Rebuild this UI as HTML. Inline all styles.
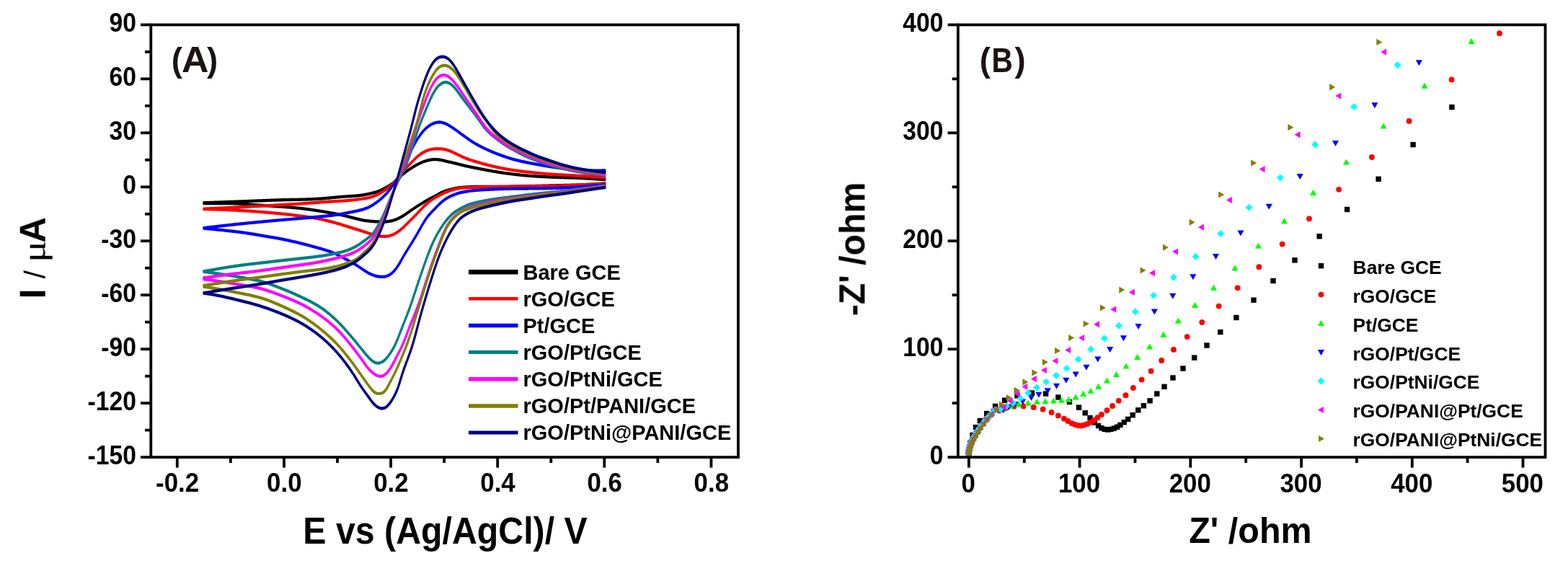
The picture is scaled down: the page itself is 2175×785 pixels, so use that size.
<!DOCTYPE html>
<html lang="en"><head><meta charset="utf-8"><style>html,body{margin:0;padding:0;background:#fff;}svg{display:block;}</style></head>
<body>
<svg width="2175" height="785" viewBox="0 0 2175 785" font-family="'Liberation Sans', sans-serif">
<rect width="2175" height="785" fill="#fff"/>
<defs><filter id="soft" filterUnits="userSpaceOnUse" x="0" y="0" width="2175" height="785" color-interpolation-filters="sRGB"><feGaussianBlur stdDeviation="0.55"/></filter></defs>
<g filter="url(#soft)">
<g id="plotA">
<g transform="scale(1,1.3871)" fill="none" stroke-width="3.1" stroke-linejoin="round" stroke-linecap="butt">
<path d="M840.3,183.44 L839.8,183.47 L838.8,183.49 L837.8,183.53 L836.8,183.56 L835.8,183.61 L834.8,183.65 L833.8,183.69 L832.8,183.74 L831.8,183.79 L830.8,183.83 L829.8,183.88 L828.8,183.93 L827.8,183.97 L826.8,184.02 L825.8,184.06 L824.8,184.11 L823.8,184.15 L822.8,184.20 L821.8,184.24 L820.8,184.28 L819.8,184.33 L818.8,184.37 L817.8,184.41 L816.8,184.45 L815.8,184.49 L814.8,184.53 L813.8,184.56 L812.8,184.60 L811.8,184.64 L810.8,184.67 L809.8,184.70 L808.8,184.74 L807.8,184.77 L806.8,184.80 L805.8,184.82 L804.8,184.85 L803.8,184.87 L802.8,184.90 L801.8,184.92 L800.8,184.94 L799.8,184.96 L798.8,184.98 L797.8,185.00 L796.8,185.02 L795.8,185.03 L794.8,185.05 L793.8,185.07 L792.8,185.09 L791.8,185.10 L790.8,185.12 L789.8,185.14 L788.8,185.16 L787.8,185.17 L786.8,185.19 L785.8,185.21 L784.8,185.23 L783.8,185.25 L782.8,185.26 L781.8,185.28 L780.8,185.30 L779.8,185.32 L778.8,185.34 L777.8,185.36 L776.8,185.37 L775.8,185.39 L774.8,185.41 L773.8,185.43 L772.8,185.45 L771.8,185.47 L770.8,185.49 L769.8,185.50 L768.8,185.52 L767.8,185.54 L766.8,185.56 L765.8,185.58 L764.8,185.60 L763.8,185.62 L762.8,185.64 L761.8,185.65 L760.8,185.67 L759.8,185.69 L758.8,185.71 L757.8,185.73 L756.8,185.75 L755.8,185.77 L754.8,185.78 L753.8,185.80 L752.8,185.82 L751.8,185.84 L750.8,185.86 L749.8,185.88 L748.8,185.89 L747.8,185.91 L746.8,185.93 L745.8,185.95 L744.8,185.97 L743.8,185.98 L742.8,186.00 L741.8,186.02 L740.8,186.04 L739.8,186.05 L738.8,186.07 L737.8,186.09 L736.8,186.10 L735.8,186.12 L734.8,186.14 L733.8,186.15 L732.8,186.17 L731.8,186.19 L730.8,186.20 L729.8,186.22 L728.8,186.23 L727.8,186.25 L726.8,186.27 L725.8,186.28 L724.8,186.30 L723.8,186.31 L722.8,186.32 L721.8,186.34 L720.8,186.35 L719.8,186.37 L718.8,186.38 L717.8,186.39 L716.8,186.41 L715.8,186.42 L714.8,186.43 L713.8,186.45 L712.8,186.46 L711.8,186.47 L710.8,186.49 L709.8,186.50 L708.8,186.51 L707.8,186.53 L706.8,186.54 L705.8,186.55 L704.8,186.57 L703.8,186.58 L702.8,186.59 L701.8,186.60 L700.8,186.61 L699.8,186.63 L698.8,186.64 L697.8,186.64 L696.8,186.65 L695.8,186.66 L694.8,186.66 L693.8,186.67 L692.8,186.67 L691.8,186.67 L690.8,186.67 L689.8,186.67 L688.8,186.67 L687.8,186.66 L686.8,186.66 L685.8,186.66 L684.8,186.65 L683.8,186.65 L682.8,186.64 L681.8,186.64 L680.8,186.63 L679.8,186.63 L678.8,186.62 L677.8,186.62 L676.8,186.62 L675.8,186.61 L674.8,186.61 L673.8,186.61 L672.8,186.61 L671.8,186.61 L670.8,186.61 L669.8,186.61 L668.8,186.61 L667.8,186.61 L666.8,186.62 L665.8,186.62 L664.8,186.63 L663.8,186.64 L662.8,186.65 L661.8,186.66 L660.8,186.68 L659.8,186.70 L658.8,186.71 L657.8,186.73 L656.8,186.76 L655.8,186.78 L654.8,186.80 L653.8,186.83 L652.8,186.86 L651.8,186.89 L650.8,186.92 L649.8,186.95 L648.8,186.99 L647.8,187.02 L646.8,187.06 L645.8,187.10 L644.8,187.14 L643.8,187.19 L642.8,187.23 L641.8,187.29 L640.8,187.34 L639.8,187.40 L638.8,187.47 L637.8,187.55 L636.8,187.64 L635.8,187.75 L634.8,187.86 L633.8,187.99 L632.8,188.13 L631.8,188.28 L630.8,188.44 L629.8,188.60 L628.8,188.77 L627.8,188.94 L626.8,189.11 L625.8,189.29 L624.8,189.47 L623.8,189.65 L622.8,189.84 L621.8,190.04 L620.8,190.25 L619.8,190.46 L618.8,190.69 L617.8,190.92 L616.8,191.17 L615.8,191.44 L614.8,191.73 L613.8,192.03 L612.8,192.36 L611.8,192.71 L610.8,193.09 L609.8,193.48 L608.8,193.88 L607.8,194.29 L606.8,194.70 L605.8,195.11 L604.8,195.51 L603.8,195.91 L602.8,196.29 L601.8,196.67 L600.8,197.03 L599.8,197.40 L598.8,197.76 L597.8,198.13 L596.8,198.50 L595.8,198.87 L594.8,199.26 L593.8,199.65 L592.8,200.06 L591.8,200.47 L590.8,200.89 L589.8,201.32 L588.8,201.75 L587.8,202.19 L586.8,202.63 L585.8,203.07 L584.8,203.51 L583.8,203.95 L582.8,204.40 L581.8,204.84 L580.8,205.29 L579.8,205.75 L578.8,206.21 L577.8,206.68 L576.8,207.16 L575.8,207.64 L574.8,208.12 L573.8,208.61 L572.8,209.10 L571.8,209.59 L570.8,210.08 L569.8,210.57 L568.8,211.07 L567.8,211.57 L566.8,212.07 L565.8,212.58 L564.8,213.08 L563.8,213.59 L562.8,214.09 L561.8,214.58 L560.8,215.06 L559.8,215.52 L558.8,215.97 L557.8,216.40 L556.8,216.82 L555.8,217.22 L554.8,217.61 L553.8,217.98 L552.8,218.34 L551.8,218.68 L550.8,219.00 L549.8,219.30 L548.8,219.58 L547.8,219.84 L546.8,220.07 L545.8,220.28 L544.8,220.48 L543.8,220.66 L542.8,220.83 L541.8,220.99 L540.8,221.13 L539.8,221.26 L538.8,221.38 L537.8,221.48 L536.8,221.56 L535.8,221.62 L534.8,221.67 L533.8,221.70 L532.8,221.72 L531.8,221.73 L530.8,221.73 L529.8,221.73 L528.8,221.72 L527.8,221.71 L526.8,221.70 L525.8,221.68 L524.8,221.66 L523.8,221.64 L522.8,221.61 L521.8,221.58 L520.8,221.55 L519.8,221.50 L518.8,221.45 L517.8,221.40 L516.8,221.34 L515.8,221.28 L514.8,221.21 L513.8,221.14 L512.8,221.07 L511.8,221.00 L510.8,220.92 L509.8,220.84 L508.8,220.76 L507.8,220.67 L506.8,220.58 L505.8,220.47 L504.8,220.36 L503.8,220.24 L502.8,220.10 L501.8,219.96 L500.8,219.80 L499.8,219.64 L498.8,219.46 L497.8,219.29 L496.8,219.10 L495.8,218.92 L494.8,218.73 L493.8,218.54 L492.8,218.35 L491.8,218.16 L490.8,217.97 L489.8,217.77 L488.8,217.58 L487.8,217.39 L486.8,217.20 L485.8,217.02 L484.8,216.83 L483.8,216.65 L482.8,216.47 L481.8,216.29 L480.8,216.12 L479.8,215.95 L478.8,215.79 L477.8,215.62 L476.8,215.46 L475.8,215.30 L474.8,215.15 L473.8,214.99 L472.8,214.84 L471.8,214.68 L470.8,214.53 L469.8,214.38 L468.8,214.24 L467.8,214.09 L466.8,213.95 L465.8,213.81 L464.8,213.67 L463.8,213.53 L462.8,213.39 L461.8,213.26 L460.8,213.12 L459.8,212.99 L458.8,212.86 L457.8,212.72 L456.8,212.59 L455.8,212.47 L454.8,212.34 L453.8,212.21 L452.8,212.09 L451.8,211.96 L450.8,211.84 L449.8,211.72 L448.8,211.60 L447.8,211.48 L446.8,211.36 L445.8,211.24 L444.8,211.13 L443.8,211.01 L442.8,210.90 L441.8,210.79 L440.8,210.68 L439.8,210.57 L438.8,210.46 L437.8,210.35 L436.8,210.24 L435.8,210.14 L434.8,210.03 L433.8,209.93 L432.8,209.82 L431.8,209.72 L430.8,209.61 L429.8,209.51 L428.8,209.41 L427.8,209.31 L426.8,209.21 L425.8,209.11 L424.8,209.01 L423.8,208.92 L422.8,208.82 L421.8,208.73 L420.8,208.64 L419.8,208.55 L418.8,208.46 L417.8,208.37 L416.8,208.29 L415.8,208.21 L414.8,208.13 L413.8,208.05 L412.8,207.97 L411.8,207.90 L410.8,207.83 L409.8,207.76 L408.8,207.69 L407.8,207.62 L406.8,207.56 L405.8,207.50 L404.8,207.44 L403.8,207.38 L402.8,207.32 L401.8,207.26 L400.8,207.20 L399.8,207.15 L398.8,207.09 L397.8,207.04 L396.8,206.98 L395.8,206.93 L394.8,206.88 L393.8,206.83 L392.8,206.78 L391.8,206.72 L390.8,206.67 L389.8,206.62 L388.8,206.57 L387.8,206.52 L386.8,206.47 L385.8,206.42 L384.8,206.37 L383.8,206.32 L382.8,206.27 L381.8,206.22 L380.8,206.17 L379.8,206.12 L378.8,206.07 L377.8,206.02 L376.8,205.97 L375.8,205.93 L374.8,205.88 L373.8,205.83 L372.8,205.78 L371.8,205.74 L370.8,205.69 L369.8,205.65 L368.8,205.60 L367.8,205.55 L366.8,205.51 L365.8,205.46 L364.8,205.42 L363.8,205.37 L362.8,205.32 L361.8,205.28 L360.8,205.23 L359.8,205.18 L358.8,205.14 L357.8,205.09 L356.8,205.04 L355.8,204.99 L354.8,204.94 L353.8,204.89 L352.8,204.84 L351.8,204.78 L350.8,204.73 L349.8,204.67 L348.8,204.61 L347.8,204.55 L346.8,204.50 L345.8,204.43 L344.8,204.37 L343.8,204.31 L342.8,204.25 L341.8,204.19 L340.8,204.13 L339.8,204.07 L338.8,204.02 L337.8,203.96 L336.8,203.91 L335.8,203.85 L334.8,203.81 L333.8,203.76 L332.8,203.71 L331.8,203.67 L330.8,203.64 L329.8,203.60 L328.8,203.57 L327.8,203.55 L326.8,203.52 L325.8,203.50 L324.8,203.48 L323.8,203.47 L322.8,203.45 L321.8,203.44 L320.8,203.42 L319.8,203.41 L318.8,203.40 L317.8,203.39 L316.8,203.38 L315.8,203.37 L314.8,203.36 L313.8,203.35 L312.8,203.34 L311.8,203.34 L310.8,203.33 L309.8,203.32 L308.8,203.32 L307.8,203.32 L306.8,203.31 L305.8,203.31 L304.8,203.31 L303.8,203.31 L302.8,203.31 L301.8,203.31 L300.8,203.31 L299.8,203.31 L298.8,203.31 L297.8,203.31 L296.8,203.32 L295.8,203.32 L294.8,203.33 L293.8,203.33 L292.8,203.34 L291.8,203.35 L290.8,203.36 L289.8,203.37 L288.8,203.38 L287.8,203.39 L286.8,203.40 L285.8,203.41 L284.8,203.42 L283.8,203.42 L282.8,203.43 L282.8,202.77 L283.8,202.75 L284.8,202.73 L285.8,202.71 L286.8,202.69 L287.8,202.67 L288.8,202.64 L289.8,202.61 L290.8,202.59 L291.8,202.56 L292.8,202.54 L293.8,202.51 L294.8,202.48 L295.8,202.46 L296.8,202.43 L297.8,202.40 L298.8,202.38 L299.8,202.35 L300.8,202.33 L301.8,202.30 L302.8,202.27 L303.8,202.25 L304.8,202.22 L305.8,202.19 L306.8,202.17 L307.8,202.14 L308.8,202.11 L309.8,202.09 L310.8,202.06 L311.8,202.03 L312.8,202.01 L313.8,201.98 L314.8,201.95 L315.8,201.93 L316.8,201.90 L317.8,201.87 L318.8,201.85 L319.8,201.82 L320.8,201.79 L321.8,201.77 L322.8,201.74 L323.8,201.71 L324.8,201.69 L325.8,201.66 L326.8,201.63 L327.8,201.61 L328.8,201.58 L329.8,201.55 L330.8,201.52 L331.8,201.50 L332.8,201.47 L333.8,201.44 L334.8,201.41 L335.8,201.39 L336.8,201.36 L337.8,201.33 L338.8,201.30 L339.8,201.27 L340.8,201.25 L341.8,201.22 L342.8,201.19 L343.8,201.16 L344.8,201.13 L345.8,201.11 L346.8,201.08 L347.8,201.05 L348.8,201.02 L349.8,200.99 L350.8,200.96 L351.8,200.94 L352.8,200.91 L353.8,200.88 L354.8,200.85 L355.8,200.82 L356.8,200.79 L357.8,200.76 L358.8,200.73 L359.8,200.71 L360.8,200.68 L361.8,200.65 L362.8,200.62 L363.8,200.59 L364.8,200.56 L365.8,200.53 L366.8,200.51 L367.8,200.48 L368.8,200.45 L369.8,200.42 L370.8,200.39 L371.8,200.36 L372.8,200.33 L373.8,200.30 L374.8,200.28 L375.8,200.25 L376.8,200.22 L377.8,200.19 L378.8,200.16 L379.8,200.14 L380.8,200.11 L381.8,200.08 L382.8,200.06 L383.8,200.03 L384.8,200.01 L385.8,199.99 L386.8,199.96 L387.8,199.94 L388.8,199.92 L389.8,199.90 L390.8,199.88 L391.8,199.87 L392.8,199.85 L393.8,199.83 L394.8,199.82 L395.8,199.80 L396.8,199.79 L397.8,199.77 L398.8,199.76 L399.8,199.74 L400.8,199.73 L401.8,199.72 L402.8,199.70 L403.8,199.69 L404.8,199.68 L405.8,199.66 L406.8,199.65 L407.8,199.64 L408.8,199.62 L409.8,199.61 L410.8,199.60 L411.8,199.58 L412.8,199.57 L413.8,199.56 L414.8,199.54 L415.8,199.53 L416.8,199.51 L417.8,199.49 L418.8,199.48 L419.8,199.46 L420.8,199.44 L421.8,199.42 L422.8,199.40 L423.8,199.38 L424.8,199.36 L425.8,199.34 L426.8,199.31 L427.8,199.29 L428.8,199.26 L429.8,199.24 L430.8,199.21 L431.8,199.18 L432.8,199.15 L433.8,199.12 L434.8,199.08 L435.8,199.05 L436.8,199.01 L437.8,198.97 L438.8,198.93 L439.8,198.89 L440.8,198.85 L441.8,198.80 L442.8,198.76 L443.8,198.71 L444.8,198.65 L445.8,198.60 L446.8,198.55 L447.8,198.49 L448.8,198.43 L449.8,198.37 L450.8,198.31 L451.8,198.24 L452.8,198.18 L453.8,198.11 L454.8,198.05 L455.8,197.98 L456.8,197.91 L457.8,197.84 L458.8,197.77 L459.8,197.70 L460.8,197.63 L461.8,197.56 L462.8,197.49 L463.8,197.42 L464.8,197.35 L465.8,197.28 L466.8,197.22 L467.8,197.15 L468.8,197.08 L469.8,197.02 L470.8,196.96 L471.8,196.90 L472.8,196.84 L473.8,196.78 L474.8,196.73 L475.8,196.67 L476.8,196.62 L477.8,196.57 L478.8,196.52 L479.8,196.47 L480.8,196.42 L481.8,196.38 L482.8,196.33 L483.8,196.28 L484.8,196.23 L485.8,196.19 L486.8,196.14 L487.8,196.09 L488.8,196.04 L489.8,195.99 L490.8,195.93 L491.8,195.88 L492.8,195.82 L493.8,195.76 L494.8,195.70 L495.8,195.64 L496.8,195.57 L497.8,195.50 L498.8,195.43 L499.8,195.35 L500.8,195.26 L501.8,195.16 L502.8,195.06 L503.8,194.95 L504.8,194.83 L505.8,194.70 L506.8,194.56 L507.8,194.42 L508.8,194.27 L509.8,194.12 L510.8,193.97 L511.8,193.81 L512.8,193.65 L513.8,193.48 L514.8,193.31 L515.8,193.14 L516.8,192.96 L517.8,192.78 L518.8,192.59 L519.8,192.40 L520.8,192.19 L521.8,191.98 L522.8,191.75 L523.8,191.51 L524.8,191.25 L525.8,190.97 L526.8,190.68 L527.8,190.37 L528.8,190.04 L529.8,189.70 L530.8,189.34 L531.8,188.98 L532.8,188.60 L533.8,188.21 L534.8,187.82 L535.8,187.41 L536.8,187.00 L537.8,186.57 L538.8,186.13 L539.8,185.67 L540.8,185.20 L541.8,184.72 L542.8,184.22 L543.8,183.70 L544.8,183.17 L545.8,182.61 L546.8,182.04 L547.8,181.44 L548.8,180.83 L549.8,180.20 L550.8,179.55 L551.8,178.90 L552.8,178.23 L553.8,177.56 L554.8,176.89 L555.8,176.23 L556.8,175.58 L557.8,174.93 L558.8,174.30 L559.8,173.69 L560.8,173.09 L561.8,172.51 L562.8,171.94 L563.8,171.39 L564.8,170.86 L565.8,170.35 L566.8,169.84 L567.8,169.35 L568.8,168.87 L569.8,168.40 L570.8,167.94 L571.8,167.48 L572.8,167.03 L573.8,166.59 L574.8,166.16 L575.8,165.74 L576.8,165.33 L577.8,164.93 L578.8,164.54 L579.8,164.17 L580.8,163.81 L581.8,163.46 L582.8,163.12 L583.8,162.79 L584.8,162.48 L585.8,162.17 L586.8,161.88 L587.8,161.61 L588.8,161.35 L589.8,161.11 L590.8,160.89 L591.8,160.69 L592.8,160.50 L593.8,160.32 L594.8,160.15 L595.8,160.00 L596.8,159.86 L597.8,159.73 L598.8,159.62 L599.8,159.53 L600.8,159.46 L601.8,159.41 L602.8,159.38 L603.8,159.38 L604.8,159.40 L605.8,159.44 L606.8,159.50 L607.8,159.58 L608.8,159.67 L609.8,159.78 L610.8,159.90 L611.8,160.03 L612.8,160.17 L613.8,160.33 L614.8,160.49 L615.8,160.66 L616.8,160.84 L617.8,161.01 L618.8,161.19 L619.8,161.36 L620.8,161.53 L621.8,161.70 L622.8,161.86 L623.8,162.03 L624.8,162.19 L625.8,162.35 L626.8,162.52 L627.8,162.68 L628.8,162.85 L629.8,163.02 L630.8,163.20 L631.8,163.37 L632.8,163.55 L633.8,163.73 L634.8,163.91 L635.8,164.10 L636.8,164.28 L637.8,164.47 L638.8,164.65 L639.8,164.84 L640.8,165.02 L641.8,165.20 L642.8,165.38 L643.8,165.55 L644.8,165.72 L645.8,165.88 L646.8,166.04 L647.8,166.20 L648.8,166.35 L649.8,166.51 L650.8,166.66 L651.8,166.81 L652.8,166.95 L653.8,167.10 L654.8,167.25 L655.8,167.39 L656.8,167.54 L657.8,167.68 L658.8,167.83 L659.8,167.97 L660.8,168.12 L661.8,168.26 L662.8,168.40 L663.8,168.54 L664.8,168.68 L665.8,168.82 L666.8,168.96 L667.8,169.10 L668.8,169.24 L669.8,169.38 L670.8,169.52 L671.8,169.65 L672.8,169.79 L673.8,169.92 L674.8,170.06 L675.8,170.19 L676.8,170.33 L677.8,170.46 L678.8,170.59 L679.8,170.72 L680.8,170.85 L681.8,170.98 L682.8,171.11 L683.8,171.24 L684.8,171.36 L685.8,171.49 L686.8,171.61 L687.8,171.73 L688.8,171.85 L689.8,171.97 L690.8,172.09 L691.8,172.20 L692.8,172.31 L693.8,172.43 L694.8,172.54 L695.8,172.64 L696.8,172.75 L697.8,172.86 L698.8,172.96 L699.8,173.06 L700.8,173.16 L701.8,173.26 L702.8,173.36 L703.8,173.46 L704.8,173.55 L705.8,173.64 L706.8,173.73 L707.8,173.82 L708.8,173.91 L709.8,174.00 L710.8,174.08 L711.8,174.17 L712.8,174.25 L713.8,174.33 L714.8,174.41 L715.8,174.49 L716.8,174.57 L717.8,174.65 L718.8,174.73 L719.8,174.81 L720.8,174.88 L721.8,174.96 L722.8,175.03 L723.8,175.11 L724.8,175.18 L725.8,175.25 L726.8,175.32 L727.8,175.39 L728.8,175.46 L729.8,175.52 L730.8,175.59 L731.8,175.65 L732.8,175.71 L733.8,175.77 L734.8,175.83 L735.8,175.89 L736.8,175.95 L737.8,176.00 L738.8,176.05 L739.8,176.11 L740.8,176.16 L741.8,176.21 L742.8,176.25 L743.8,176.30 L744.8,176.34 L745.8,176.39 L746.8,176.43 L747.8,176.47 L748.8,176.52 L749.8,176.56 L750.8,176.60 L751.8,176.64 L752.8,176.67 L753.8,176.71 L754.8,176.75 L755.8,176.79 L756.8,176.82 L757.8,176.86 L758.8,176.89 L759.8,176.93 L760.8,176.96 L761.8,176.99 L762.8,177.02 L763.8,177.05 L764.8,177.08 L765.8,177.11 L766.8,177.14 L767.8,177.17 L768.8,177.20 L769.8,177.22 L770.8,177.25 L771.8,177.28 L772.8,177.30 L773.8,177.33 L774.8,177.35 L775.8,177.37 L776.8,177.40 L777.8,177.42 L778.8,177.44 L779.8,177.46 L780.8,177.49 L781.8,177.51 L782.8,177.53 L783.8,177.55 L784.8,177.57 L785.8,177.59 L786.8,177.61 L787.8,177.63 L788.8,177.66 L789.8,177.68 L790.8,177.70 L791.8,177.72 L792.8,177.74 L793.8,177.77 L794.8,177.79 L795.8,177.82 L796.8,177.84 L797.8,177.87 L798.8,177.90 L799.8,177.93 L800.8,177.96 L801.8,177.99 L802.8,178.02 L803.8,178.06 L804.8,178.09 L805.8,178.12 L806.8,178.16 L807.8,178.19 L808.8,178.23 L809.8,178.26 L810.8,178.30 L811.8,178.34 L812.8,178.37 L813.8,178.41 L814.8,178.45 L815.8,178.49 L816.8,178.53 L817.8,178.57 L818.8,178.62 L819.8,178.66 L820.8,178.70 L821.8,178.74 L822.8,178.79 L823.8,178.83 L824.8,178.87 L825.8,178.92 L826.8,178.96 L827.8,179.00 L828.8,179.05 L829.8,179.09 L830.8,179.13 L831.8,179.18 L832.8,179.22 L833.8,179.26 L834.8,179.30 L835.8,179.34 L836.8,179.38 L837.8,179.41 L838.8,179.44 L839.8,179.46 L840.3,179.48" stroke="#000000"/>
<path d="M840.3,183.66 L839.8,183.68 L838.8,183.71 L837.8,183.74 L836.8,183.77 L835.8,183.81 L834.8,183.84 L833.8,183.88 L832.8,183.92 L831.8,183.96 L830.8,184.00 L829.8,184.04 L828.8,184.08 L827.8,184.12 L826.8,184.15 L825.8,184.19 L824.8,184.23 L823.8,184.27 L822.8,184.30 L821.8,184.34 L820.8,184.38 L819.8,184.41 L818.8,184.45 L817.8,184.48 L816.8,184.52 L815.8,184.56 L814.8,184.59 L813.8,184.63 L812.8,184.66 L811.8,184.69 L810.8,184.73 L809.8,184.76 L808.8,184.80 L807.8,184.83 L806.8,184.86 L805.8,184.89 L804.8,184.93 L803.8,184.96 L802.8,184.99 L801.8,185.02 L800.8,185.05 L799.8,185.08 L798.8,185.12 L797.8,185.15 L796.8,185.18 L795.8,185.21 L794.8,185.24 L793.8,185.27 L792.8,185.30 L791.8,185.33 L790.8,185.36 L789.8,185.39 L788.8,185.42 L787.8,185.44 L786.8,185.47 L785.8,185.50 L784.8,185.53 L783.8,185.56 L782.8,185.59 L781.8,185.62 L780.8,185.65 L779.8,185.67 L778.8,185.70 L777.8,185.73 L776.8,185.76 L775.8,185.78 L774.8,185.81 L773.8,185.84 L772.8,185.86 L771.8,185.88 L770.8,185.91 L769.8,185.93 L768.8,185.96 L767.8,185.98 L766.8,186.00 L765.8,186.02 L764.8,186.04 L763.8,186.06 L762.8,186.08 L761.8,186.10 L760.8,186.12 L759.8,186.14 L758.8,186.15 L757.8,186.17 L756.8,186.18 L755.8,186.20 L754.8,186.21 L753.8,186.23 L752.8,186.24 L751.8,186.25 L750.8,186.26 L749.8,186.28 L748.8,186.29 L747.8,186.30 L746.8,186.31 L745.8,186.32 L744.8,186.33 L743.8,186.34 L742.8,186.35 L741.8,186.36 L740.8,186.36 L739.8,186.37 L738.8,186.38 L737.8,186.39 L736.8,186.40 L735.8,186.40 L734.8,186.41 L733.8,186.42 L732.8,186.43 L731.8,186.43 L730.8,186.44 L729.8,186.45 L728.8,186.45 L727.8,186.46 L726.8,186.47 L725.8,186.47 L724.8,186.48 L723.8,186.49 L722.8,186.49 L721.8,186.50 L720.8,186.51 L719.8,186.51 L718.8,186.52 L717.8,186.53 L716.8,186.53 L715.8,186.54 L714.8,186.55 L713.8,186.56 L712.8,186.57 L711.8,186.57 L710.8,186.58 L709.8,186.59 L708.8,186.60 L707.8,186.61 L706.8,186.62 L705.8,186.63 L704.8,186.63 L703.8,186.64 L702.8,186.65 L701.8,186.66 L700.8,186.67 L699.8,186.67 L698.8,186.68 L697.8,186.69 L696.8,186.70 L695.8,186.71 L694.8,186.72 L693.8,186.73 L692.8,186.73 L691.8,186.74 L690.8,186.75 L689.8,186.76 L688.8,186.77 L687.8,186.78 L686.8,186.79 L685.8,186.80 L684.8,186.81 L683.8,186.82 L682.8,186.84 L681.8,186.85 L680.8,186.86 L679.8,186.87 L678.8,186.88 L677.8,186.90 L676.8,186.91 L675.8,186.92 L674.8,186.94 L673.8,186.95 L672.8,186.97 L671.8,186.98 L670.8,187.00 L669.8,187.02 L668.8,187.04 L667.8,187.05 L666.8,187.07 L665.8,187.09 L664.8,187.11 L663.8,187.13 L662.8,187.15 L661.8,187.17 L660.8,187.20 L659.8,187.22 L658.8,187.24 L657.8,187.27 L656.8,187.30 L655.8,187.32 L654.8,187.35 L653.8,187.38 L652.8,187.41 L651.8,187.44 L650.8,187.47 L649.8,187.51 L648.8,187.54 L647.8,187.58 L646.8,187.62 L645.8,187.66 L644.8,187.70 L643.8,187.75 L642.8,187.80 L641.8,187.85 L640.8,187.91 L639.8,187.98 L638.8,188.06 L637.8,188.16 L636.8,188.26 L635.8,188.39 L634.8,188.54 L633.8,188.70 L632.8,188.87 L631.8,189.06 L630.8,189.26 L629.8,189.47 L628.8,189.68 L627.8,189.90 L626.8,190.12 L625.8,190.34 L624.8,190.58 L623.8,190.81 L622.8,191.06 L621.8,191.31 L620.8,191.57 L619.8,191.84 L618.8,192.12 L617.8,192.41 L616.8,192.71 L615.8,193.02 L614.8,193.35 L613.8,193.68 L612.8,194.04 L611.8,194.40 L610.8,194.78 L609.8,195.17 L608.8,195.57 L607.8,195.97 L606.8,196.38 L605.8,196.79 L604.8,197.20 L603.8,197.61 L602.8,198.02 L601.8,198.45 L600.8,198.89 L599.8,199.35 L598.8,199.83 L597.8,200.33 L596.8,200.86 L595.8,201.41 L594.8,201.98 L593.8,202.58 L592.8,203.20 L591.8,203.84 L590.8,204.51 L589.8,205.19 L588.8,205.89 L587.8,206.61 L586.8,207.34 L585.8,208.09 L584.8,208.83 L583.8,209.58 L582.8,210.33 L581.8,211.08 L580.8,211.83 L579.8,212.57 L578.8,213.31 L577.8,214.05 L576.8,214.78 L575.8,215.51 L574.8,216.23 L573.8,216.94 L572.8,217.66 L571.8,218.37 L570.8,219.08 L569.8,219.79 L568.8,220.51 L567.8,221.24 L566.8,221.97 L565.8,222.71 L564.8,223.46 L563.8,224.20 L562.8,224.94 L561.8,225.66 L560.8,226.37 L559.8,227.05 L558.8,227.71 L557.8,228.35 L556.8,228.97 L555.8,229.57 L554.8,230.16 L553.8,230.72 L552.8,231.27 L551.8,231.80 L550.8,232.30 L549.8,232.78 L548.8,233.22 L547.8,233.63 L546.8,234.00 L545.8,234.34 L544.8,234.65 L543.8,234.93 L542.8,235.19 L541.8,235.43 L540.8,235.64 L539.8,235.84 L538.8,236.01 L537.8,236.15 L536.8,236.26 L535.8,236.35 L534.8,236.40 L533.8,236.43 L532.8,236.44 L531.8,236.43 L530.8,236.40 L529.8,236.35 L528.8,236.28 L527.8,236.20 L526.8,236.11 L525.8,236.00 L524.8,235.87 L523.8,235.74 L522.8,235.59 L521.8,235.43 L520.8,235.26 L519.8,235.08 L518.8,234.89 L517.8,234.69 L516.8,234.48 L515.8,234.26 L514.8,234.04 L513.8,233.81 L512.8,233.58 L511.8,233.34 L510.8,233.10 L509.8,232.86 L508.8,232.62 L507.8,232.38 L506.8,232.13 L505.8,231.89 L504.8,231.65 L503.8,231.41 L502.8,231.17 L501.8,230.93 L500.8,230.69 L499.8,230.46 L498.8,230.23 L497.8,230.01 L496.8,229.79 L495.8,229.57 L494.8,229.35 L493.8,229.14 L492.8,228.93 L491.8,228.71 L490.8,228.49 L489.8,228.28 L488.8,228.06 L487.8,227.83 L486.8,227.61 L485.8,227.38 L484.8,227.16 L483.8,226.93 L482.8,226.70 L481.8,226.47 L480.8,226.24 L479.8,226.01 L478.8,225.78 L477.8,225.55 L476.8,225.33 L475.8,225.10 L474.8,224.87 L473.8,224.65 L472.8,224.43 L471.8,224.21 L470.8,223.99 L469.8,223.78 L468.8,223.57 L467.8,223.36 L466.8,223.16 L465.8,222.95 L464.8,222.75 L463.8,222.55 L462.8,222.35 L461.8,222.15 L460.8,221.95 L459.8,221.76 L458.8,221.56 L457.8,221.37 L456.8,221.18 L455.8,220.99 L454.8,220.80 L453.8,220.62 L452.8,220.44 L451.8,220.26 L450.8,220.09 L449.8,219.92 L448.8,219.75 L447.8,219.59 L446.8,219.43 L445.8,219.27 L444.8,219.12 L443.8,218.98 L442.8,218.83 L441.8,218.69 L440.8,218.56 L439.8,218.43 L438.8,218.30 L437.8,218.18 L436.8,218.05 L435.8,217.94 L434.8,217.82 L433.8,217.71 L432.8,217.59 L431.8,217.48 L430.8,217.38 L429.8,217.27 L428.8,217.16 L427.8,217.06 L426.8,216.95 L425.8,216.85 L424.8,216.75 L423.8,216.65 L422.8,216.55 L421.8,216.45 L420.8,216.34 L419.8,216.25 L418.8,216.15 L417.8,216.05 L416.8,215.95 L415.8,215.85 L414.8,215.76 L413.8,215.66 L412.8,215.57 L411.8,215.48 L410.8,215.39 L409.8,215.30 L408.8,215.21 L407.8,215.12 L406.8,215.03 L405.8,214.95 L404.8,214.86 L403.8,214.78 L402.8,214.69 L401.8,214.61 L400.8,214.53 L399.8,214.45 L398.8,214.37 L397.8,214.29 L396.8,214.21 L395.8,214.13 L394.8,214.05 L393.8,213.98 L392.8,213.90 L391.8,213.83 L390.8,213.76 L389.8,213.68 L388.8,213.61 L387.8,213.54 L386.8,213.47 L385.8,213.40 L384.8,213.33 L383.8,213.26 L382.8,213.20 L381.8,213.13 L380.8,213.06 L379.8,213.00 L378.8,212.93 L377.8,212.87 L376.8,212.80 L375.8,212.74 L374.8,212.67 L373.8,212.61 L372.8,212.55 L371.8,212.49 L370.8,212.42 L369.8,212.36 L368.8,212.30 L367.8,212.24 L366.8,212.18 L365.8,212.12 L364.8,212.07 L363.8,212.01 L362.8,211.95 L361.8,211.89 L360.8,211.83 L359.8,211.78 L358.8,211.72 L357.8,211.67 L356.8,211.61 L355.8,211.56 L354.8,211.50 L353.8,211.45 L352.8,211.39 L351.8,211.34 L350.8,211.29 L349.8,211.24 L348.8,211.18 L347.8,211.13 L346.8,211.08 L345.8,211.03 L344.8,210.98 L343.8,210.93 L342.8,210.88 L341.8,210.83 L340.8,210.78 L339.8,210.73 L338.8,210.69 L337.8,210.64 L336.8,210.59 L335.8,210.55 L334.8,210.50 L333.8,210.46 L332.8,210.42 L331.8,210.38 L330.8,210.33 L329.8,210.29 L328.8,210.25 L327.8,210.21 L326.8,210.18 L325.8,210.14 L324.8,210.10 L323.8,210.07 L322.8,210.03 L321.8,210.00 L320.8,209.96 L319.8,209.93 L318.8,209.90 L317.8,209.86 L316.8,209.83 L315.8,209.80 L314.8,209.77 L313.8,209.74 L312.8,209.71 L311.8,209.69 L310.8,209.66 L309.8,209.63 L308.8,209.61 L307.8,209.58 L306.8,209.55 L305.8,209.53 L304.8,209.51 L303.8,209.48 L302.8,209.46 L301.8,209.44 L300.8,209.41 L299.8,209.39 L298.8,209.37 L297.8,209.35 L296.8,209.33 L295.8,209.31 L294.8,209.29 L293.8,209.27 L292.8,209.25 L291.8,209.23 L290.8,209.21 L289.8,209.20 L288.8,209.18 L287.8,209.16 L286.8,209.14 L285.8,209.13 L284.8,209.11 L283.8,209.10 L282.8,209.09 L282.8,208.81 L283.8,208.79 L284.8,208.77 L285.8,208.74 L286.8,208.71 L287.8,208.68 L288.8,208.65 L289.8,208.61 L290.8,208.58 L291.8,208.54 L292.8,208.51 L293.8,208.47 L294.8,208.44 L295.8,208.40 L296.8,208.37 L297.8,208.33 L298.8,208.30 L299.8,208.26 L300.8,208.23 L301.8,208.19 L302.8,208.16 L303.8,208.12 L304.8,208.09 L305.8,208.05 L306.8,208.02 L307.8,207.98 L308.8,207.94 L309.8,207.91 L310.8,207.87 L311.8,207.84 L312.8,207.80 L313.8,207.77 L314.8,207.73 L315.8,207.69 L316.8,207.66 L317.8,207.62 L318.8,207.58 L319.8,207.55 L320.8,207.51 L321.8,207.48 L322.8,207.44 L323.8,207.40 L324.8,207.37 L325.8,207.33 L326.8,207.29 L327.8,207.26 L328.8,207.22 L329.8,207.18 L330.8,207.15 L331.8,207.11 L332.8,207.07 L333.8,207.04 L334.8,207.00 L335.8,206.96 L336.8,206.92 L337.8,206.89 L338.8,206.85 L339.8,206.81 L340.8,206.78 L341.8,206.74 L342.8,206.70 L343.8,206.67 L344.8,206.63 L345.8,206.59 L346.8,206.55 L347.8,206.52 L348.8,206.48 L349.8,206.44 L350.8,206.40 L351.8,206.37 L352.8,206.33 L353.8,206.29 L354.8,206.25 L355.8,206.22 L356.8,206.18 L357.8,206.14 L358.8,206.10 L359.8,206.06 L360.8,206.02 L361.8,205.99 L362.8,205.95 L363.8,205.91 L364.8,205.87 L365.8,205.83 L366.8,205.79 L367.8,205.75 L368.8,205.71 L369.8,205.67 L370.8,205.63 L371.8,205.59 L372.8,205.55 L373.8,205.51 L374.8,205.47 L375.8,205.43 L376.8,205.39 L377.8,205.35 L378.8,205.31 L379.8,205.27 L380.8,205.23 L381.8,205.18 L382.8,205.14 L383.8,205.10 L384.8,205.06 L385.8,205.02 L386.8,204.97 L387.8,204.93 L388.8,204.89 L389.8,204.85 L390.8,204.81 L391.8,204.76 L392.8,204.72 L393.8,204.68 L394.8,204.64 L395.8,204.59 L396.8,204.55 L397.8,204.51 L398.8,204.46 L399.8,204.42 L400.8,204.38 L401.8,204.33 L402.8,204.29 L403.8,204.25 L404.8,204.20 L405.8,204.16 L406.8,204.11 L407.8,204.07 L408.8,204.02 L409.8,203.98 L410.8,203.93 L411.8,203.88 L412.8,203.84 L413.8,203.79 L414.8,203.75 L415.8,203.70 L416.8,203.65 L417.8,203.60 L418.8,203.56 L419.8,203.51 L420.8,203.46 L421.8,203.41 L422.8,203.36 L423.8,203.31 L424.8,203.26 L425.8,203.21 L426.8,203.16 L427.8,203.11 L428.8,203.06 L429.8,203.00 L430.8,202.95 L431.8,202.90 L432.8,202.85 L433.8,202.79 L434.8,202.74 L435.8,202.68 L436.8,202.63 L437.8,202.57 L438.8,202.51 L439.8,202.46 L440.8,202.40 L441.8,202.34 L442.8,202.29 L443.8,202.23 L444.8,202.18 L445.8,202.12 L446.8,202.07 L447.8,202.02 L448.8,201.97 L449.8,201.92 L450.8,201.87 L451.8,201.82 L452.8,201.77 L453.8,201.73 L454.8,201.68 L455.8,201.64 L456.8,201.59 L457.8,201.55 L458.8,201.51 L459.8,201.47 L460.8,201.43 L461.8,201.39 L462.8,201.35 L463.8,201.31 L464.8,201.27 L465.8,201.23 L466.8,201.20 L467.8,201.16 L468.8,201.13 L469.8,201.09 L470.8,201.05 L471.8,201.02 L472.8,200.98 L473.8,200.94 L474.8,200.90 L475.8,200.85 L476.8,200.81 L477.8,200.76 L478.8,200.71 L479.8,200.65 L480.8,200.59 L481.8,200.53 L482.8,200.47 L483.8,200.40 L484.8,200.32 L485.8,200.24 L486.8,200.16 L487.8,200.08 L488.8,200.00 L489.8,199.91 L490.8,199.82 L491.8,199.73 L492.8,199.64 L493.8,199.55 L494.8,199.45 L495.8,199.36 L496.8,199.27 L497.8,199.18 L498.8,199.09 L499.8,199.00 L500.8,198.91 L501.8,198.82 L502.8,198.72 L503.8,198.63 L504.8,198.53 L505.8,198.43 L506.8,198.32 L507.8,198.21 L508.8,198.08 L509.8,197.95 L510.8,197.80 L511.8,197.64 L512.8,197.46 L513.8,197.26 L514.8,197.04 L515.8,196.81 L516.8,196.55 L517.8,196.28 L518.8,196.00 L519.8,195.70 L520.8,195.40 L521.8,195.08 L522.8,194.75 L523.8,194.41 L524.8,194.06 L525.8,193.70 L526.8,193.32 L527.8,192.93 L528.8,192.52 L529.8,192.10 L530.8,191.66 L531.8,191.21 L532.8,190.74 L533.8,190.26 L534.8,189.76 L535.8,189.25 L536.8,188.71 L537.8,188.16 L538.8,187.59 L539.8,187.00 L540.8,186.38 L541.8,185.75 L542.8,185.09 L543.8,184.41 L544.8,183.70 L545.8,182.96 L546.8,182.20 L547.8,181.40 L548.8,180.58 L549.8,179.73 L550.8,178.85 L551.8,177.96 L552.8,177.05 L553.8,176.13 L554.8,175.22 L555.8,174.30 L556.8,173.40 L557.8,172.51 L558.8,171.64 L559.8,170.80 L560.8,169.97 L561.8,169.16 L562.8,168.37 L563.8,167.61 L564.8,166.85 L565.8,166.11 L566.8,165.37 L567.8,164.63 L568.8,163.89 L569.8,163.15 L570.8,162.41 L571.8,161.65 L572.8,160.90 L573.8,160.16 L574.8,159.42 L575.8,158.70 L576.8,158.01 L577.8,157.33 L578.8,156.69 L579.8,156.08 L580.8,155.50 L581.8,154.94 L582.8,154.41 L583.8,153.90 L584.8,153.42 L585.8,152.96 L586.8,152.53 L587.8,152.12 L588.8,151.74 L589.8,151.39 L590.8,151.07 L591.8,150.77 L592.8,150.50 L593.8,150.24 L594.8,150.01 L595.8,149.79 L596.8,149.59 L597.8,149.40 L598.8,149.24 L599.8,149.11 L600.8,148.99 L601.8,148.91 L602.8,148.84 L603.8,148.80 L604.8,148.77 L605.8,148.75 L606.8,148.75 L607.8,148.75 L608.8,148.76 L609.8,148.79 L610.8,148.82 L611.8,148.88 L612.8,148.95 L613.8,149.04 L614.8,149.14 L615.8,149.27 L616.8,149.41 L617.8,149.57 L618.8,149.74 L619.8,149.93 L620.8,150.14 L621.8,150.36 L622.8,150.61 L623.8,150.88 L624.8,151.17 L625.8,151.47 L626.8,151.79 L627.8,152.12 L628.8,152.45 L629.8,152.79 L630.8,153.13 L631.8,153.47 L632.8,153.82 L633.8,154.16 L634.8,154.51 L635.8,154.86 L636.8,155.21 L637.8,155.57 L638.8,155.92 L639.8,156.26 L640.8,156.60 L641.8,156.94 L642.8,157.27 L643.8,157.58 L644.8,157.89 L645.8,158.18 L646.8,158.47 L647.8,158.74 L648.8,159.01 L649.8,159.26 L650.8,159.51 L651.8,159.76 L652.8,160.00 L653.8,160.24 L654.8,160.48 L655.8,160.71 L656.8,160.94 L657.8,161.16 L658.8,161.39 L659.8,161.61 L660.8,161.83 L661.8,162.04 L662.8,162.25 L663.8,162.46 L664.8,162.67 L665.8,162.88 L666.8,163.08 L667.8,163.28 L668.8,163.48 L669.8,163.68 L670.8,163.88 L671.8,164.07 L672.8,164.26 L673.8,164.45 L674.8,164.64 L675.8,164.83 L676.8,165.01 L677.8,165.19 L678.8,165.38 L679.8,165.56 L680.8,165.74 L681.8,165.91 L682.8,166.09 L683.8,166.26 L684.8,166.43 L685.8,166.60 L686.8,166.77 L687.8,166.93 L688.8,167.09 L689.8,167.25 L690.8,167.41 L691.8,167.56 L692.8,167.71 L693.8,167.86 L694.8,168.01 L695.8,168.15 L696.8,168.29 L697.8,168.43 L698.8,168.57 L699.8,168.71 L700.8,168.84 L701.8,168.97 L702.8,169.10 L703.8,169.22 L704.8,169.35 L705.8,169.47 L706.8,169.58 L707.8,169.70 L708.8,169.82 L709.8,169.93 L710.8,170.04 L711.8,170.14 L712.8,170.25 L713.8,170.35 L714.8,170.46 L715.8,170.56 L716.8,170.66 L717.8,170.75 L718.8,170.85 L719.8,170.94 L720.8,171.04 L721.8,171.13 L722.8,171.22 L723.8,171.31 L724.8,171.39 L725.8,171.48 L726.8,171.57 L727.8,171.65 L728.8,171.73 L729.8,171.81 L730.8,171.89 L731.8,171.97 L732.8,172.05 L733.8,172.13 L734.8,172.21 L735.8,172.28 L736.8,172.36 L737.8,172.43 L738.8,172.50 L739.8,172.58 L740.8,172.65 L741.8,172.72 L742.8,172.79 L743.8,172.86 L744.8,172.93 L745.8,173.00 L746.8,173.07 L747.8,173.14 L748.8,173.21 L749.8,173.27 L750.8,173.34 L751.8,173.41 L752.8,173.47 L753.8,173.54 L754.8,173.60 L755.8,173.67 L756.8,173.73 L757.8,173.79 L758.8,173.85 L759.8,173.92 L760.8,173.97 L761.8,174.03 L762.8,174.09 L763.8,174.15 L764.8,174.20 L765.8,174.26 L766.8,174.31 L767.8,174.36 L768.8,174.41 L769.8,174.46 L770.8,174.51 L771.8,174.55 L772.8,174.60 L773.8,174.64 L774.8,174.68 L775.8,174.72 L776.8,174.76 L777.8,174.80 L778.8,174.84 L779.8,174.88 L780.8,174.91 L781.8,174.95 L782.8,174.99 L783.8,175.02 L784.8,175.06 L785.8,175.09 L786.8,175.13 L787.8,175.16 L788.8,175.20 L789.8,175.23 L790.8,175.26 L791.8,175.30 L792.8,175.33 L793.8,175.37 L794.8,175.41 L795.8,175.45 L796.8,175.49 L797.8,175.53 L798.8,175.57 L799.8,175.62 L800.8,175.66 L801.8,175.71 L802.8,175.75 L803.8,175.80 L804.8,175.85 L805.8,175.89 L806.8,175.94 L807.8,175.99 L808.8,176.04 L809.8,176.10 L810.8,176.15 L811.8,176.20 L812.8,176.26 L813.8,176.31 L814.8,176.37 L815.8,176.42 L816.8,176.48 L817.8,176.53 L818.8,176.59 L819.8,176.65 L820.8,176.71 L821.8,176.77 L822.8,176.82 L823.8,176.88 L824.8,176.94 L825.8,177.00 L826.8,177.06 L827.8,177.12 L828.8,177.17 L829.8,177.23 L830.8,177.29 L831.8,177.34 L832.8,177.40 L833.8,177.45 L834.8,177.51 L835.8,177.56 L836.8,177.60 L837.8,177.65 L838.8,177.68 L839.8,177.71 L840.3,177.74" stroke="#ff0000"/>
<path d="M840.3,184.64 L839.8,184.68 L838.8,184.73 L837.8,184.79 L836.8,184.85 L835.8,184.92 L834.8,185.00 L833.8,185.07 L832.8,185.15 L831.8,185.22 L830.8,185.30 L829.8,185.37 L828.8,185.44 L827.8,185.51 L826.8,185.58 L825.8,185.65 L824.8,185.72 L823.8,185.79 L822.8,185.86 L821.8,185.92 L820.8,185.99 L819.8,186.05 L818.8,186.11 L817.8,186.17 L816.8,186.23 L815.8,186.29 L814.8,186.35 L813.8,186.41 L812.8,186.46 L811.8,186.52 L810.8,186.57 L809.8,186.62 L808.8,186.67 L807.8,186.72 L806.8,186.77 L805.8,186.82 L804.8,186.86 L803.8,186.91 L802.8,186.95 L801.8,187.00 L800.8,187.04 L799.8,187.08 L798.8,187.12 L797.8,187.16 L796.8,187.20 L795.8,187.24 L794.8,187.28 L793.8,187.32 L792.8,187.35 L791.8,187.39 L790.8,187.43 L789.8,187.46 L788.8,187.50 L787.8,187.53 L786.8,187.56 L785.8,187.60 L784.8,187.63 L783.8,187.66 L782.8,187.70 L781.8,187.73 L780.8,187.76 L779.8,187.79 L778.8,187.82 L777.8,187.86 L776.8,187.89 L775.8,187.92 L774.8,187.95 L773.8,187.98 L772.8,188.01 L771.8,188.04 L770.8,188.07 L769.8,188.09 L768.8,188.12 L767.8,188.14 L766.8,188.17 L765.8,188.19 L764.8,188.21 L763.8,188.23 L762.8,188.25 L761.8,188.27 L760.8,188.28 L759.8,188.30 L758.8,188.31 L757.8,188.32 L756.8,188.34 L755.8,188.35 L754.8,188.36 L753.8,188.37 L752.8,188.38 L751.8,188.39 L750.8,188.39 L749.8,188.40 L748.8,188.41 L747.8,188.42 L746.8,188.42 L745.8,188.43 L744.8,188.44 L743.8,188.44 L742.8,188.45 L741.8,188.46 L740.8,188.46 L739.8,188.47 L738.8,188.47 L737.8,188.48 L736.8,188.48 L735.8,188.49 L734.8,188.49 L733.8,188.50 L732.8,188.50 L731.8,188.51 L730.8,188.51 L729.8,188.52 L728.8,188.52 L727.8,188.53 L726.8,188.53 L725.8,188.54 L724.8,188.54 L723.8,188.55 L722.8,188.56 L721.8,188.56 L720.8,188.57 L719.8,188.58 L718.8,188.58 L717.8,188.59 L716.8,188.60 L715.8,188.61 L714.8,188.62 L713.8,188.63 L712.8,188.64 L711.8,188.65 L710.8,188.66 L709.8,188.67 L708.8,188.68 L707.8,188.69 L706.8,188.71 L705.8,188.72 L704.8,188.74 L703.8,188.76 L702.8,188.77 L701.8,188.79 L700.8,188.81 L699.8,188.83 L698.8,188.85 L697.8,188.88 L696.8,188.90 L695.8,188.92 L694.8,188.95 L693.8,188.97 L692.8,189.00 L691.8,189.02 L690.8,189.05 L689.8,189.08 L688.8,189.11 L687.8,189.14 L686.8,189.17 L685.8,189.20 L684.8,189.23 L683.8,189.26 L682.8,189.29 L681.8,189.32 L680.8,189.35 L679.8,189.39 L678.8,189.42 L677.8,189.46 L676.8,189.49 L675.8,189.53 L674.8,189.57 L673.8,189.60 L672.8,189.64 L671.8,189.68 L670.8,189.72 L669.8,189.77 L668.8,189.81 L667.8,189.86 L666.8,189.91 L665.8,189.96 L664.8,190.01 L663.8,190.06 L662.8,190.12 L661.8,190.18 L660.8,190.24 L659.8,190.30 L658.8,190.37 L657.8,190.44 L656.8,190.51 L655.8,190.59 L654.8,190.67 L653.8,190.75 L652.8,190.84 L651.8,190.93 L650.8,191.02 L649.8,191.13 L648.8,191.23 L647.8,191.34 L646.8,191.46 L645.8,191.58 L644.8,191.71 L643.8,191.84 L642.8,191.99 L641.8,192.13 L640.8,192.29 L639.8,192.46 L638.8,192.63 L637.8,192.82 L636.8,193.01 L635.8,193.22 L634.8,193.44 L633.8,193.68 L632.8,193.92 L631.8,194.17 L630.8,194.44 L629.8,194.71 L628.8,194.99 L627.8,195.28 L626.8,195.58 L625.8,195.89 L624.8,196.23 L623.8,196.58 L622.8,196.95 L621.8,197.35 L620.8,197.76 L619.8,198.20 L618.8,198.66 L617.8,199.14 L616.8,199.64 L615.8,200.17 L614.8,200.72 L613.8,201.29 L612.8,201.89 L611.8,202.52 L610.8,203.18 L609.8,203.87 L608.8,204.58 L607.8,205.30 L606.8,206.04 L605.8,206.79 L604.8,207.54 L603.8,208.29 L602.8,209.03 L601.8,209.77 L600.8,210.52 L599.8,211.26 L598.8,212.01 L597.8,212.77 L596.8,213.56 L595.8,214.36 L594.8,215.20 L593.8,216.07 L592.8,216.98 L591.8,217.95 L590.8,218.96 L589.8,220.03 L588.8,221.15 L587.8,222.32 L586.8,223.52 L585.8,224.77 L584.8,226.03 L583.8,227.32 L582.8,228.61 L581.8,229.90 L580.8,231.18 L579.8,232.45 L578.8,233.71 L577.8,234.95 L576.8,236.18 L575.8,237.40 L574.8,238.60 L573.8,239.78 L572.8,240.96 L571.8,242.13 L570.8,243.28 L569.8,244.44 L568.8,245.59 L567.8,246.74 L566.8,247.89 L565.8,249.04 L564.8,250.19 L563.8,251.34 L562.8,252.51 L561.8,253.69 L560.8,254.89 L559.8,256.12 L558.8,257.37 L557.8,258.64 L556.8,259.93 L555.8,261.22 L554.8,262.49 L553.8,263.73 L552.8,264.92 L551.8,266.06 L550.8,267.14 L549.8,268.15 L548.8,269.09 L547.8,269.98 L546.8,270.81 L545.8,271.59 L544.8,272.30 L543.8,272.96 L542.8,273.55 L541.8,274.09 L540.8,274.56 L539.8,274.97 L538.8,275.34 L537.8,275.65 L536.8,275.93 L535.8,276.17 L534.8,276.37 L533.8,276.53 L532.8,276.66 L531.8,276.75 L530.8,276.80 L529.8,276.81 L528.8,276.79 L527.8,276.74 L526.8,276.66 L525.8,276.57 L524.8,276.45 L523.8,276.32 L522.8,276.17 L521.8,276.00 L520.8,275.82 L519.8,275.62 L518.8,275.39 L517.8,275.15 L516.8,274.88 L515.8,274.59 L514.8,274.27 L513.8,273.94 L512.8,273.59 L511.8,273.22 L510.8,272.83 L509.8,272.42 L508.8,272.00 L507.8,271.56 L506.8,271.11 L505.8,270.65 L504.8,270.17 L503.8,269.69 L502.8,269.19 L501.8,268.69 L500.8,268.19 L499.8,267.69 L498.8,267.19 L497.8,266.71 L496.8,266.23 L495.8,265.77 L494.8,265.32 L493.8,264.88 L492.8,264.44 L491.8,264.02 L490.8,263.60 L489.8,263.18 L488.8,262.77 L487.8,262.36 L486.8,261.95 L485.8,261.55 L484.8,261.15 L483.8,260.75 L482.8,260.35 L481.8,259.95 L480.8,259.56 L479.8,259.16 L478.8,258.77 L477.8,258.38 L476.8,257.99 L475.8,257.60 L474.8,257.22 L473.8,256.83 L472.8,256.45 L471.8,256.07 L470.8,255.70 L469.8,255.33 L468.8,254.97 L467.8,254.61 L466.8,254.26 L465.8,253.92 L464.8,253.58 L463.8,253.26 L462.8,252.95 L461.8,252.64 L460.8,252.35 L459.8,252.07 L458.8,251.79 L457.8,251.53 L456.8,251.28 L455.8,251.03 L454.8,250.79 L453.8,250.56 L452.8,250.33 L451.8,250.11 L450.8,249.89 L449.8,249.67 L448.8,249.46 L447.8,249.25 L446.8,249.05 L445.8,248.84 L444.8,248.64 L443.8,248.43 L442.8,248.23 L441.8,248.03 L440.8,247.83 L439.8,247.62 L438.8,247.42 L437.8,247.22 L436.8,247.02 L435.8,246.81 L434.8,246.61 L433.8,246.41 L432.8,246.22 L431.8,246.02 L430.8,245.82 L429.8,245.63 L428.8,245.44 L427.8,245.25 L426.8,245.06 L425.8,244.87 L424.8,244.68 L423.8,244.49 L422.8,244.31 L421.8,244.13 L420.8,243.94 L419.8,243.76 L418.8,243.58 L417.8,243.41 L416.8,243.23 L415.8,243.05 L414.8,242.88 L413.8,242.70 L412.8,242.53 L411.8,242.36 L410.8,242.19 L409.8,242.02 L408.8,241.85 L407.8,241.68 L406.8,241.52 L405.8,241.35 L404.8,241.18 L403.8,241.02 L402.8,240.85 L401.8,240.69 L400.8,240.52 L399.8,240.36 L398.8,240.20 L397.8,240.04 L396.8,239.89 L395.8,239.73 L394.8,239.58 L393.8,239.43 L392.8,239.28 L391.8,239.14 L390.8,239.00 L389.8,238.86 L388.8,238.72 L387.8,238.59 L386.8,238.45 L385.8,238.32 L384.8,238.19 L383.8,238.07 L382.8,237.94 L381.8,237.82 L380.8,237.70 L379.8,237.57 L378.8,237.45 L377.8,237.33 L376.8,237.21 L375.8,237.09 L374.8,236.97 L373.8,236.85 L372.8,236.73 L371.8,236.60 L370.8,236.48 L369.8,236.36 L368.8,236.24 L367.8,236.11 L366.8,235.99 L365.8,235.86 L364.8,235.74 L363.8,235.61 L362.8,235.48 L361.8,235.36 L360.8,235.23 L359.8,235.10 L358.8,234.97 L357.8,234.85 L356.8,234.72 L355.8,234.60 L354.8,234.48 L353.8,234.36 L352.8,234.24 L351.8,234.12 L350.8,234.00 L349.8,233.89 L348.8,233.78 L347.8,233.66 L346.8,233.55 L345.8,233.44 L344.8,233.33 L343.8,233.22 L342.8,233.12 L341.8,233.01 L340.8,232.91 L339.8,232.80 L338.8,232.70 L337.8,232.60 L336.8,232.50 L335.8,232.40 L334.8,232.31 L333.8,232.21 L332.8,232.12 L331.8,232.02 L330.8,231.93 L329.8,231.84 L328.8,231.76 L327.8,231.67 L326.8,231.58 L325.8,231.50 L324.8,231.42 L323.8,231.33 L322.8,231.25 L321.8,231.17 L320.8,231.09 L319.8,231.01 L318.8,230.93 L317.8,230.85 L316.8,230.77 L315.8,230.69 L314.8,230.61 L313.8,230.53 L312.8,230.45 L311.8,230.37 L310.8,230.29 L309.8,230.21 L308.8,230.14 L307.8,230.06 L306.8,229.98 L305.8,229.91 L304.8,229.83 L303.8,229.76 L302.8,229.68 L301.8,229.61 L300.8,229.53 L299.8,229.46 L298.8,229.39 L297.8,229.32 L296.8,229.24 L295.8,229.17 L294.8,229.10 L293.8,229.03 L292.8,228.97 L291.8,228.90 L290.8,228.83 L289.8,228.76 L288.8,228.70 L287.8,228.64 L286.8,228.58 L285.8,228.52 L284.8,228.47 L283.8,228.43 L282.8,228.39 L282.8,227.85 L283.8,227.80 L284.8,227.74 L285.8,227.67 L286.8,227.60 L287.8,227.52 L288.8,227.43 L289.8,227.35 L290.8,227.26 L291.8,227.17 L292.8,227.09 L293.8,227.00 L294.8,226.92 L295.8,226.83 L296.8,226.75 L297.8,226.66 L298.8,226.58 L299.8,226.49 L300.8,226.41 L301.8,226.33 L302.8,226.24 L303.8,226.16 L304.8,226.08 L305.8,225.99 L306.8,225.91 L307.8,225.83 L308.8,225.75 L309.8,225.67 L310.8,225.59 L311.8,225.50 L312.8,225.42 L313.8,225.34 L314.8,225.26 L315.8,225.18 L316.8,225.10 L317.8,225.03 L318.8,224.95 L319.8,224.87 L320.8,224.79 L321.8,224.71 L322.8,224.64 L323.8,224.56 L324.8,224.48 L325.8,224.40 L326.8,224.33 L327.8,224.25 L328.8,224.18 L329.8,224.10 L330.8,224.03 L331.8,223.95 L332.8,223.88 L333.8,223.80 L334.8,223.73 L335.8,223.66 L336.8,223.58 L337.8,223.51 L338.8,223.44 L339.8,223.36 L340.8,223.29 L341.8,223.22 L342.8,223.15 L343.8,223.07 L344.8,223.00 L345.8,222.93 L346.8,222.86 L347.8,222.79 L348.8,222.72 L349.8,222.65 L350.8,222.58 L351.8,222.51 L352.8,222.44 L353.8,222.37 L354.8,222.30 L355.8,222.23 L356.8,222.16 L357.8,222.09 L358.8,222.02 L359.8,221.95 L360.8,221.88 L361.8,221.82 L362.8,221.75 L363.8,221.68 L364.8,221.61 L365.8,221.54 L366.8,221.48 L367.8,221.41 L368.8,221.34 L369.8,221.27 L370.8,221.21 L371.8,221.14 L372.8,221.07 L373.8,221.01 L374.8,220.94 L375.8,220.87 L376.8,220.81 L377.8,220.74 L378.8,220.67 L379.8,220.61 L380.8,220.54 L381.8,220.48 L382.8,220.41 L383.8,220.35 L384.8,220.28 L385.8,220.22 L386.8,220.16 L387.8,220.09 L388.8,220.03 L389.8,219.97 L390.8,219.90 L391.8,219.84 L392.8,219.78 L393.8,219.72 L394.8,219.66 L395.8,219.60 L396.8,219.54 L397.8,219.48 L398.8,219.42 L399.8,219.36 L400.8,219.30 L401.8,219.24 L402.8,219.18 L403.8,219.12 L404.8,219.06 L405.8,219.00 L406.8,218.94 L407.8,218.88 L408.8,218.82 L409.8,218.77 L410.8,218.71 L411.8,218.65 L412.8,218.59 L413.8,218.53 L414.8,218.47 L415.8,218.41 L416.8,218.35 L417.8,218.29 L418.8,218.23 L419.8,218.17 L420.8,218.10 L421.8,218.04 L422.8,217.98 L423.8,217.92 L424.8,217.86 L425.8,217.79 L426.8,217.73 L427.8,217.67 L428.8,217.60 L429.8,217.54 L430.8,217.47 L431.8,217.41 L432.8,217.34 L433.8,217.27 L434.8,217.21 L435.8,217.14 L436.8,217.07 L437.8,217.00 L438.8,216.93 L439.8,216.87 L440.8,216.80 L441.8,216.73 L442.8,216.66 L443.8,216.59 L444.8,216.52 L445.8,216.45 L446.8,216.38 L447.8,216.31 L448.8,216.24 L449.8,216.17 L450.8,216.09 L451.8,216.02 L452.8,215.94 L453.8,215.87 L454.8,215.79 L455.8,215.71 L456.8,215.63 L457.8,215.55 L458.8,215.46 L459.8,215.38 L460.8,215.29 L461.8,215.20 L462.8,215.11 L463.8,215.01 L464.8,214.91 L465.8,214.81 L466.8,214.71 L467.8,214.61 L468.8,214.50 L469.8,214.38 L470.8,214.27 L471.8,214.15 L472.8,214.03 L473.8,213.90 L474.8,213.77 L475.8,213.64 L476.8,213.51 L477.8,213.37 L478.8,213.23 L479.8,213.09 L480.8,212.95 L481.8,212.81 L482.8,212.67 L483.8,212.53 L484.8,212.39 L485.8,212.25 L486.8,212.10 L487.8,211.96 L488.8,211.82 L489.8,211.68 L490.8,211.54 L491.8,211.39 L492.8,211.25 L493.8,211.10 L494.8,210.95 L495.8,210.80 L496.8,210.63 L497.8,210.47 L498.8,210.29 L499.8,210.11 L500.8,209.92 L501.8,209.72 L502.8,209.51 L503.8,209.29 L504.8,209.06 L505.8,208.82 L506.8,208.57 L507.8,208.30 L508.8,208.02 L509.8,207.72 L510.8,207.41 L511.8,207.07 L512.8,206.71 L513.8,206.32 L514.8,205.92 L515.8,205.49 L516.8,205.04 L517.8,204.58 L518.8,204.10 L519.8,203.61 L520.8,203.10 L521.8,202.59 L522.8,202.06 L523.8,201.53 L524.8,200.98 L525.8,200.42 L526.8,199.84 L527.8,199.25 L528.8,198.63 L529.8,198.00 L530.8,197.35 L531.8,196.68 L532.8,195.98 L533.8,195.26 L534.8,194.52 L535.8,193.75 L536.8,192.95 L537.8,192.12 L538.8,191.27 L539.8,190.39 L540.8,189.48 L541.8,188.54 L542.8,187.58 L543.8,186.58 L544.8,185.56 L545.8,184.52 L546.8,183.44 L547.8,182.34 L548.8,181.20 L549.8,180.03 L550.8,178.84 L551.8,177.61 L552.8,176.34 L553.8,175.05 L554.8,173.73 L555.8,172.37 L556.8,170.98 L557.8,169.56 L558.8,168.10 L559.8,166.62 L560.8,165.11 L561.8,163.58 L562.8,162.03 L563.8,160.48 L564.8,158.94 L565.8,157.40 L566.8,155.88 L567.8,154.37 L568.8,152.88 L569.8,151.41 L570.8,149.95 L571.8,148.52 L572.8,147.10 L573.8,145.71 L574.8,144.35 L575.8,143.02 L576.8,141.74 L577.8,140.50 L578.8,139.31 L579.8,138.17 L580.8,137.08 L581.8,136.03 L582.8,135.02 L583.8,134.05 L584.8,133.12 L585.8,132.22 L586.8,131.37 L587.8,130.55 L588.8,129.78 L589.8,129.05 L590.8,128.36 L591.8,127.71 L592.8,127.11 L593.8,126.54 L594.8,126.01 L595.8,125.51 L596.8,125.05 L597.8,124.62 L598.8,124.23 L599.8,123.87 L600.8,123.54 L601.8,123.24 L602.8,122.98 L603.8,122.75 L604.8,122.55 L605.8,122.40 L606.8,122.29 L607.8,122.22 L608.8,122.19 L609.8,122.21 L610.8,122.27 L611.8,122.36 L612.8,122.48 L613.8,122.63 L614.8,122.81 L615.8,123.03 L616.8,123.28 L617.8,123.57 L618.8,123.89 L619.8,124.24 L620.8,124.62 L621.8,125.03 L622.8,125.46 L623.8,125.89 L624.8,126.34 L625.8,126.80 L626.8,127.27 L627.8,127.75 L628.8,128.23 L629.8,128.73 L630.8,129.23 L631.8,129.75 L632.8,130.27 L633.8,130.80 L634.8,131.33 L635.8,131.86 L636.8,132.39 L637.8,132.92 L638.8,133.45 L639.8,133.97 L640.8,134.49 L641.8,135.01 L642.8,135.53 L643.8,136.04 L644.8,136.56 L645.8,137.08 L646.8,137.59 L647.8,138.10 L648.8,138.61 L649.8,139.12 L650.8,139.62 L651.8,140.12 L652.8,140.61 L653.8,141.09 L654.8,141.56 L655.8,142.02 L656.8,142.48 L657.8,142.92 L658.8,143.35 L659.8,143.77 L660.8,144.19 L661.8,144.59 L662.8,144.99 L663.8,145.38 L664.8,145.76 L665.8,146.14 L666.8,146.52 L667.8,146.89 L668.8,147.25 L669.8,147.61 L670.8,147.97 L671.8,148.32 L672.8,148.67 L673.8,149.01 L674.8,149.35 L675.8,149.68 L676.8,150.01 L677.8,150.33 L678.8,150.65 L679.8,150.97 L680.8,151.28 L681.8,151.59 L682.8,151.89 L683.8,152.19 L684.8,152.48 L685.8,152.77 L686.8,153.06 L687.8,153.34 L688.8,153.62 L689.8,153.90 L690.8,154.17 L691.8,154.45 L692.8,154.72 L693.8,154.98 L694.8,155.24 L695.8,155.50 L696.8,155.76 L697.8,156.02 L698.8,156.27 L699.8,156.52 L700.8,156.76 L701.8,157.00 L702.8,157.24 L703.8,157.48 L704.8,157.71 L705.8,157.93 L706.8,158.16 L707.8,158.38 L708.8,158.59 L709.8,158.81 L710.8,159.01 L711.8,159.22 L712.8,159.42 L713.8,159.61 L714.8,159.80 L715.8,159.99 L716.8,160.18 L717.8,160.35 L718.8,160.53 L719.8,160.70 L720.8,160.87 L721.8,161.04 L722.8,161.20 L723.8,161.36 L724.8,161.52 L725.8,161.68 L726.8,161.83 L727.8,161.98 L728.8,162.13 L729.8,162.28 L730.8,162.42 L731.8,162.57 L732.8,162.71 L733.8,162.85 L734.8,162.99 L735.8,163.13 L736.8,163.26 L737.8,163.40 L738.8,163.53 L739.8,163.67 L740.8,163.80 L741.8,163.94 L742.8,164.07 L743.8,164.20 L744.8,164.33 L745.8,164.46 L746.8,164.59 L747.8,164.72 L748.8,164.85 L749.8,164.98 L750.8,165.11 L751.8,165.23 L752.8,165.36 L753.8,165.48 L754.8,165.61 L755.8,165.73 L756.8,165.85 L757.8,165.97 L758.8,166.09 L759.8,166.21 L760.8,166.33 L761.8,166.44 L762.8,166.56 L763.8,166.67 L764.8,166.78 L765.8,166.89 L766.8,167.00 L767.8,167.11 L768.8,167.21 L769.8,167.32 L770.8,167.42 L771.8,167.52 L772.8,167.62 L773.8,167.72 L774.8,167.82 L775.8,167.92 L776.8,168.02 L777.8,168.12 L778.8,168.22 L779.8,168.32 L780.8,168.42 L781.8,168.52 L782.8,168.61 L783.8,168.71 L784.8,168.80 L785.8,168.89 L786.8,168.98 L787.8,169.07 L788.8,169.16 L789.8,169.24 L790.8,169.32 L791.8,169.40 L792.8,169.47 L793.8,169.54 L794.8,169.61 L795.8,169.68 L796.8,169.74 L797.8,169.80 L798.8,169.85 L799.8,169.90 L800.8,169.95 L801.8,170.00 L802.8,170.05 L803.8,170.10 L804.8,170.14 L805.8,170.18 L806.8,170.23 L807.8,170.27 L808.8,170.31 L809.8,170.34 L810.8,170.38 L811.8,170.41 L812.8,170.44 L813.8,170.47 L814.8,170.49 L815.8,170.51 L816.8,170.53 L817.8,170.54 L818.8,170.55 L819.8,170.56 L820.8,170.56 L821.8,170.57 L822.8,170.57 L823.8,170.57 L824.8,170.57 L825.8,170.57 L826.8,170.56 L827.8,170.56 L828.8,170.56 L829.8,170.55 L830.8,170.55 L831.8,170.54 L832.8,170.53 L833.8,170.52 L834.8,170.51 L835.8,170.50 L836.8,170.49 L837.8,170.48 L838.8,170.46 L839.8,170.45 L840.3,170.45" stroke="#0000ff"/>
<path d="M840.3,185.66 L839.8,185.71 L838.8,185.77 L837.8,185.84 L836.8,185.92 L835.8,186.00 L834.8,186.09 L833.8,186.18 L832.8,186.28 L831.8,186.37 L830.8,186.46 L829.8,186.56 L828.8,186.65 L827.8,186.74 L826.8,186.83 L825.8,186.93 L824.8,187.02 L823.8,187.11 L822.8,187.20 L821.8,187.29 L820.8,187.38 L819.8,187.47 L818.8,187.56 L817.8,187.65 L816.8,187.75 L815.8,187.84 L814.8,187.93 L813.8,188.02 L812.8,188.11 L811.8,188.20 L810.8,188.29 L809.8,188.39 L808.8,188.48 L807.8,188.57 L806.8,188.67 L805.8,188.76 L804.8,188.85 L803.8,188.95 L802.8,189.05 L801.8,189.14 L800.8,189.24 L799.8,189.34 L798.8,189.43 L797.8,189.53 L796.8,189.63 L795.8,189.72 L794.8,189.82 L793.8,189.91 L792.8,190.01 L791.8,190.10 L790.8,190.20 L789.8,190.29 L788.8,190.38 L787.8,190.47 L786.8,190.56 L785.8,190.65 L784.8,190.73 L783.8,190.82 L782.8,190.90 L781.8,190.98 L780.8,191.06 L779.8,191.14 L778.8,191.22 L777.8,191.30 L776.8,191.38 L775.8,191.45 L774.8,191.53 L773.8,191.60 L772.8,191.67 L771.8,191.75 L770.8,191.82 L769.8,191.89 L768.8,191.97 L767.8,192.04 L766.8,192.11 L765.8,192.19 L764.8,192.26 L763.8,192.33 L762.8,192.41 L761.8,192.48 L760.8,192.56 L759.8,192.63 L758.8,192.71 L757.8,192.78 L756.8,192.86 L755.8,192.93 L754.8,193.01 L753.8,193.08 L752.8,193.16 L751.8,193.23 L750.8,193.31 L749.8,193.39 L748.8,193.46 L747.8,193.54 L746.8,193.61 L745.8,193.69 L744.8,193.77 L743.8,193.85 L742.8,193.92 L741.8,194.00 L740.8,194.08 L739.8,194.16 L738.8,194.24 L737.8,194.33 L736.8,194.41 L735.8,194.49 L734.8,194.58 L733.8,194.66 L732.8,194.75 L731.8,194.84 L730.8,194.92 L729.8,195.01 L728.8,195.10 L727.8,195.20 L726.8,195.29 L725.8,195.38 L724.8,195.47 L723.8,195.57 L722.8,195.66 L721.8,195.75 L720.8,195.85 L719.8,195.94 L718.8,196.04 L717.8,196.13 L716.8,196.23 L715.8,196.32 L714.8,196.41 L713.8,196.51 L712.8,196.60 L711.8,196.70 L710.8,196.79 L709.8,196.88 L708.8,196.97 L707.8,197.06 L706.8,197.15 L705.8,197.24 L704.8,197.33 L703.8,197.42 L702.8,197.51 L701.8,197.60 L700.8,197.69 L699.8,197.78 L698.8,197.87 L697.8,197.96 L696.8,198.05 L695.8,198.15 L694.8,198.24 L693.8,198.33 L692.8,198.43 L691.8,198.53 L690.8,198.62 L689.8,198.73 L688.8,198.83 L687.8,198.93 L686.8,199.04 L685.8,199.14 L684.8,199.25 L683.8,199.36 L682.8,199.47 L681.8,199.59 L680.8,199.70 L679.8,199.82 L678.8,199.93 L677.8,200.05 L676.8,200.18 L675.8,200.30 L674.8,200.42 L673.8,200.55 L672.8,200.68 L671.8,200.81 L670.8,200.95 L669.8,201.08 L668.8,201.22 L667.8,201.36 L666.8,201.51 L665.8,201.65 L664.8,201.80 L663.8,201.96 L662.8,202.11 L661.8,202.27 L660.8,202.44 L659.8,202.61 L658.8,202.78 L657.8,202.96 L656.8,203.14 L655.8,203.34 L654.8,203.54 L653.8,203.75 L652.8,203.97 L651.8,204.20 L650.8,204.45 L649.8,204.72 L648.8,205.00 L647.8,205.30 L646.8,205.62 L645.8,205.95 L644.8,206.30 L643.8,206.67 L642.8,207.05 L641.8,207.43 L640.8,207.82 L639.8,208.22 L638.8,208.61 L637.8,209.01 L636.8,209.42 L635.8,209.83 L634.8,210.25 L633.8,210.69 L632.8,211.14 L631.8,211.62 L630.8,212.12 L629.8,212.65 L628.8,213.22 L627.8,213.82 L626.8,214.45 L625.8,215.12 L624.8,215.82 L623.8,216.56 L622.8,217.33 L621.8,218.13 L620.8,218.97 L619.8,219.83 L618.8,220.72 L617.8,221.64 L616.8,222.60 L615.8,223.58 L614.8,224.58 L613.8,225.62 L612.8,226.69 L611.8,227.78 L610.8,228.91 L609.8,230.07 L608.8,231.26 L607.8,232.48 L606.8,233.74 L605.8,235.02 L604.8,236.35 L603.8,237.71 L602.8,239.12 L601.8,240.58 L600.8,242.09 L599.8,243.68 L598.8,245.32 L597.8,247.04 L596.8,248.80 L595.8,250.62 L594.8,252.49 L593.8,254.39 L592.8,256.32 L591.8,258.28 L590.8,260.26 L589.8,262.27 L588.8,264.29 L587.8,266.33 L586.8,268.39 L585.8,270.46 L584.8,272.54 L583.8,274.63 L582.8,276.74 L581.8,278.86 L580.8,281.00 L579.8,283.15 L578.8,285.32 L577.8,287.50 L576.8,289.70 L575.8,291.90 L574.8,294.09 L573.8,296.28 L572.8,298.44 L571.8,300.59 L570.8,302.70 L569.8,304.78 L568.8,306.82 L567.8,308.82 L566.8,310.78 L565.8,312.70 L564.8,314.59 L563.8,316.45 L562.8,318.29 L561.8,320.11 L560.8,321.92 L559.8,323.74 L558.8,325.56 L557.8,327.39 L556.8,329.24 L555.8,331.10 L554.8,332.97 L553.8,334.84 L552.8,336.69 L551.8,338.51 L550.8,340.27 L549.8,341.97 L548.8,343.59 L547.8,345.12 L546.8,346.56 L545.8,347.91 L544.8,349.19 L543.8,350.40 L542.8,351.56 L541.8,352.67 L540.8,353.74 L539.8,354.76 L538.8,355.74 L537.8,356.68 L536.8,357.56 L535.8,358.38 L534.8,359.14 L533.8,359.84 L532.8,360.47 L531.8,361.03 L530.8,361.52 L529.8,361.95 L528.8,362.30 L527.8,362.59 L526.8,362.80 L525.8,362.95 L524.8,363.03 L523.8,363.04 L522.8,362.98 L521.8,362.84 L520.8,362.62 L519.8,362.33 L518.8,361.98 L517.8,361.55 L516.8,361.05 L515.8,360.49 L514.8,359.87 L513.8,359.21 L512.8,358.51 L511.8,357.77 L510.8,357.01 L509.8,356.22 L508.8,355.40 L507.8,354.56 L506.8,353.71 L505.8,352.84 L504.8,351.95 L503.8,351.06 L502.8,350.17 L501.8,349.28 L500.8,348.38 L499.8,347.49 L498.8,346.60 L497.8,345.71 L496.8,344.82 L495.8,343.93 L494.8,343.04 L493.8,342.16 L492.8,341.28 L491.8,340.41 L490.8,339.54 L489.8,338.68 L488.8,337.83 L487.8,336.98 L486.8,336.13 L485.8,335.29 L484.8,334.45 L483.8,333.61 L482.8,332.78 L481.8,331.95 L480.8,331.12 L479.8,330.30 L478.8,329.48 L477.8,328.67 L476.8,327.87 L475.8,327.07 L474.8,326.29 L473.8,325.51 L472.8,324.74 L471.8,323.99 L470.8,323.25 L469.8,322.52 L468.8,321.80 L467.8,321.09 L466.8,320.40 L465.8,319.72 L464.8,319.05 L463.8,318.39 L462.8,317.73 L461.8,317.09 L460.8,316.45 L459.8,315.82 L458.8,315.20 L457.8,314.59 L456.8,313.98 L455.8,313.38 L454.8,312.79 L453.8,312.21 L452.8,311.64 L451.8,311.08 L450.8,310.53 L449.8,309.99 L448.8,309.46 L447.8,308.93 L446.8,308.43 L445.8,307.93 L444.8,307.44 L443.8,306.96 L442.8,306.50 L441.8,306.04 L440.8,305.60 L439.8,305.16 L438.8,304.73 L437.8,304.32 L436.8,303.91 L435.8,303.50 L434.8,303.11 L433.8,302.72 L432.8,302.34 L431.8,301.96 L430.8,301.59 L429.8,301.22 L428.8,300.86 L427.8,300.50 L426.8,300.14 L425.8,299.78 L424.8,299.43 L423.8,299.08 L422.8,298.73 L421.8,298.38 L420.8,298.03 L419.8,297.68 L418.8,297.33 L417.8,296.99 L416.8,296.64 L415.8,296.30 L414.8,295.96 L413.8,295.62 L412.8,295.29 L411.8,294.96 L410.8,294.63 L409.8,294.30 L408.8,293.98 L407.8,293.66 L406.8,293.34 L405.8,293.02 L404.8,292.71 L403.8,292.41 L402.8,292.10 L401.8,291.80 L400.8,291.50 L399.8,291.20 L398.8,290.91 L397.8,290.62 L396.8,290.32 L395.8,290.03 L394.8,289.74 L393.8,289.45 L392.8,289.16 L391.8,288.87 L390.8,288.58 L389.8,288.29 L388.8,288.00 L387.8,287.72 L386.8,287.43 L385.8,287.15 L384.8,286.87 L383.8,286.59 L382.8,286.31 L381.8,286.04 L380.8,285.77 L379.8,285.50 L378.8,285.23 L377.8,284.97 L376.8,284.71 L375.8,284.45 L374.8,284.20 L373.8,283.95 L372.8,283.70 L371.8,283.46 L370.8,283.22 L369.8,282.99 L368.8,282.76 L367.8,282.54 L366.8,282.32 L365.8,282.10 L364.8,281.90 L363.8,281.69 L362.8,281.50 L361.8,281.30 L360.8,281.12 L359.8,280.93 L358.8,280.76 L357.8,280.58 L356.8,280.41 L355.8,280.25 L354.8,280.09 L353.8,279.93 L352.8,279.78 L351.8,279.62 L350.8,279.48 L349.8,279.33 L348.8,279.19 L347.8,279.05 L346.8,278.91 L345.8,278.77 L344.8,278.64 L343.8,278.50 L342.8,278.37 L341.8,278.24 L340.8,278.11 L339.8,277.99 L338.8,277.86 L337.8,277.73 L336.8,277.61 L335.8,277.48 L334.8,277.36 L333.8,277.24 L332.8,277.11 L331.8,276.99 L330.8,276.87 L329.8,276.74 L328.8,276.62 L327.8,276.50 L326.8,276.38 L325.8,276.25 L324.8,276.13 L323.8,276.02 L322.8,275.90 L321.8,275.78 L320.8,275.66 L319.8,275.55 L318.8,275.43 L317.8,275.32 L316.8,275.21 L315.8,275.09 L314.8,274.98 L313.8,274.87 L312.8,274.76 L311.8,274.65 L310.8,274.54 L309.8,274.43 L308.8,274.32 L307.8,274.21 L306.8,274.10 L305.8,274.00 L304.8,273.89 L303.8,273.78 L302.8,273.68 L301.8,273.57 L300.8,273.46 L299.8,273.36 L298.8,273.25 L297.8,273.15 L296.8,273.04 L295.8,272.94 L294.8,272.84 L293.8,272.74 L292.8,272.63 L291.8,272.53 L290.8,272.43 L289.8,272.33 L288.8,272.24 L287.8,272.14 L286.8,272.05 L285.8,271.96 L284.8,271.88 L283.8,271.82 L282.8,271.76 L282.8,271.20 L283.8,271.13 L284.8,271.04 L285.8,270.93 L286.8,270.82 L287.8,270.69 L288.8,270.57 L289.8,270.44 L290.8,270.31 L291.8,270.19 L292.8,270.06 L293.8,269.93 L294.8,269.80 L295.8,269.67 L296.8,269.54 L297.8,269.42 L298.8,269.29 L299.8,269.16 L300.8,269.03 L301.8,268.90 L302.8,268.78 L303.8,268.65 L304.8,268.52 L305.8,268.40 L306.8,268.27 L307.8,268.15 L308.8,268.03 L309.8,267.91 L310.8,267.79 L311.8,267.66 L312.8,267.55 L313.8,267.43 L314.8,267.31 L315.8,267.19 L316.8,267.08 L317.8,266.96 L318.8,266.85 L319.8,266.74 L320.8,266.63 L321.8,266.52 L322.8,266.41 L323.8,266.30 L324.8,266.20 L325.8,266.09 L326.8,265.99 L327.8,265.88 L328.8,265.78 L329.8,265.68 L330.8,265.58 L331.8,265.48 L332.8,265.38 L333.8,265.29 L334.8,265.19 L335.8,265.10 L336.8,265.00 L337.8,264.91 L338.8,264.82 L339.8,264.73 L340.8,264.64 L341.8,264.55 L342.8,264.46 L343.8,264.37 L344.8,264.28 L345.8,264.19 L346.8,264.11 L347.8,264.02 L348.8,263.94 L349.8,263.85 L350.8,263.77 L351.8,263.69 L352.8,263.60 L353.8,263.52 L354.8,263.44 L355.8,263.35 L356.8,263.27 L357.8,263.19 L358.8,263.11 L359.8,263.03 L360.8,262.95 L361.8,262.87 L362.8,262.79 L363.8,262.71 L364.8,262.63 L365.8,262.55 L366.8,262.47 L367.8,262.38 L368.8,262.30 L369.8,262.22 L370.8,262.14 L371.8,262.06 L372.8,261.98 L373.8,261.89 L374.8,261.81 L375.8,261.73 L376.8,261.65 L377.8,261.56 L378.8,261.48 L379.8,261.39 L380.8,261.31 L381.8,261.22 L382.8,261.14 L383.8,261.06 L384.8,260.97 L385.8,260.89 L386.8,260.80 L387.8,260.72 L388.8,260.64 L389.8,260.56 L390.8,260.48 L391.8,260.40 L392.8,260.32 L393.8,260.24 L394.8,260.16 L395.8,260.08 L396.8,260.01 L397.8,259.93 L398.8,259.85 L399.8,259.77 L400.8,259.70 L401.8,259.62 L402.8,259.54 L403.8,259.46 L404.8,259.39 L405.8,259.31 L406.8,259.23 L407.8,259.15 L408.8,259.08 L409.8,259.00 L410.8,258.92 L411.8,258.84 L412.8,258.76 L413.8,258.68 L414.8,258.60 L415.8,258.52 L416.8,258.44 L417.8,258.36 L418.8,258.28 L419.8,258.20 L420.8,258.11 L421.8,258.03 L422.8,257.95 L423.8,257.87 L424.8,257.79 L425.8,257.70 L426.8,257.62 L427.8,257.54 L428.8,257.45 L429.8,257.37 L430.8,257.29 L431.8,257.20 L432.8,257.12 L433.8,257.03 L434.8,256.94 L435.8,256.85 L436.8,256.77 L437.8,256.67 L438.8,256.58 L439.8,256.49 L440.8,256.39 L441.8,256.30 L442.8,256.20 L443.8,256.10 L444.8,255.99 L445.8,255.89 L446.8,255.78 L447.8,255.67 L448.8,255.56 L449.8,255.45 L450.8,255.33 L451.8,255.22 L452.8,255.09 L453.8,254.97 L454.8,254.85 L455.8,254.72 L456.8,254.59 L457.8,254.46 L458.8,254.32 L459.8,254.18 L460.8,254.04 L461.8,253.90 L462.8,253.75 L463.8,253.60 L464.8,253.45 L465.8,253.30 L466.8,253.14 L467.8,252.98 L468.8,252.82 L469.8,252.66 L470.8,252.49 L471.8,252.32 L472.8,252.15 L473.8,251.97 L474.8,251.79 L475.8,251.60 L476.8,251.41 L477.8,251.21 L478.8,251.00 L479.8,250.78 L480.8,250.55 L481.8,250.30 L482.8,250.04 L483.8,249.76 L484.8,249.47 L485.8,249.16 L486.8,248.84 L487.8,248.51 L488.8,248.17 L489.8,247.82 L490.8,247.46 L491.8,247.09 L492.8,246.70 L493.8,246.31 L494.8,245.89 L495.8,245.46 L496.8,245.02 L497.8,244.55 L498.8,244.07 L499.8,243.58 L500.8,243.07 L501.8,242.56 L502.8,242.04 L503.8,241.52 L504.8,241.00 L505.8,240.48 L506.8,239.95 L507.8,239.42 L508.8,238.88 L509.8,238.34 L510.8,237.79 L511.8,237.23 L512.8,236.65 L513.8,236.04 L514.8,235.38 L515.8,234.67 L516.8,233.87 L517.8,233.00 L518.8,232.03 L519.8,230.98 L520.8,229.86 L521.8,228.68 L522.8,227.46 L523.8,226.20 L524.8,224.92 L525.8,223.61 L526.8,222.27 L527.8,220.90 L528.8,219.49 L529.8,218.03 L530.8,216.52 L531.8,214.95 L532.8,213.33 L533.8,211.67 L534.8,209.98 L535.8,208.26 L536.8,206.51 L537.8,204.76 L538.8,203.00 L539.8,201.25 L540.8,199.51 L541.8,197.79 L542.8,196.11 L543.8,194.46 L544.8,192.84 L545.8,191.25 L546.8,189.69 L547.8,188.15 L548.8,186.63 L549.8,185.12 L550.8,183.62 L551.8,182.13 L552.8,180.65 L553.8,179.18 L554.8,177.72 L555.8,176.26 L556.8,174.81 L557.8,173.37 L558.8,171.92 L559.8,170.45 L560.8,168.96 L561.8,167.41 L562.8,165.80 L563.8,164.11 L564.8,162.33 L565.8,160.46 L566.8,158.49 L567.8,156.43 L568.8,154.31 L569.8,152.12 L570.8,149.90 L571.8,147.65 L572.8,145.39 L573.8,143.12 L574.8,140.85 L575.8,138.59 L576.8,136.35 L577.8,134.15 L578.8,131.99 L579.8,129.88 L580.8,127.82 L581.8,125.82 L582.8,123.87 L583.8,121.97 L584.8,120.11 L585.8,118.28 L586.8,116.49 L587.8,114.71 L588.8,112.97 L589.8,111.24 L590.8,109.53 L591.8,107.83 L592.8,106.14 L593.8,104.46 L594.8,102.80 L595.8,101.15 L596.8,99.54 L597.8,97.97 L598.8,96.45 L599.8,95.00 L600.8,93.62 L601.8,92.32 L602.8,91.09 L603.8,89.95 L604.8,88.89 L605.8,87.91 L606.8,87.02 L607.8,86.22 L608.8,85.51 L609.8,84.87 L610.8,84.30 L611.8,83.80 L612.8,83.36 L613.8,82.99 L614.8,82.69 L615.8,82.46 L616.8,82.31 L617.8,82.25 L618.8,82.27 L619.8,82.37 L620.8,82.54 L621.8,82.79 L622.8,83.10 L623.8,83.47 L624.8,83.91 L625.8,84.41 L626.8,84.98 L627.8,85.61 L628.8,86.30 L629.8,87.06 L630.8,87.87 L631.8,88.73 L632.8,89.63 L633.8,90.57 L634.8,91.53 L635.8,92.52 L636.8,93.52 L637.8,94.53 L638.8,95.53 L639.8,96.52 L640.8,97.51 L641.8,98.49 L642.8,99.45 L643.8,100.41 L644.8,101.36 L645.8,102.31 L646.8,103.25 L647.8,104.18 L648.8,105.12 L649.8,106.05 L650.8,106.98 L651.8,107.91 L652.8,108.84 L653.8,109.77 L654.8,110.71 L655.8,111.64 L656.8,112.59 L657.8,113.54 L658.8,114.49 L659.8,115.45 L660.8,116.42 L661.8,117.41 L662.8,118.40 L663.8,119.40 L664.8,120.41 L665.8,121.43 L666.8,122.45 L667.8,123.47 L668.8,124.47 L669.8,125.45 L670.8,126.41 L671.8,127.34 L672.8,128.24 L673.8,129.10 L674.8,129.92 L675.8,130.70 L676.8,131.45 L677.8,132.16 L678.8,132.85 L679.8,133.52 L680.8,134.16 L681.8,134.79 L682.8,135.40 L683.8,135.99 L684.8,136.58 L685.8,137.16 L686.8,137.73 L687.8,138.29 L688.8,138.85 L689.8,139.40 L690.8,139.95 L691.8,140.49 L692.8,141.03 L693.8,141.56 L694.8,142.08 L695.8,142.60 L696.8,143.11 L697.8,143.61 L698.8,144.10 L699.8,144.58 L700.8,145.05 L701.8,145.51 L702.8,145.97 L703.8,146.41 L704.8,146.84 L705.8,147.26 L706.8,147.68 L707.8,148.09 L708.8,148.49 L709.8,148.88 L710.8,149.28 L711.8,149.67 L712.8,150.06 L713.8,150.44 L714.8,150.83 L715.8,151.21 L716.8,151.59 L717.8,151.98 L718.8,152.36 L719.8,152.74 L720.8,153.12 L721.8,153.50 L722.8,153.88 L723.8,154.25 L724.8,154.61 L725.8,154.97 L726.8,155.33 L727.8,155.68 L728.8,156.02 L729.8,156.35 L730.8,156.67 L731.8,156.99 L732.8,157.31 L733.8,157.61 L734.8,157.91 L735.8,158.21 L736.8,158.50 L737.8,158.79 L738.8,159.07 L739.8,159.35 L740.8,159.62 L741.8,159.90 L742.8,160.17 L743.8,160.43 L744.8,160.70 L745.8,160.96 L746.8,161.22 L747.8,161.48 L748.8,161.74 L749.8,161.99 L750.8,162.24 L751.8,162.48 L752.8,162.73 L753.8,162.97 L754.8,163.21 L755.8,163.44 L756.8,163.68 L757.8,163.91 L758.8,164.14 L759.8,164.36 L760.8,164.58 L761.8,164.81 L762.8,165.02 L763.8,165.24 L764.8,165.45 L765.8,165.66 L766.8,165.87 L767.8,166.08 L768.8,166.28 L769.8,166.48 L770.8,166.68 L771.8,166.88 L772.8,167.07 L773.8,167.26 L774.8,167.45 L775.8,167.64 L776.8,167.82 L777.8,168.01 L778.8,168.19 L779.8,168.37 L780.8,168.54 L781.8,168.72 L782.8,168.89 L783.8,169.06 L784.8,169.22 L785.8,169.39 L786.8,169.55 L787.8,169.71 L788.8,169.87 L789.8,170.03 L790.8,170.18 L791.8,170.34 L792.8,170.49 L793.8,170.64 L794.8,170.78 L795.8,170.92 L796.8,171.07 L797.8,171.20 L798.8,171.34 L799.8,171.47 L800.8,171.60 L801.8,171.73 L802.8,171.85 L803.8,171.97 L804.8,172.09 L805.8,172.21 L806.8,172.32 L807.8,172.44 L808.8,172.55 L809.8,172.66 L810.8,172.77 L811.8,172.88 L812.8,172.99 L813.8,173.09 L814.8,173.20 L815.8,173.30 L816.8,173.41 L817.8,173.51 L818.8,173.61 L819.8,173.72 L820.8,173.82 L821.8,173.92 L822.8,174.02 L823.8,174.12 L824.8,174.22 L825.8,174.32 L826.8,174.41 L827.8,174.51 L828.8,174.61 L829.8,174.71 L830.8,174.81 L831.8,174.91 L832.8,175.01 L833.8,175.11 L834.8,175.20 L835.8,175.30 L836.8,175.39 L837.8,175.47 L838.8,175.55 L839.8,175.61 L840.3,175.66" stroke="#008080"/>
<path d="M840.3,186.17 L839.8,186.22 L838.8,186.29 L837.8,186.37 L836.8,186.45 L835.8,186.55 L834.8,186.65 L833.8,186.75 L832.8,186.85 L831.8,186.95 L830.8,187.05 L829.8,187.15 L828.8,187.25 L827.8,187.35 L826.8,187.45 L825.8,187.55 L824.8,187.65 L823.8,187.75 L822.8,187.84 L821.8,187.94 L820.8,188.04 L819.8,188.14 L818.8,188.23 L817.8,188.33 L816.8,188.43 L815.8,188.52 L814.8,188.62 L813.8,188.71 L812.8,188.81 L811.8,188.91 L810.8,189.00 L809.8,189.10 L808.8,189.19 L807.8,189.29 L806.8,189.39 L805.8,189.48 L804.8,189.58 L803.8,189.67 L802.8,189.77 L801.8,189.87 L800.8,189.96 L799.8,190.06 L798.8,190.15 L797.8,190.25 L796.8,190.34 L795.8,190.44 L794.8,190.53 L793.8,190.63 L792.8,190.72 L791.8,190.82 L790.8,190.91 L789.8,191.00 L788.8,191.09 L787.8,191.19 L786.8,191.28 L785.8,191.37 L784.8,191.46 L783.8,191.55 L782.8,191.64 L781.8,191.73 L780.8,191.82 L779.8,191.90 L778.8,191.99 L777.8,192.08 L776.8,192.16 L775.8,192.25 L774.8,192.33 L773.8,192.41 L772.8,192.50 L771.8,192.58 L770.8,192.67 L769.8,192.75 L768.8,192.83 L767.8,192.92 L766.8,193.00 L765.8,193.09 L764.8,193.17 L763.8,193.26 L762.8,193.34 L761.8,193.43 L760.8,193.52 L759.8,193.60 L758.8,193.69 L757.8,193.78 L756.8,193.87 L755.8,193.95 L754.8,194.04 L753.8,194.13 L752.8,194.22 L751.8,194.31 L750.8,194.40 L749.8,194.49 L748.8,194.58 L747.8,194.67 L746.8,194.76 L745.8,194.85 L744.8,194.94 L743.8,195.03 L742.8,195.12 L741.8,195.21 L740.8,195.31 L739.8,195.40 L738.8,195.49 L737.8,195.58 L736.8,195.68 L735.8,195.77 L734.8,195.86 L733.8,195.96 L732.8,196.05 L731.8,196.14 L730.8,196.24 L729.8,196.33 L728.8,196.42 L727.8,196.52 L726.8,196.61 L725.8,196.71 L724.8,196.80 L723.8,196.90 L722.8,196.99 L721.8,197.09 L720.8,197.19 L719.8,197.29 L718.8,197.38 L717.8,197.48 L716.8,197.58 L715.8,197.68 L714.8,197.79 L713.8,197.89 L712.8,197.99 L711.8,198.10 L710.8,198.20 L709.8,198.31 L708.8,198.41 L707.8,198.52 L706.8,198.63 L705.8,198.74 L704.8,198.85 L703.8,198.96 L702.8,199.07 L701.8,199.18 L700.8,199.29 L699.8,199.41 L698.8,199.52 L697.8,199.64 L696.8,199.76 L695.8,199.88 L694.8,200.00 L693.8,200.12 L692.8,200.24 L691.8,200.37 L690.8,200.49 L689.8,200.62 L688.8,200.75 L687.8,200.88 L686.8,201.01 L685.8,201.15 L684.8,201.28 L683.8,201.42 L682.8,201.55 L681.8,201.69 L680.8,201.83 L679.8,201.97 L678.8,202.11 L677.8,202.26 L676.8,202.41 L675.8,202.55 L674.8,202.71 L673.8,202.86 L672.8,203.02 L671.8,203.18 L670.8,203.34 L669.8,203.51 L668.8,203.68 L667.8,203.86 L666.8,204.04 L665.8,204.22 L664.8,204.41 L663.8,204.60 L662.8,204.80 L661.8,205.00 L660.8,205.21 L659.8,205.43 L658.8,205.65 L657.8,205.88 L656.8,206.11 L655.8,206.35 L654.8,206.60 L653.8,206.86 L652.8,207.12 L651.8,207.40 L650.8,207.68 L649.8,207.96 L648.8,208.26 L647.8,208.56 L646.8,208.88 L645.8,209.20 L644.8,209.53 L643.8,209.88 L642.8,210.25 L641.8,210.63 L640.8,211.03 L639.8,211.45 L638.8,211.90 L637.8,212.37 L636.8,212.86 L635.8,213.37 L634.8,213.91 L633.8,214.47 L632.8,215.06 L631.8,215.67 L630.8,216.32 L629.8,217.00 L628.8,217.71 L627.8,218.47 L626.8,219.26 L625.8,220.11 L624.8,220.99 L623.8,221.93 L622.8,222.93 L621.8,223.98 L620.8,225.10 L619.8,226.30 L618.8,227.59 L617.8,228.96 L616.8,230.43 L615.8,231.99 L614.8,233.63 L613.8,235.34 L612.8,237.11 L611.8,238.93 L610.8,240.77 L609.8,242.64 L608.8,244.52 L607.8,246.42 L606.8,248.34 L605.8,250.27 L604.8,252.22 L603.8,254.20 L602.8,256.19 L601.8,258.21 L600.8,260.24 L599.8,262.30 L598.8,264.37 L597.8,266.46 L596.8,268.57 L595.8,270.70 L594.8,272.86 L593.8,275.04 L592.8,277.24 L591.8,279.47 L590.8,281.72 L589.8,283.99 L588.8,286.26 L587.8,288.54 L586.8,290.80 L585.8,293.04 L584.8,295.25 L583.8,297.42 L582.8,299.55 L581.8,301.62 L580.8,303.65 L579.8,305.63 L578.8,307.56 L577.8,309.44 L576.8,311.29 L575.8,313.11 L574.8,314.90 L573.8,316.68 L572.8,318.45 L571.8,320.22 L570.8,322.00 L569.8,323.79 L568.8,325.60 L567.8,327.44 L566.8,329.30 L565.8,331.19 L564.8,333.09 L563.8,335.01 L562.8,336.91 L561.8,338.80 L560.8,340.64 L559.8,342.42 L558.8,344.13 L557.8,345.76 L556.8,347.33 L555.8,348.82 L554.8,350.27 L553.8,351.67 L552.8,353.06 L551.8,354.45 L550.8,355.84 L549.8,357.24 L548.8,358.65 L547.8,360.05 L546.8,361.44 L545.8,362.82 L544.8,364.15 L543.8,365.45 L542.8,366.70 L541.8,367.89 L540.8,369.02 L539.8,370.08 L538.8,371.06 L537.8,371.96 L536.8,372.77 L535.8,373.50 L534.8,374.15 L533.8,374.70 L532.8,375.17 L531.8,375.55 L530.8,375.85 L529.8,376.05 L528.8,376.17 L527.8,376.21 L526.8,376.18 L525.8,376.06 L524.8,375.89 L523.8,375.65 L522.8,375.35 L521.8,375.01 L520.8,374.61 L519.8,374.16 L518.8,373.68 L517.8,373.15 L516.8,372.59 L515.8,371.98 L514.8,371.34 L513.8,370.66 L512.8,369.94 L511.8,369.17 L510.8,368.35 L509.8,367.48 L508.8,366.57 L507.8,365.61 L506.8,364.62 L505.8,363.61 L504.8,362.58 L503.8,361.54 L502.8,360.50 L501.8,359.47 L500.8,358.45 L499.8,357.44 L498.8,356.45 L497.8,355.46 L496.8,354.48 L495.8,353.52 L494.8,352.56 L493.8,351.61 L492.8,350.66 L491.8,349.73 L490.8,348.80 L489.8,347.89 L488.8,346.98 L487.8,346.07 L486.8,345.18 L485.8,344.28 L484.8,343.39 L483.8,342.51 L482.8,341.62 L481.8,340.75 L480.8,339.87 L479.8,339.01 L478.8,338.15 L477.8,337.30 L476.8,336.45 L475.8,335.62 L474.8,334.80 L473.8,333.99 L472.8,333.19 L471.8,332.41 L470.8,331.64 L469.8,330.89 L468.8,330.15 L467.8,329.42 L466.8,328.72 L465.8,328.02 L464.8,327.34 L463.8,326.68 L462.8,326.02 L461.8,325.38 L460.8,324.74 L459.8,324.12 L458.8,323.51 L457.8,322.90 L456.8,322.30 L455.8,321.72 L454.8,321.14 L453.8,320.57 L452.8,320.00 L451.8,319.45 L450.8,318.90 L449.8,318.36 L448.8,317.83 L447.8,317.30 L446.8,316.78 L445.8,316.26 L444.8,315.76 L443.8,315.25 L442.8,314.76 L441.8,314.27 L440.8,313.78 L439.8,313.30 L438.8,312.83 L437.8,312.36 L436.8,311.89 L435.8,311.44 L434.8,310.98 L433.8,310.54 L432.8,310.09 L431.8,309.66 L430.8,309.23 L429.8,308.80 L428.8,308.38 L427.8,307.96 L426.8,307.55 L425.8,307.15 L424.8,306.75 L423.8,306.36 L422.8,305.97 L421.8,305.58 L420.8,305.20 L419.8,304.83 L418.8,304.46 L417.8,304.10 L416.8,303.74 L415.8,303.38 L414.8,303.03 L413.8,302.69 L412.8,302.34 L411.8,302.01 L410.8,301.67 L409.8,301.35 L408.8,301.02 L407.8,300.70 L406.8,300.38 L405.8,300.07 L404.8,299.76 L403.8,299.46 L402.8,299.16 L401.8,298.86 L400.8,298.56 L399.8,298.27 L398.8,297.98 L397.8,297.69 L396.8,297.40 L395.8,297.11 L394.8,296.83 L393.8,296.54 L392.8,296.26 L391.8,295.97 L390.8,295.69 L389.8,295.41 L388.8,295.13 L387.8,294.85 L386.8,294.57 L385.8,294.30 L384.8,294.02 L383.8,293.75 L382.8,293.48 L381.8,293.22 L380.8,292.95 L379.8,292.69 L378.8,292.43 L377.8,292.18 L376.8,291.93 L375.8,291.68 L374.8,291.44 L373.8,291.20 L372.8,290.96 L371.8,290.72 L370.8,290.50 L369.8,290.27 L368.8,290.05 L367.8,289.84 L366.8,289.62 L365.8,289.42 L364.8,289.22 L363.8,289.02 L362.8,288.83 L361.8,288.64 L360.8,288.46 L359.8,288.29 L358.8,288.12 L357.8,287.95 L356.8,287.79 L355.8,287.63 L354.8,287.47 L353.8,287.32 L352.8,287.17 L351.8,287.03 L350.8,286.88 L349.8,286.74 L348.8,286.61 L347.8,286.47 L346.8,286.34 L345.8,286.21 L344.8,286.08 L343.8,285.95 L342.8,285.82 L341.8,285.70 L340.8,285.57 L339.8,285.45 L338.8,285.33 L337.8,285.21 L336.8,285.09 L335.8,284.96 L334.8,284.84 L333.8,284.72 L332.8,284.60 L331.8,284.48 L330.8,284.36 L329.8,284.24 L328.8,284.12 L327.8,284.00 L326.8,283.88 L325.8,283.76 L324.8,283.64 L323.8,283.52 L322.8,283.40 L321.8,283.29 L320.8,283.17 L319.8,283.05 L318.8,282.94 L317.8,282.82 L316.8,282.71 L315.8,282.60 L314.8,282.49 L313.8,282.37 L312.8,282.26 L311.8,282.15 L310.8,282.04 L309.8,281.93 L308.8,281.82 L307.8,281.71 L306.8,281.60 L305.8,281.50 L304.8,281.39 L303.8,281.28 L302.8,281.17 L301.8,281.07 L300.8,280.96 L299.8,280.86 L298.8,280.75 L297.8,280.65 L296.8,280.54 L295.8,280.44 L294.8,280.34 L293.8,280.23 L292.8,280.13 L291.8,280.03 L290.8,279.93 L289.8,279.83 L288.8,279.73 L287.8,279.64 L286.8,279.55 L285.8,279.46 L284.8,279.38 L283.8,279.31 L282.8,279.26 L282.8,277.72 L283.8,277.67 L284.8,277.60 L285.8,277.52 L286.8,277.43 L287.8,277.34 L288.8,277.24 L289.8,277.14 L290.8,277.04 L291.8,276.94 L292.8,276.85 L293.8,276.75 L294.8,276.65 L295.8,276.54 L296.8,276.44 L297.8,276.34 L298.8,276.24 L299.8,276.14 L300.8,276.03 L301.8,275.93 L302.8,275.83 L303.8,275.73 L304.8,275.63 L305.8,275.53 L306.8,275.43 L307.8,275.33 L308.8,275.23 L309.8,275.14 L310.8,275.04 L311.8,274.94 L312.8,274.85 L313.8,274.76 L314.8,274.66 L315.8,274.57 L316.8,274.48 L317.8,274.39 L318.8,274.30 L319.8,274.21 L320.8,274.12 L321.8,274.03 L322.8,273.94 L323.8,273.85 L324.8,273.77 L325.8,273.68 L326.8,273.60 L327.8,273.51 L328.8,273.43 L329.8,273.34 L330.8,273.26 L331.8,273.18 L332.8,273.09 L333.8,273.01 L334.8,272.93 L335.8,272.84 L336.8,272.76 L337.8,272.68 L338.8,272.60 L339.8,272.51 L340.8,272.43 L341.8,272.35 L342.8,272.27 L343.8,272.18 L344.8,272.10 L345.8,272.01 L346.8,271.93 L347.8,271.84 L348.8,271.76 L349.8,271.67 L350.8,271.58 L351.8,271.50 L352.8,271.41 L353.8,271.32 L354.8,271.23 L355.8,271.14 L356.8,271.05 L357.8,270.95 L358.8,270.86 L359.8,270.76 L360.8,270.67 L361.8,270.57 L362.8,270.47 L363.8,270.38 L364.8,270.28 L365.8,270.18 L366.8,270.08 L367.8,269.98 L368.8,269.88 L369.8,269.78 L370.8,269.67 L371.8,269.57 L372.8,269.47 L373.8,269.37 L374.8,269.26 L375.8,269.16 L376.8,269.05 L377.8,268.94 L378.8,268.84 L379.8,268.73 L380.8,268.62 L381.8,268.52 L382.8,268.41 L383.8,268.30 L384.8,268.19 L385.8,268.09 L386.8,267.98 L387.8,267.87 L388.8,267.77 L389.8,267.66 L390.8,267.56 L391.8,267.45 L392.8,267.35 L393.8,267.25 L394.8,267.15 L395.8,267.04 L396.8,266.94 L397.8,266.84 L398.8,266.74 L399.8,266.64 L400.8,266.54 L401.8,266.44 L402.8,266.33 L403.8,266.23 L404.8,266.13 L405.8,266.03 L406.8,265.93 L407.8,265.83 L408.8,265.73 L409.8,265.63 L410.8,265.53 L411.8,265.43 L412.8,265.33 L413.8,265.23 L414.8,265.13 L415.8,265.03 L416.8,264.93 L417.8,264.83 L418.8,264.73 L419.8,264.63 L420.8,264.52 L421.8,264.42 L422.8,264.32 L423.8,264.21 L424.8,264.11 L425.8,264.00 L426.8,263.89 L427.8,263.78 L428.8,263.67 L429.8,263.56 L430.8,263.44 L431.8,263.33 L432.8,263.21 L433.8,263.10 L434.8,262.98 L435.8,262.86 L436.8,262.73 L437.8,262.61 L438.8,262.48 L439.8,262.35 L440.8,262.22 L441.8,262.09 L442.8,261.96 L443.8,261.82 L444.8,261.69 L445.8,261.55 L446.8,261.40 L447.8,261.26 L448.8,261.11 L449.8,260.97 L450.8,260.82 L451.8,260.66 L452.8,260.51 L453.8,260.35 L454.8,260.19 L455.8,260.03 L456.8,259.87 L457.8,259.70 L458.8,259.53 L459.8,259.36 L460.8,259.18 L461.8,259.01 L462.8,258.83 L463.8,258.65 L464.8,258.47 L465.8,258.28 L466.8,258.09 L467.8,257.90 L468.8,257.71 L469.8,257.51 L470.8,257.32 L471.8,257.12 L472.8,256.91 L473.8,256.71 L474.8,256.50 L475.8,256.29 L476.8,256.07 L477.8,255.85 L478.8,255.63 L479.8,255.40 L480.8,255.16 L481.8,254.92 L482.8,254.68 L483.8,254.43 L484.8,254.17 L485.8,253.91 L486.8,253.64 L487.8,253.37 L488.8,253.08 L489.8,252.79 L490.8,252.48 L491.8,252.16 L492.8,251.82 L493.8,251.45 L494.8,251.06 L495.8,250.65 L496.8,250.20 L497.8,249.74 L498.8,249.25 L499.8,248.74 L500.8,248.22 L501.8,247.68 L502.8,247.15 L503.8,246.61 L504.8,246.06 L505.8,245.52 L506.8,244.97 L507.8,244.41 L508.8,243.84 L509.8,243.26 L510.8,242.64 L511.8,242.00 L512.8,241.32 L513.8,240.59 L514.8,239.80 L515.8,238.95 L516.8,238.04 L517.8,237.06 L518.8,236.02 L519.8,234.92 L520.8,233.76 L521.8,232.55 L522.8,231.30 L523.8,230.00 L524.8,228.66 L525.8,227.27 L526.8,225.84 L527.8,224.36 L528.8,222.83 L529.8,221.24 L530.8,219.60 L531.8,217.91 L532.8,216.16 L533.8,214.36 L534.8,212.51 L535.8,210.63 L536.8,208.71 L537.8,206.77 L538.8,204.81 L539.8,202.85 L540.8,200.89 L541.8,198.95 L542.8,197.02 L543.8,195.13 L544.8,193.27 L545.8,191.43 L546.8,189.60 L547.8,187.79 L548.8,185.99 L549.8,184.18 L550.8,182.37 L551.8,180.57 L552.8,178.75 L553.8,176.94 L554.8,175.13 L555.8,173.32 L556.8,171.51 L557.8,169.70 L558.8,167.89 L559.8,166.07 L560.8,164.22 L561.8,162.33 L562.8,160.40 L563.8,158.41 L564.8,156.36 L565.8,154.24 L566.8,152.05 L567.8,149.81 L568.8,147.51 L569.8,145.17 L570.8,142.79 L571.8,140.39 L572.8,137.97 L573.8,135.54 L574.8,133.11 L575.8,130.69 L576.8,128.30 L577.8,125.95 L578.8,123.66 L579.8,121.44 L580.8,119.30 L581.8,117.21 L582.8,115.18 L583.8,113.18 L584.8,111.19 L585.8,109.20 L586.8,107.21 L587.8,105.21 L588.8,103.21 L589.8,101.23 L590.8,99.29 L591.8,97.39 L592.8,95.55 L593.8,93.79 L594.8,92.10 L595.8,90.48 L596.8,88.94 L597.8,87.49 L598.8,86.11 L599.8,84.80 L600.8,83.58 L601.8,82.43 L602.8,81.35 L603.8,80.35 L604.8,79.44 L605.8,78.61 L606.8,77.88 L607.8,77.24 L608.8,76.69 L609.8,76.23 L610.8,75.86 L611.8,75.55 L612.8,75.33 L613.8,75.17 L614.8,75.09 L615.8,75.09 L616.8,75.16 L617.8,75.32 L618.8,75.54 L619.8,75.83 L620.8,76.19 L621.8,76.60 L622.8,77.06 L623.8,77.59 L624.8,78.16 L625.8,78.80 L626.8,79.50 L627.8,80.25 L628.8,81.05 L629.8,81.89 L630.8,82.77 L631.8,83.68 L632.8,84.62 L633.8,85.59 L634.8,86.58 L635.8,87.58 L636.8,88.61 L637.8,89.64 L638.8,90.69 L639.8,91.74 L640.8,92.80 L641.8,93.87 L642.8,94.93 L643.8,95.99 L644.8,97.06 L645.8,98.12 L646.8,99.17 L647.8,100.22 L648.8,101.26 L649.8,102.30 L650.8,103.34 L651.8,104.37 L652.8,105.40 L653.8,106.44 L654.8,107.47 L655.8,108.51 L656.8,109.55 L657.8,110.60 L658.8,111.65 L659.8,112.70 L660.8,113.77 L661.8,114.84 L662.8,115.92 L663.8,117.01 L664.8,118.11 L665.8,119.21 L666.8,120.31 L667.8,121.41 L668.8,122.48 L669.8,123.54 L670.8,124.57 L671.8,125.56 L672.8,126.52 L673.8,127.43 L674.8,128.31 L675.8,129.15 L676.8,129.95 L677.8,130.73 L678.8,131.48 L679.8,132.20 L680.8,132.90 L681.8,133.58 L682.8,134.24 L683.8,134.88 L684.8,135.51 L685.8,136.13 L686.8,136.73 L687.8,137.32 L688.8,137.90 L689.8,138.46 L690.8,139.02 L691.8,139.57 L692.8,140.10 L693.8,140.63 L694.8,141.15 L695.8,141.66 L696.8,142.15 L697.8,142.64 L698.8,143.13 L699.8,143.60 L700.8,144.06 L701.8,144.51 L702.8,144.96 L703.8,145.39 L704.8,145.82 L705.8,146.24 L706.8,146.65 L707.8,147.05 L708.8,147.45 L709.8,147.84 L710.8,148.23 L711.8,148.61 L712.8,148.99 L713.8,149.37 L714.8,149.75 L715.8,150.13 L716.8,150.50 L717.8,150.88 L718.8,151.25 L719.8,151.62 L720.8,151.99 L721.8,152.36 L722.8,152.72 L723.8,153.08 L724.8,153.44 L725.8,153.79 L726.8,154.13 L727.8,154.47 L728.8,154.80 L729.8,155.13 L730.8,155.45 L731.8,155.77 L732.8,156.08 L733.8,156.38 L734.8,156.68 L735.8,156.97 L736.8,157.26 L737.8,157.55 L738.8,157.83 L739.8,158.11 L740.8,158.39 L741.8,158.67 L742.8,158.94 L743.8,159.21 L744.8,159.48 L745.8,159.74 L746.8,160.01 L747.8,160.27 L748.8,160.53 L749.8,160.79 L750.8,161.04 L751.8,161.29 L752.8,161.54 L753.8,161.79 L754.8,162.04 L755.8,162.28 L756.8,162.52 L757.8,162.75 L758.8,162.99 L759.8,163.22 L760.8,163.45 L761.8,163.67 L762.8,163.90 L763.8,164.12 L764.8,164.34 L765.8,164.55 L766.8,164.77 L767.8,164.98 L768.8,165.19 L769.8,165.39 L770.8,165.59 L771.8,165.79 L772.8,165.99 L773.8,166.18 L774.8,166.37 L775.8,166.56 L776.8,166.74 L777.8,166.93 L778.8,167.11 L779.8,167.28 L780.8,167.46 L781.8,167.63 L782.8,167.80 L783.8,167.97 L784.8,168.14 L785.8,168.31 L786.8,168.48 L787.8,168.64 L788.8,168.80 L789.8,168.97 L790.8,169.13 L791.8,169.29 L792.8,169.44 L793.8,169.60 L794.8,169.75 L795.8,169.89 L796.8,170.04 L797.8,170.18 L798.8,170.32 L799.8,170.46 L800.8,170.59 L801.8,170.71 L802.8,170.84 L803.8,170.96 L804.8,171.08 L805.8,171.20 L806.8,171.31 L807.8,171.42 L808.8,171.53 L809.8,171.65 L810.8,171.76 L811.8,171.87 L812.8,171.98 L813.8,172.09 L814.8,172.20 L815.8,172.31 L816.8,172.42 L817.8,172.53 L818.8,172.64 L819.8,172.75 L820.8,172.87 L821.8,172.98 L822.8,173.09 L823.8,173.20 L824.8,173.31 L825.8,173.42 L826.8,173.53 L827.8,173.64 L828.8,173.75 L829.8,173.86 L830.8,173.97 L831.8,174.08 L832.8,174.19 L833.8,174.30 L834.8,174.41 L835.8,174.52 L836.8,174.62 L837.8,174.71 L838.8,174.80 L839.8,174.87 L840.3,174.93" stroke="#ff00ff"/>
<path d="M840.3,186.67 L839.8,186.71 L838.8,186.77 L837.8,186.84 L836.8,186.92 L835.8,187.01 L834.8,187.10 L833.8,187.19 L832.8,187.29 L831.8,187.39 L830.8,187.49 L829.8,187.59 L828.8,187.69 L827.8,187.79 L826.8,187.89 L825.8,188.00 L824.8,188.10 L823.8,188.20 L822.8,188.31 L821.8,188.41 L820.8,188.52 L819.8,188.62 L818.8,188.73 L817.8,188.83 L816.8,188.94 L815.8,189.04 L814.8,189.15 L813.8,189.25 L812.8,189.35 L811.8,189.46 L810.8,189.56 L809.8,189.66 L808.8,189.76 L807.8,189.87 L806.8,189.97 L805.8,190.07 L804.8,190.17 L803.8,190.27 L802.8,190.37 L801.8,190.47 L800.8,190.57 L799.8,190.67 L798.8,190.77 L797.8,190.87 L796.8,190.97 L795.8,191.06 L794.8,191.16 L793.8,191.26 L792.8,191.36 L791.8,191.45 L790.8,191.55 L789.8,191.64 L788.8,191.74 L787.8,191.83 L786.8,191.93 L785.8,192.02 L784.8,192.11 L783.8,192.20 L782.8,192.28 L781.8,192.37 L780.8,192.46 L779.8,192.54 L778.8,192.63 L777.8,192.71 L776.8,192.79 L775.8,192.87 L774.8,192.95 L773.8,193.03 L772.8,193.11 L771.8,193.19 L770.8,193.27 L769.8,193.35 L768.8,193.43 L767.8,193.51 L766.8,193.59 L765.8,193.67 L764.8,193.75 L763.8,193.84 L762.8,193.92 L761.8,194.01 L760.8,194.10 L759.8,194.18 L758.8,194.27 L757.8,194.37 L756.8,194.46 L755.8,194.55 L754.8,194.65 L753.8,194.74 L752.8,194.84 L751.8,194.94 L750.8,195.04 L749.8,195.14 L748.8,195.24 L747.8,195.34 L746.8,195.44 L745.8,195.54 L744.8,195.65 L743.8,195.75 L742.8,195.85 L741.8,195.95 L740.8,196.05 L739.8,196.15 L738.8,196.26 L737.8,196.36 L736.8,196.46 L735.8,196.55 L734.8,196.65 L733.8,196.75 L732.8,196.85 L731.8,196.94 L730.8,197.04 L729.8,197.13 L728.8,197.23 L727.8,197.32 L726.8,197.41 L725.8,197.51 L724.8,197.60 L723.8,197.70 L722.8,197.79 L721.8,197.89 L720.8,197.98 L719.8,198.08 L718.8,198.17 L717.8,198.27 L716.8,198.37 L715.8,198.47 L714.8,198.58 L713.8,198.68 L712.8,198.78 L711.8,198.89 L710.8,199.00 L709.8,199.11 L708.8,199.22 L707.8,199.33 L706.8,199.45 L705.8,199.56 L704.8,199.68 L703.8,199.80 L702.8,199.92 L701.8,200.04 L700.8,200.16 L699.8,200.29 L698.8,200.41 L697.8,200.54 L696.8,200.67 L695.8,200.80 L694.8,200.93 L693.8,201.06 L692.8,201.19 L691.8,201.33 L690.8,201.46 L689.8,201.60 L688.8,201.73 L687.8,201.87 L686.8,202.01 L685.8,202.15 L684.8,202.29 L683.8,202.43 L682.8,202.57 L681.8,202.72 L680.8,202.86 L679.8,203.01 L678.8,203.15 L677.8,203.30 L676.8,203.45 L675.8,203.60 L674.8,203.76 L673.8,203.91 L672.8,204.07 L671.8,204.23 L670.8,204.40 L669.8,204.57 L668.8,204.74 L667.8,204.91 L666.8,205.09 L665.8,205.27 L664.8,205.46 L663.8,205.64 L662.8,205.84 L661.8,206.04 L660.8,206.24 L659.8,206.44 L658.8,206.66 L657.8,206.87 L656.8,207.09 L655.8,207.32 L654.8,207.56 L653.8,207.80 L652.8,208.04 L651.8,208.29 L650.8,208.54 L649.8,208.79 L648.8,209.04 L647.8,209.29 L646.8,209.55 L645.8,209.81 L644.8,210.08 L643.8,210.37 L642.8,210.68 L641.8,211.03 L640.8,211.40 L639.8,211.82 L638.8,212.27 L637.8,212.76 L636.8,213.28 L635.8,213.82 L634.8,214.40 L633.8,215.00 L632.8,215.63 L631.8,216.28 L630.8,216.96 L629.8,217.68 L628.8,218.42 L627.8,219.20 L626.8,220.02 L625.8,220.89 L624.8,221.80 L623.8,222.77 L622.8,223.80 L621.8,224.90 L620.8,226.08 L619.8,227.35 L618.8,228.73 L617.8,230.20 L616.8,231.77 L615.8,233.42 L614.8,235.15 L613.8,236.94 L612.8,238.78 L611.8,240.64 L610.8,242.53 L609.8,244.43 L608.8,246.34 L607.8,248.26 L606.8,250.20 L605.8,252.16 L604.8,254.13 L603.8,256.13 L602.8,258.14 L601.8,260.18 L600.8,262.24 L599.8,264.32 L598.8,266.42 L597.8,268.54 L596.8,270.68 L595.8,272.85 L594.8,275.04 L593.8,277.25 L592.8,279.49 L591.8,281.76 L590.8,284.04 L589.8,286.34 L588.8,288.66 L587.8,290.99 L586.8,293.33 L585.8,295.68 L584.8,298.02 L583.8,300.37 L582.8,302.72 L581.8,305.07 L580.8,307.42 L579.8,309.77 L578.8,312.13 L577.8,314.48 L576.8,316.83 L575.8,319.17 L574.8,321.50 L573.8,323.83 L572.8,326.14 L571.8,328.44 L570.8,330.73 L569.8,332.99 L568.8,335.23 L567.8,337.42 L566.8,339.57 L565.8,341.66 L564.8,343.68 L563.8,345.63 L562.8,347.51 L561.8,349.33 L560.8,351.10 L559.8,352.84 L558.8,354.56 L557.8,356.28 L556.8,358.00 L555.8,359.72 L554.8,361.45 L553.8,363.16 L552.8,364.85 L551.8,366.52 L550.8,368.15 L549.8,369.74 L548.8,371.28 L547.8,372.79 L546.8,374.26 L545.8,375.70 L544.8,377.12 L543.8,378.51 L542.8,379.90 L541.8,381.29 L540.8,382.67 L539.8,384.05 L538.8,385.42 L537.8,386.75 L536.8,388.00 L535.8,389.15 L534.8,390.16 L533.8,391.01 L532.8,391.71 L531.8,392.26 L530.8,392.69 L529.8,393.01 L528.8,393.25 L527.8,393.42 L526.8,393.53 L525.8,393.58 L524.8,393.57 L523.8,393.50 L522.8,393.35 L521.8,393.11 L520.8,392.78 L519.8,392.35 L518.8,391.81 L517.8,391.17 L516.8,390.44 L515.8,389.64 L514.8,388.77 L513.8,387.86 L512.8,386.92 L511.8,385.95 L510.8,384.97 L509.8,383.98 L508.8,382.99 L507.8,381.98 L506.8,380.98 L505.8,379.97 L504.8,378.95 L503.8,377.94 L502.8,376.92 L501.8,375.90 L500.8,374.87 L499.8,373.85 L498.8,372.82 L497.8,371.79 L496.8,370.76 L495.8,369.72 L494.8,368.69 L493.8,367.67 L492.8,366.66 L491.8,365.65 L490.8,364.66 L489.8,363.68 L488.8,362.71 L487.8,361.75 L486.8,360.80 L485.8,359.86 L484.8,358.93 L483.8,358.01 L482.8,357.09 L481.8,356.18 L480.8,355.27 L479.8,354.38 L478.8,353.49 L477.8,352.61 L476.8,351.73 L475.8,350.87 L474.8,350.02 L473.8,349.17 L472.8,348.34 L471.8,347.52 L470.8,346.71 L469.8,345.92 L468.8,345.13 L467.8,344.36 L466.8,343.60 L465.8,342.85 L464.8,342.11 L463.8,341.39 L462.8,340.67 L461.8,339.96 L460.8,339.26 L459.8,338.57 L458.8,337.89 L457.8,337.22 L456.8,336.56 L455.8,335.90 L454.8,335.25 L453.8,334.61 L452.8,333.98 L451.8,333.35 L450.8,332.73 L449.8,332.12 L448.8,331.51 L447.8,330.91 L446.8,330.32 L445.8,329.73 L444.8,329.15 L443.8,328.57 L442.8,328.00 L441.8,327.44 L440.8,326.88 L439.8,326.33 L438.8,325.78 L437.8,325.23 L436.8,324.69 L435.8,324.16 L434.8,323.63 L433.8,323.11 L432.8,322.59 L431.8,322.08 L430.8,321.57 L429.8,321.07 L428.8,320.57 L427.8,320.09 L426.8,319.61 L425.8,319.13 L424.8,318.67 L423.8,318.20 L422.8,317.75 L421.8,317.31 L420.8,316.87 L419.8,316.43 L418.8,316.01 L417.8,315.59 L416.8,315.18 L415.8,314.77 L414.8,314.37 L413.8,313.97 L412.8,313.58 L411.8,313.20 L410.8,312.82 L409.8,312.44 L408.8,312.07 L407.8,311.71 L406.8,311.35 L405.8,310.99 L404.8,310.64 L403.8,310.29 L402.8,309.95 L401.8,309.61 L400.8,309.27 L399.8,308.93 L398.8,308.60 L397.8,308.27 L396.8,307.94 L395.8,307.61 L394.8,307.28 L393.8,306.95 L392.8,306.62 L391.8,306.30 L390.8,305.97 L389.8,305.65 L388.8,305.33 L387.8,305.01 L386.8,304.69 L385.8,304.37 L384.8,304.06 L383.8,303.75 L382.8,303.44 L381.8,303.14 L380.8,302.83 L379.8,302.53 L378.8,302.24 L377.8,301.94 L376.8,301.65 L375.8,301.37 L374.8,301.09 L373.8,300.81 L372.8,300.54 L371.8,300.27 L370.8,300.00 L369.8,299.74 L368.8,299.49 L367.8,299.24 L366.8,299.00 L365.8,298.76 L364.8,298.52 L363.8,298.29 L362.8,298.07 L361.8,297.86 L360.8,297.65 L359.8,297.44 L358.8,297.24 L357.8,297.04 L356.8,296.85 L355.8,296.67 L354.8,296.49 L353.8,296.31 L352.8,296.13 L351.8,295.96 L350.8,295.80 L349.8,295.63 L348.8,295.47 L347.8,295.31 L346.8,295.16 L345.8,295.00 L344.8,294.85 L343.8,294.70 L342.8,294.55 L341.8,294.40 L340.8,294.26 L339.8,294.11 L338.8,293.97 L337.8,293.82 L336.8,293.68 L335.8,293.53 L334.8,293.39 L333.8,293.25 L332.8,293.10 L331.8,292.96 L330.8,292.81 L329.8,292.67 L328.8,292.52 L327.8,292.38 L326.8,292.23 L325.8,292.09 L324.8,291.94 L323.8,291.80 L322.8,291.65 L321.8,291.51 L320.8,291.37 L319.8,291.23 L318.8,291.09 L317.8,290.95 L316.8,290.81 L315.8,290.67 L314.8,290.53 L313.8,290.39 L312.8,290.25 L311.8,290.12 L310.8,289.98 L309.8,289.85 L308.8,289.72 L307.8,289.59 L306.8,289.46 L305.8,289.33 L304.8,289.20 L303.8,289.07 L302.8,288.94 L301.8,288.82 L300.8,288.69 L299.8,288.57 L298.8,288.45 L297.8,288.33 L296.8,288.21 L295.8,288.09 L294.8,287.97 L293.8,287.85 L292.8,287.74 L291.8,287.63 L290.8,287.51 L289.8,287.40 L288.8,287.29 L287.8,287.19 L286.8,287.08 L285.8,286.99 L284.8,286.90 L283.8,286.83 L282.8,286.77 L282.8,285.48 L283.8,285.41 L284.8,285.33 L285.8,285.23 L286.8,285.12 L287.8,285.00 L288.8,284.88 L289.8,284.76 L290.8,284.64 L291.8,284.52 L292.8,284.40 L293.8,284.28 L294.8,284.16 L295.8,284.03 L296.8,283.91 L297.8,283.79 L298.8,283.67 L299.8,283.55 L300.8,283.44 L301.8,283.32 L302.8,283.20 L303.8,283.08 L304.8,282.96 L305.8,282.85 L306.8,282.73 L307.8,282.61 L308.8,282.50 L309.8,282.38 L310.8,282.27 L311.8,282.15 L312.8,282.04 L313.8,281.93 L314.8,281.81 L315.8,281.70 L316.8,281.59 L317.8,281.48 L318.8,281.37 L319.8,281.26 L320.8,281.15 L321.8,281.04 L322.8,280.94 L323.8,280.83 L324.8,280.72 L325.8,280.61 L326.8,280.51 L327.8,280.40 L328.8,280.30 L329.8,280.20 L330.8,280.09 L331.8,279.99 L332.8,279.89 L333.8,279.79 L334.8,279.68 L335.8,279.58 L336.8,279.48 L337.8,279.38 L338.8,279.28 L339.8,279.19 L340.8,279.09 L341.8,278.99 L342.8,278.89 L343.8,278.79 L344.8,278.70 L345.8,278.60 L346.8,278.50 L347.8,278.41 L348.8,278.31 L349.8,278.21 L350.8,278.12 L351.8,278.02 L352.8,277.93 L353.8,277.83 L354.8,277.73 L355.8,277.64 L356.8,277.54 L357.8,277.45 L358.8,277.35 L359.8,277.25 L360.8,277.16 L361.8,277.06 L362.8,276.96 L363.8,276.87 L364.8,276.77 L365.8,276.67 L366.8,276.57 L367.8,276.47 L368.8,276.37 L369.8,276.27 L370.8,276.17 L371.8,276.07 L372.8,275.97 L373.8,275.87 L374.8,275.77 L375.8,275.67 L376.8,275.57 L377.8,275.46 L378.8,275.36 L379.8,275.26 L380.8,275.15 L381.8,275.05 L382.8,274.95 L383.8,274.84 L384.8,274.74 L385.8,274.64 L386.8,274.54 L387.8,274.44 L388.8,274.34 L389.8,274.24 L390.8,274.14 L391.8,274.04 L392.8,273.94 L393.8,273.84 L394.8,273.75 L395.8,273.65 L396.8,273.55 L397.8,273.46 L398.8,273.36 L399.8,273.27 L400.8,273.17 L401.8,273.08 L402.8,272.99 L403.8,272.89 L404.8,272.80 L405.8,272.71 L406.8,272.61 L407.8,272.52 L408.8,272.43 L409.8,272.33 L410.8,272.24 L411.8,272.15 L412.8,272.06 L413.8,271.96 L414.8,271.87 L415.8,271.78 L416.8,271.68 L417.8,271.59 L418.8,271.50 L419.8,271.41 L420.8,271.32 L421.8,271.23 L422.8,271.14 L423.8,271.06 L424.8,270.98 L425.8,270.89 L426.8,270.81 L427.8,270.74 L428.8,270.66 L429.8,270.58 L430.8,270.50 L431.8,270.43 L432.8,270.35 L433.8,270.28 L434.8,270.20 L435.8,270.12 L436.8,270.04 L437.8,269.96 L438.8,269.88 L439.8,269.79 L440.8,269.71 L441.8,269.62 L442.8,269.53 L443.8,269.43 L444.8,269.33 L445.8,269.23 L446.8,269.13 L447.8,269.02 L448.8,268.91 L449.8,268.79 L450.8,268.67 L451.8,268.55 L452.8,268.43 L453.8,268.30 L454.8,268.17 L455.8,268.04 L456.8,267.91 L457.8,267.77 L458.8,267.64 L459.8,267.50 L460.8,267.35 L461.8,267.20 L462.8,267.05 L463.8,266.90 L464.8,266.74 L465.8,266.57 L466.8,266.41 L467.8,266.23 L468.8,266.05 L469.8,265.87 L470.8,265.68 L471.8,265.49 L472.8,265.29 L473.8,265.08 L474.8,264.87 L475.8,264.65 L476.8,264.42 L477.8,264.18 L478.8,263.94 L479.8,263.69 L480.8,263.44 L481.8,263.17 L482.8,262.90 L483.8,262.62 L484.8,262.34 L485.8,262.05 L486.8,261.76 L487.8,261.45 L488.8,261.14 L489.8,260.81 L490.8,260.48 L491.8,260.12 L492.8,259.73 L493.8,259.32 L494.8,258.88 L495.8,258.39 L496.8,257.87 L497.8,257.32 L498.8,256.74 L499.8,256.13 L500.8,255.50 L501.8,254.86 L502.8,254.20 L503.8,253.55 L504.8,252.89 L505.8,252.23 L506.8,251.56 L507.8,250.89 L508.8,250.20 L509.8,249.49 L510.8,248.76 L511.8,247.98 L512.8,247.17 L513.8,246.30 L514.8,245.37 L515.8,244.39 L516.8,243.34 L517.8,242.23 L518.8,241.06 L519.8,239.81 L520.8,238.51 L521.8,237.13 L522.8,235.70 L523.8,234.20 L524.8,232.66 L525.8,231.06 L526.8,229.42 L527.8,227.75 L528.8,226.05 L529.8,224.32 L530.8,222.55 L531.8,220.75 L532.8,218.92 L533.8,217.04 L534.8,215.12 L535.8,213.14 L536.8,211.11 L537.8,209.03 L538.8,206.90 L539.8,204.73 L540.8,202.54 L541.8,200.33 L542.8,198.14 L543.8,195.96 L544.8,193.79 L545.8,191.65 L546.8,189.50 L547.8,187.36 L548.8,185.20 L549.8,183.04 L550.8,180.86 L551.8,178.66 L552.8,176.46 L553.8,174.26 L554.8,172.08 L555.8,169.92 L556.8,167.80 L557.8,165.72 L558.8,163.69 L559.8,161.68 L560.8,159.70 L561.8,157.73 L562.8,155.75 L563.8,153.75 L564.8,151.72 L565.8,149.67 L566.8,147.59 L567.8,145.48 L568.8,143.35 L569.8,141.21 L570.8,139.06 L571.8,136.90 L572.8,134.75 L573.8,132.60 L574.8,130.44 L575.8,128.27 L576.8,126.05 L577.8,123.76 L578.8,121.37 L579.8,118.85 L580.8,116.18 L581.8,113.38 L582.8,110.49 L583.8,107.55 L584.8,104.64 L585.8,101.83 L586.8,99.17 L587.8,96.68 L588.8,94.37 L589.8,92.22 L590.8,90.22 L591.8,88.33 L592.8,86.54 L593.8,84.83 L594.8,83.19 L595.8,81.61 L596.8,80.11 L597.8,78.66 L598.8,77.28 L599.8,75.97 L600.8,74.71 L601.8,73.52 L602.8,72.40 L603.8,71.35 L604.8,70.38 L605.8,69.49 L606.8,68.71 L607.8,68.03 L608.8,67.44 L609.8,66.95 L610.8,66.54 L611.8,66.20 L612.8,65.93 L613.8,65.71 L614.8,65.56 L615.8,65.47 L616.8,65.44 L617.8,65.49 L618.8,65.60 L619.8,65.78 L620.8,66.03 L621.8,66.34 L622.8,66.72 L623.8,67.15 L624.8,67.64 L625.8,68.20 L626.8,68.82 L627.8,69.50 L628.8,70.23 L629.8,71.03 L630.8,71.87 L631.8,72.77 L632.8,73.71 L633.8,74.71 L634.8,75.74 L635.8,76.82 L636.8,77.92 L637.8,79.06 L638.8,80.21 L639.8,81.39 L640.8,82.57 L641.8,83.77 L642.8,84.98 L643.8,86.20 L644.8,87.42 L645.8,88.64 L646.8,89.87 L647.8,91.10 L648.8,92.34 L649.8,93.57 L650.8,94.81 L651.8,96.05 L652.8,97.30 L653.8,98.54 L654.8,99.77 L655.8,101.00 L656.8,102.22 L657.8,103.42 L658.8,104.61 L659.8,105.78 L660.8,106.92 L661.8,108.04 L662.8,109.14 L663.8,110.21 L664.8,111.26 L665.8,112.29 L666.8,113.30 L667.8,114.30 L668.8,115.28 L669.8,116.26 L670.8,117.22 L671.8,118.18 L672.8,119.15 L673.8,120.11 L674.8,121.08 L675.8,122.06 L676.8,123.05 L677.8,124.05 L678.8,125.06 L679.8,126.07 L680.8,127.09 L681.8,128.11 L682.8,129.11 L683.8,130.09 L684.8,131.03 L685.8,131.94 L686.8,132.80 L687.8,133.61 L688.8,134.38 L689.8,135.10 L690.8,135.78 L691.8,136.43 L692.8,137.05 L693.8,137.65 L694.8,138.22 L695.8,138.78 L696.8,139.32 L697.8,139.84 L698.8,140.36 L699.8,140.86 L700.8,141.36 L701.8,141.84 L702.8,142.32 L703.8,142.79 L704.8,143.26 L705.8,143.71 L706.8,144.16 L707.8,144.60 L708.8,145.03 L709.8,145.45 L710.8,145.87 L711.8,146.28 L712.8,146.68 L713.8,147.08 L714.8,147.48 L715.8,147.87 L716.8,148.26 L717.8,148.64 L718.8,149.02 L719.8,149.39 L720.8,149.76 L721.8,150.13 L722.8,150.49 L723.8,150.85 L724.8,151.20 L725.8,151.55 L726.8,151.89 L727.8,152.23 L728.8,152.57 L729.8,152.91 L730.8,153.24 L731.8,153.57 L732.8,153.90 L733.8,154.22 L734.8,154.54 L735.8,154.86 L736.8,155.17 L737.8,155.48 L738.8,155.78 L739.8,156.09 L740.8,156.38 L741.8,156.67 L742.8,156.96 L743.8,157.24 L744.8,157.52 L745.8,157.79 L746.8,158.06 L747.8,158.32 L748.8,158.58 L749.8,158.84 L750.8,159.09 L751.8,159.34 L752.8,159.59 L753.8,159.84 L754.8,160.08 L755.8,160.33 L756.8,160.57 L757.8,160.82 L758.8,161.06 L759.8,161.30 L760.8,161.55 L761.8,161.79 L762.8,162.03 L763.8,162.27 L764.8,162.51 L765.8,162.75 L766.8,162.99 L767.8,163.22 L768.8,163.45 L769.8,163.68 L770.8,163.90 L771.8,164.12 L772.8,164.34 L773.8,164.56 L774.8,164.77 L775.8,164.98 L776.8,165.19 L777.8,165.39 L778.8,165.59 L779.8,165.79 L780.8,165.99 L781.8,166.18 L782.8,166.37 L783.8,166.56 L784.8,166.75 L785.8,166.93 L786.8,167.12 L787.8,167.30 L788.8,167.48 L789.8,167.65 L790.8,167.83 L791.8,168.00 L792.8,168.17 L793.8,168.34 L794.8,168.50 L795.8,168.66 L796.8,168.81 L797.8,168.97 L798.8,169.11 L799.8,169.26 L800.8,169.40 L801.8,169.53 L802.8,169.67 L803.8,169.79 L804.8,169.92 L805.8,170.04 L806.8,170.16 L807.8,170.28 L808.8,170.39 L809.8,170.50 L810.8,170.62 L811.8,170.73 L812.8,170.84 L813.8,170.94 L814.8,171.05 L815.8,171.16 L816.8,171.26 L817.8,171.37 L818.8,171.47 L819.8,171.57 L820.8,171.67 L821.8,171.77 L822.8,171.87 L823.8,171.97 L824.8,172.07 L825.8,172.17 L826.8,172.26 L827.8,172.36 L828.8,172.46 L829.8,172.56 L830.8,172.66 L831.8,172.76 L832.8,172.85 L833.8,172.95 L834.8,173.05 L835.8,173.14 L836.8,173.23 L837.8,173.31 L838.8,173.39 L839.8,173.45 L840.3,173.50" stroke="#808000"/>
<path d="M840.3,187.46 L839.8,187.51 L838.8,187.57 L837.8,187.64 L836.8,187.72 L835.8,187.81 L834.8,187.90 L833.8,187.99 L832.8,188.09 L831.8,188.19 L830.8,188.29 L829.8,188.39 L828.8,188.49 L827.8,188.59 L826.8,188.70 L825.8,188.80 L824.8,188.90 L823.8,189.01 L822.8,189.11 L821.8,189.22 L820.8,189.33 L819.8,189.43 L818.8,189.54 L817.8,189.64 L816.8,189.75 L815.8,189.86 L814.8,189.97 L813.8,190.07 L812.8,190.18 L811.8,190.29 L810.8,190.40 L809.8,190.51 L808.8,190.62 L807.8,190.73 L806.8,190.84 L805.8,190.95 L804.8,191.06 L803.8,191.17 L802.8,191.29 L801.8,191.40 L800.8,191.51 L799.8,191.63 L798.8,191.74 L797.8,191.86 L796.8,191.97 L795.8,192.09 L794.8,192.20 L793.8,192.31 L792.8,192.43 L791.8,192.54 L790.8,192.65 L789.8,192.77 L788.8,192.88 L787.8,192.99 L786.8,193.09 L785.8,193.20 L784.8,193.31 L783.8,193.41 L782.8,193.51 L781.8,193.61 L780.8,193.71 L779.8,193.81 L778.8,193.91 L777.8,194.01 L776.8,194.10 L775.8,194.20 L774.8,194.29 L773.8,194.39 L772.8,194.48 L771.8,194.57 L770.8,194.67 L769.8,194.76 L768.8,194.85 L767.8,194.95 L766.8,195.04 L765.8,195.14 L764.8,195.23 L763.8,195.33 L762.8,195.43 L761.8,195.53 L760.8,195.63 L759.8,195.73 L758.8,195.83 L757.8,195.93 L756.8,196.04 L755.8,196.14 L754.8,196.25 L753.8,196.36 L752.8,196.47 L751.8,196.58 L750.8,196.69 L749.8,196.80 L748.8,196.91 L747.8,197.02 L746.8,197.13 L745.8,197.25 L744.8,197.36 L743.8,197.47 L742.8,197.58 L741.8,197.70 L740.8,197.81 L739.8,197.92 L738.8,198.03 L737.8,198.14 L736.8,198.25 L735.8,198.36 L734.8,198.47 L733.8,198.58 L732.8,198.69 L731.8,198.80 L730.8,198.90 L729.8,199.01 L728.8,199.12 L727.8,199.22 L726.8,199.33 L725.8,199.43 L724.8,199.54 L723.8,199.64 L722.8,199.75 L721.8,199.86 L720.8,199.96 L719.8,200.07 L718.8,200.18 L717.8,200.30 L716.8,200.41 L715.8,200.53 L714.8,200.64 L713.8,200.76 L712.8,200.88 L711.8,201.01 L710.8,201.14 L709.8,201.26 L708.8,201.40 L707.8,201.53 L706.8,201.67 L705.8,201.80 L704.8,201.94 L703.8,202.09 L702.8,202.23 L701.8,202.38 L700.8,202.53 L699.8,202.68 L698.8,202.83 L697.8,202.98 L696.8,203.14 L695.8,203.29 L694.8,203.45 L693.8,203.61 L692.8,203.77 L691.8,203.93 L690.8,204.10 L689.8,204.26 L688.8,204.42 L687.8,204.59 L686.8,204.75 L685.8,204.92 L684.8,205.08 L683.8,205.25 L682.8,205.41 L681.8,205.58 L680.8,205.75 L679.8,205.91 L678.8,206.08 L677.8,206.25 L676.8,206.42 L675.8,206.59 L674.8,206.77 L673.8,206.95 L672.8,207.13 L671.8,207.31 L670.8,207.50 L669.8,207.69 L668.8,207.89 L667.8,208.09 L666.8,208.30 L665.8,208.51 L664.8,208.72 L663.8,208.95 L662.8,209.18 L661.8,209.41 L660.8,209.66 L659.8,209.91 L658.8,210.18 L657.8,210.45 L656.8,210.74 L655.8,211.03 L654.8,211.34 L653.8,211.66 L652.8,211.99 L651.8,212.33 L650.8,212.69 L649.8,213.06 L648.8,213.44 L647.8,213.83 L646.8,214.24 L645.8,214.66 L644.8,215.10 L643.8,215.56 L642.8,216.05 L641.8,216.56 L640.8,217.11 L639.8,217.70 L638.8,218.33 L637.8,219.01 L636.8,219.74 L635.8,220.52 L634.8,221.36 L633.8,222.25 L632.8,223.19 L631.8,224.18 L630.8,225.20 L629.8,226.26 L628.8,227.35 L627.8,228.48 L626.8,229.63 L625.8,230.81 L624.8,232.03 L623.8,233.29 L622.8,234.59 L621.8,235.92 L620.8,237.30 L619.8,238.70 L618.8,240.15 L617.8,241.62 L616.8,243.13 L615.8,244.67 L614.8,246.24 L613.8,247.85 L612.8,249.51 L611.8,251.21 L610.8,252.97 L609.8,254.79 L608.8,256.66 L607.8,258.59 L606.8,260.58 L605.8,262.63 L604.8,264.72 L603.8,266.86 L602.8,269.03 L601.8,271.24 L600.8,273.47 L599.8,275.73 L598.8,278.01 L597.8,280.30 L596.8,282.61 L595.8,284.92 L594.8,287.26 L593.8,289.61 L592.8,291.97 L591.8,294.36 L590.8,296.76 L589.8,299.19 L588.8,301.64 L587.8,304.11 L586.8,306.60 L585.8,309.12 L584.8,311.66 L583.8,314.24 L582.8,316.85 L581.8,319.50 L580.8,322.20 L579.8,324.93 L578.8,327.68 L577.8,330.44 L576.8,333.18 L575.8,335.89 L574.8,338.53 L573.8,341.09 L572.8,343.55 L571.8,345.91 L570.8,348.16 L569.8,350.31 L568.8,352.39 L567.8,354.40 L566.8,356.36 L565.8,358.30 L564.8,360.21 L563.8,362.13 L562.8,364.06 L561.8,366.01 L560.8,368.01 L559.8,370.08 L558.8,372.23 L557.8,374.47 L556.8,376.78 L555.8,379.13 L554.8,381.47 L553.8,383.76 L552.8,385.95 L551.8,387.99 L550.8,389.88 L549.8,391.61 L548.8,393.21 L547.8,394.69 L546.8,396.08 L545.8,397.40 L544.8,398.65 L543.8,399.84 L542.8,400.98 L541.8,402.05 L540.8,403.06 L539.8,403.99 L538.8,404.85 L537.8,405.62 L536.8,406.30 L535.8,406.89 L534.8,407.38 L533.8,407.76 L532.8,408.05 L531.8,408.25 L530.8,408.37 L529.8,408.40 L528.8,408.35 L527.8,408.22 L526.8,408.02 L525.8,407.75 L524.8,407.40 L523.8,406.98 L522.8,406.50 L521.8,405.95 L520.8,405.34 L519.8,404.67 L518.8,403.95 L517.8,403.16 L516.8,402.33 L515.8,401.44 L514.8,400.52 L513.8,399.55 L512.8,398.57 L511.8,397.56 L510.8,396.56 L509.8,395.55 L508.8,394.55 L507.8,393.55 L506.8,392.55 L505.8,391.56 L504.8,390.55 L503.8,389.54 L502.8,388.51 L501.8,387.46 L500.8,386.39 L499.8,385.29 L498.8,384.17 L497.8,383.03 L496.8,381.86 L495.8,380.69 L494.8,379.50 L493.8,378.32 L492.8,377.14 L491.8,375.98 L490.8,374.84 L489.8,373.72 L488.8,372.62 L487.8,371.54 L486.8,370.49 L485.8,369.44 L484.8,368.42 L483.8,367.40 L482.8,366.40 L481.8,365.41 L480.8,364.43 L479.8,363.46 L478.8,362.50 L477.8,361.55 L476.8,360.62 L475.8,359.69 L474.8,358.78 L473.8,357.88 L472.8,356.99 L471.8,356.11 L470.8,355.25 L469.8,354.40 L468.8,353.56 L467.8,352.74 L466.8,351.93 L465.8,351.13 L464.8,350.34 L463.8,349.57 L462.8,348.80 L461.8,348.04 L460.8,347.30 L459.8,346.56 L458.8,345.83 L457.8,345.11 L456.8,344.41 L455.8,343.71 L454.8,343.01 L453.8,342.33 L452.8,341.66 L451.8,341.00 L450.8,340.34 L449.8,339.70 L448.8,339.06 L447.8,338.44 L446.8,337.82 L445.8,337.21 L444.8,336.61 L443.8,336.02 L442.8,335.44 L441.8,334.87 L440.8,334.30 L439.8,333.74 L438.8,333.19 L437.8,332.65 L436.8,332.11 L435.8,331.58 L434.8,331.06 L433.8,330.54 L432.8,330.03 L431.8,329.52 L430.8,329.03 L429.8,328.54 L428.8,328.05 L427.8,327.58 L426.8,327.11 L425.8,326.64 L424.8,326.19 L423.8,325.74 L422.8,325.29 L421.8,324.86 L420.8,324.43 L419.8,324.00 L418.8,323.58 L417.8,323.17 L416.8,322.76 L415.8,322.36 L414.8,321.97 L413.8,321.58 L412.8,321.20 L411.8,320.82 L410.8,320.44 L409.8,320.07 L408.8,319.71 L407.8,319.35 L406.8,319.00 L405.8,318.65 L404.8,318.31 L403.8,317.97 L402.8,317.63 L401.8,317.30 L400.8,316.98 L399.8,316.65 L398.8,316.33 L397.8,316.02 L396.8,315.70 L395.8,315.39 L394.8,315.08 L393.8,314.77 L392.8,314.47 L391.8,314.16 L390.8,313.86 L389.8,313.56 L388.8,313.27 L387.8,312.97 L386.8,312.68 L385.8,312.39 L384.8,312.10 L383.8,311.82 L382.8,311.53 L381.8,311.25 L380.8,310.97 L379.8,310.70 L378.8,310.42 L377.8,310.15 L376.8,309.88 L375.8,309.62 L374.8,309.35 L373.8,309.09 L372.8,308.83 L371.8,308.58 L370.8,308.32 L369.8,308.07 L368.8,307.82 L367.8,307.58 L366.8,307.34 L365.8,307.10 L364.8,306.86 L363.8,306.62 L362.8,306.39 L361.8,306.16 L360.8,305.94 L359.8,305.72 L358.8,305.50 L357.8,305.28 L356.8,305.06 L355.8,304.85 L354.8,304.65 L353.8,304.44 L352.8,304.24 L351.8,304.04 L350.8,303.84 L349.8,303.64 L348.8,303.45 L347.8,303.26 L346.8,303.07 L345.8,302.88 L344.8,302.69 L343.8,302.51 L342.8,302.33 L341.8,302.14 L340.8,301.96 L339.8,301.78 L338.8,301.60 L337.8,301.43 L336.8,301.25 L335.8,301.07 L334.8,300.89 L333.8,300.72 L332.8,300.54 L331.8,300.37 L330.8,300.19 L329.8,300.02 L328.8,299.84 L327.8,299.66 L326.8,299.49 L325.8,299.31 L324.8,299.14 L323.8,298.96 L322.8,298.79 L321.8,298.61 L320.8,298.44 L319.8,298.27 L318.8,298.10 L317.8,297.93 L316.8,297.76 L315.8,297.59 L314.8,297.42 L313.8,297.25 L312.8,297.09 L311.8,296.93 L310.8,296.76 L309.8,296.60 L308.8,296.45 L307.8,296.29 L306.8,296.14 L305.8,295.99 L304.8,295.84 L303.8,295.69 L302.8,295.55 L301.8,295.41 L300.8,295.27 L299.8,295.13 L298.8,295.00 L297.8,294.87 L296.8,294.74 L295.8,294.61 L294.8,294.49 L293.8,294.36 L292.8,294.24 L291.8,294.12 L290.8,294.01 L289.8,293.89 L288.8,293.78 L287.8,293.67 L286.8,293.57 L285.8,293.47 L284.8,293.39 L283.8,293.31 L282.8,293.25 L282.8,292.84 L283.8,292.77 L284.8,292.68 L285.8,292.58 L286.8,292.47 L287.8,292.36 L288.8,292.24 L289.8,292.12 L290.8,291.99 L291.8,291.87 L292.8,291.75 L293.8,291.63 L294.8,291.50 L295.8,291.38 L296.8,291.26 L297.8,291.14 L298.8,291.02 L299.8,290.89 L300.8,290.77 L301.8,290.65 L302.8,290.53 L303.8,290.41 L304.8,290.29 L305.8,290.18 L306.8,290.06 L307.8,289.94 L308.8,289.82 L309.8,289.71 L310.8,289.59 L311.8,289.48 L312.8,289.36 L313.8,289.25 L314.8,289.14 L315.8,289.02 L316.8,288.91 L317.8,288.80 L318.8,288.69 L319.8,288.58 L320.8,288.46 L321.8,288.35 L322.8,288.24 L323.8,288.13 L324.8,288.02 L325.8,287.91 L326.8,287.80 L327.8,287.69 L328.8,287.58 L329.8,287.47 L330.8,287.36 L331.8,287.26 L332.8,287.15 L333.8,287.04 L334.8,286.93 L335.8,286.82 L336.8,286.71 L337.8,286.60 L338.8,286.49 L339.8,286.38 L340.8,286.27 L341.8,286.16 L342.8,286.05 L343.8,285.94 L344.8,285.82 L345.8,285.71 L346.8,285.60 L347.8,285.49 L348.8,285.37 L349.8,285.26 L350.8,285.14 L351.8,285.03 L352.8,284.91 L353.8,284.79 L354.8,284.67 L355.8,284.55 L356.8,284.43 L357.8,284.31 L358.8,284.19 L359.8,284.07 L360.8,283.95 L361.8,283.82 L362.8,283.70 L363.8,283.58 L364.8,283.45 L365.8,283.33 L366.8,283.20 L367.8,283.08 L368.8,282.96 L369.8,282.83 L370.8,282.71 L371.8,282.58 L372.8,282.46 L373.8,282.33 L374.8,282.21 L375.8,282.08 L376.8,281.96 L377.8,281.83 L378.8,281.71 L379.8,281.58 L380.8,281.46 L381.8,281.33 L382.8,281.21 L383.8,281.08 L384.8,280.96 L385.8,280.84 L386.8,280.71 L387.8,280.59 L388.8,280.47 L389.8,280.35 L390.8,280.23 L391.8,280.11 L392.8,279.99 L393.8,279.87 L394.8,279.75 L395.8,279.63 L396.8,279.51 L397.8,279.39 L398.8,279.28 L399.8,279.16 L400.8,279.04 L401.8,278.92 L402.8,278.80 L403.8,278.69 L404.8,278.57 L405.8,278.45 L406.8,278.33 L407.8,278.21 L408.8,278.09 L409.8,277.97 L410.8,277.85 L411.8,277.73 L412.8,277.61 L413.8,277.49 L414.8,277.37 L415.8,277.24 L416.8,277.12 L417.8,277.00 L418.8,276.87 L419.8,276.75 L420.8,276.62 L421.8,276.49 L422.8,276.37 L423.8,276.24 L424.8,276.12 L425.8,275.99 L426.8,275.87 L427.8,275.74 L428.8,275.61 L429.8,275.48 L430.8,275.36 L431.8,275.23 L432.8,275.10 L433.8,274.97 L434.8,274.84 L435.8,274.70 L436.8,274.57 L437.8,274.44 L438.8,274.30 L439.8,274.16 L440.8,274.02 L441.8,273.88 L442.8,273.74 L443.8,273.60 L444.8,273.45 L445.8,273.31 L446.8,273.16 L447.8,273.01 L448.8,272.85 L449.8,272.70 L450.8,272.54 L451.8,272.38 L452.8,272.22 L453.8,272.06 L454.8,271.89 L455.8,271.73 L456.8,271.56 L457.8,271.39 L458.8,271.21 L459.8,271.04 L460.8,270.86 L461.8,270.67 L462.8,270.49 L463.8,270.30 L464.8,270.10 L465.8,269.90 L466.8,269.70 L467.8,269.49 L468.8,269.28 L469.8,269.06 L470.8,268.84 L471.8,268.61 L472.8,268.38 L473.8,268.14 L474.8,267.90 L475.8,267.65 L476.8,267.39 L477.8,267.12 L478.8,266.84 L479.8,266.56 L480.8,266.26 L481.8,265.96 L482.8,265.64 L483.8,265.31 L484.8,264.97 L485.8,264.62 L486.8,264.26 L487.8,263.88 L488.8,263.50 L489.8,263.10 L490.8,262.69 L491.8,262.27 L492.8,261.82 L493.8,261.36 L494.8,260.88 L495.8,260.37 L496.8,259.84 L497.8,259.29 L498.8,258.73 L499.8,258.14 L500.8,257.55 L501.8,256.94 L502.8,256.33 L503.8,255.72 L504.8,255.11 L505.8,254.49 L506.8,253.86 L507.8,253.23 L508.8,252.58 L509.8,251.91 L510.8,251.22 L511.8,250.50 L512.8,249.74 L513.8,248.93 L514.8,248.07 L515.8,247.15 L516.8,246.16 L517.8,245.11 L518.8,243.99 L519.8,242.81 L520.8,241.56 L521.8,240.24 L522.8,238.85 L523.8,237.39 L524.8,235.86 L525.8,234.27 L526.8,232.62 L527.8,230.91 L528.8,229.15 L529.8,227.35 L530.8,225.50 L531.8,223.60 L532.8,221.64 L533.8,219.63 L534.8,217.56 L535.8,215.43 L536.8,213.23 L537.8,210.97 L538.8,208.65 L539.8,206.29 L540.8,203.90 L541.8,201.49 L542.8,199.08 L543.8,196.67 L544.8,194.26 L545.8,191.85 L546.8,189.43 L547.8,187.00 L548.8,184.53 L549.8,182.04 L550.8,179.51 L551.8,176.96 L552.8,174.37 L553.8,171.75 L554.8,169.12 L555.8,166.46 L556.8,163.80 L557.8,161.13 L558.8,158.46 L559.8,155.79 L560.8,153.13 L561.8,150.48 L562.8,147.84 L563.8,145.22 L564.8,142.61 L565.8,140.01 L566.8,137.39 L567.8,134.75 L568.8,132.07 L569.8,129.34 L570.8,126.54 L571.8,123.69 L572.8,120.79 L573.8,117.88 L574.8,114.97 L575.8,112.10 L576.8,109.28 L577.8,106.55 L578.8,103.90 L579.8,101.34 L580.8,98.86 L581.8,96.46 L582.8,94.12 L583.8,91.84 L584.8,89.60 L585.8,87.41 L586.8,85.25 L587.8,83.14 L588.8,81.07 L589.8,79.07 L590.8,77.13 L591.8,75.28 L592.8,73.51 L593.8,71.84 L594.8,70.26 L595.8,68.77 L596.8,67.37 L597.8,66.06 L598.8,64.84 L599.8,63.70 L600.8,62.65 L601.8,61.68 L602.8,60.80 L603.8,60.02 L604.8,59.32 L605.8,58.72 L606.8,58.21 L607.8,57.79 L608.8,57.45 L609.8,57.19 L610.8,56.99 L611.8,56.85 L612.8,56.77 L613.8,56.75 L614.8,56.79 L615.8,56.89 L616.8,57.06 L617.8,57.29 L618.8,57.58 L619.8,57.95 L620.8,58.38 L621.8,58.90 L622.8,59.49 L623.8,60.16 L624.8,60.91 L625.8,61.74 L626.8,62.64 L627.8,63.59 L628.8,64.61 L629.8,65.68 L630.8,66.79 L631.8,67.95 L632.8,69.15 L633.8,70.38 L634.8,71.63 L635.8,72.90 L636.8,74.17 L637.8,75.45 L638.8,76.73 L639.8,78.02 L640.8,79.31 L641.8,80.60 L642.8,81.89 L643.8,83.18 L644.8,84.47 L645.8,85.75 L646.8,87.03 L647.8,88.30 L648.8,89.57 L649.8,90.84 L650.8,92.11 L651.8,93.38 L652.8,94.64 L653.8,95.91 L654.8,97.17 L655.8,98.43 L656.8,99.68 L657.8,100.92 L658.8,102.16 L659.8,103.39 L660.8,104.61 L661.8,105.82 L662.8,107.02 L663.8,108.22 L664.8,109.41 L665.8,110.58 L666.8,111.75 L667.8,112.90 L668.8,114.03 L669.8,115.15 L670.8,116.24 L671.8,117.31 L672.8,118.36 L673.8,119.39 L674.8,120.38 L675.8,121.36 L676.8,122.32 L677.8,123.25 L678.8,124.16 L679.8,125.06 L680.8,125.93 L681.8,126.79 L682.8,127.62 L683.8,128.43 L684.8,129.22 L685.8,129.99 L686.8,130.74 L687.8,131.47 L688.8,132.18 L689.8,132.87 L690.8,133.55 L691.8,134.21 L692.8,134.85 L693.8,135.48 L694.8,136.09 L695.8,136.69 L696.8,137.28 L697.8,137.85 L698.8,138.41 L699.8,138.96 L700.8,139.49 L701.8,140.01 L702.8,140.52 L703.8,141.01 L704.8,141.49 L705.8,141.96 L706.8,142.42 L707.8,142.87 L708.8,143.32 L709.8,143.75 L710.8,144.17 L711.8,144.59 L712.8,145.01 L713.8,145.41 L714.8,145.81 L715.8,146.21 L716.8,146.60 L717.8,146.98 L718.8,147.36 L719.8,147.73 L720.8,148.10 L721.8,148.47 L722.8,148.82 L723.8,149.18 L724.8,149.53 L725.8,149.88 L726.8,150.23 L727.8,150.57 L728.8,150.92 L729.8,151.26 L730.8,151.60 L731.8,151.94 L732.8,152.28 L733.8,152.62 L734.8,152.95 L735.8,153.29 L736.8,153.62 L737.8,153.94 L738.8,154.26 L739.8,154.58 L740.8,154.89 L741.8,155.20 L742.8,155.50 L743.8,155.79 L744.8,156.07 L745.8,156.35 L746.8,156.62 L747.8,156.88 L748.8,157.14 L749.8,157.40 L750.8,157.65 L751.8,157.90 L752.8,158.14 L753.8,158.39 L754.8,158.64 L755.8,158.88 L756.8,159.13 L757.8,159.38 L758.8,159.63 L759.8,159.88 L760.8,160.14 L761.8,160.39 L762.8,160.65 L763.8,160.91 L764.8,161.16 L765.8,161.42 L766.8,161.67 L767.8,161.92 L768.8,162.17 L769.8,162.41 L770.8,162.65 L771.8,162.89 L772.8,163.13 L773.8,163.36 L774.8,163.59 L775.8,163.82 L776.8,164.04 L777.8,164.26 L778.8,164.48 L779.8,164.70 L780.8,164.91 L781.8,165.12 L782.8,165.32 L783.8,165.52 L784.8,165.72 L785.8,165.92 L786.8,166.11 L787.8,166.29 L788.8,166.48 L789.8,166.66 L790.8,166.84 L791.8,167.01 L792.8,167.18 L793.8,167.35 L794.8,167.51 L795.8,167.67 L796.8,167.83 L797.8,167.98 L798.8,168.13 L799.8,168.27 L800.8,168.42 L801.8,168.55 L802.8,168.69 L803.8,168.82 L804.8,168.95 L805.8,169.07 L806.8,169.20 L807.8,169.32 L808.8,169.43 L809.8,169.55 L810.8,169.66 L811.8,169.77 L812.8,169.88 L813.8,169.99 L814.8,170.09 L815.8,170.19 L816.8,170.29 L817.8,170.39 L818.8,170.48 L819.8,170.58 L820.8,170.67 L821.8,170.76 L822.8,170.85 L823.8,170.94 L824.8,171.04 L825.8,171.13 L826.8,171.23 L827.8,171.32 L828.8,171.42 L829.8,171.52 L830.8,171.62 L831.8,171.73 L832.8,171.83 L833.8,171.94 L834.8,172.04 L835.8,172.14 L836.8,172.24 L837.8,172.34 L838.8,172.42 L839.8,172.49 L840.3,172.55" stroke="#000080"/>
</g>
<rect x="209.3" y="34.4" width="814.7" height="599.7" fill="none" stroke="#000" stroke-width="3.8"/>
<line x1="195.0" y1="634.1" x2="209.3" y2="634.1" stroke="#000" stroke-width="3.8"/>
<text transform="translate(188.9,643.8) scale(0.922,1)" font-size="36.5" font-weight="bold" text-anchor="end" fill="#000" >-150</text>
<line x1="195.0" y1="559.1" x2="209.3" y2="559.1" stroke="#000" stroke-width="3.8"/>
<text transform="translate(188.9,568.8) scale(0.922,1)" font-size="36.5" font-weight="bold" text-anchor="end" fill="#000" >-120</text>
<line x1="195.0" y1="484.2" x2="209.3" y2="484.2" stroke="#000" stroke-width="3.8"/>
<text transform="translate(188.9,493.9) scale(0.922,1)" font-size="36.5" font-weight="bold" text-anchor="end" fill="#000" >-90</text>
<line x1="195.0" y1="409.2" x2="209.3" y2="409.2" stroke="#000" stroke-width="3.8"/>
<text transform="translate(188.9,418.9) scale(0.922,1)" font-size="36.5" font-weight="bold" text-anchor="end" fill="#000" >-60</text>
<line x1="195.0" y1="334.2" x2="209.3" y2="334.2" stroke="#000" stroke-width="3.8"/>
<text transform="translate(188.9,343.9) scale(0.922,1)" font-size="36.5" font-weight="bold" text-anchor="end" fill="#000" >-30</text>
<line x1="195.0" y1="259.3" x2="209.3" y2="259.3" stroke="#000" stroke-width="3.8"/>
<text transform="translate(188.9,269.0) scale(0.922,1)" font-size="36.5" font-weight="bold" text-anchor="end" fill="#000" >0</text>
<line x1="195.0" y1="184.3" x2="209.3" y2="184.3" stroke="#000" stroke-width="3.8"/>
<text transform="translate(188.9,194.0) scale(0.922,1)" font-size="36.5" font-weight="bold" text-anchor="end" fill="#000" >30</text>
<line x1="195.0" y1="109.4" x2="209.3" y2="109.4" stroke="#000" stroke-width="3.8"/>
<text transform="translate(188.9,119.1) scale(0.922,1)" font-size="36.5" font-weight="bold" text-anchor="end" fill="#000" >60</text>
<line x1="195.0" y1="34.4" x2="209.3" y2="34.4" stroke="#000" stroke-width="3.8"/>
<text transform="translate(188.9,44.1) scale(0.922,1)" font-size="36.5" font-weight="bold" text-anchor="end" fill="#000" >90</text>
<line x1="201.1" y1="596.6" x2="209.3" y2="596.6" stroke="#000" stroke-width="3.8"/>
<line x1="201.1" y1="521.7" x2="209.3" y2="521.7" stroke="#000" stroke-width="3.8"/>
<line x1="201.1" y1="446.7" x2="209.3" y2="446.7" stroke="#000" stroke-width="3.8"/>
<line x1="201.1" y1="371.7" x2="209.3" y2="371.7" stroke="#000" stroke-width="3.8"/>
<line x1="201.1" y1="296.8" x2="209.3" y2="296.8" stroke="#000" stroke-width="3.8"/>
<line x1="201.1" y1="221.8" x2="209.3" y2="221.8" stroke="#000" stroke-width="3.8"/>
<line x1="201.1" y1="146.8" x2="209.3" y2="146.8" stroke="#000" stroke-width="3.8"/>
<line x1="201.1" y1="71.9" x2="209.3" y2="71.9" stroke="#000" stroke-width="3.8"/>
<line x1="245.8" y1="634.1" x2="245.8" y2="648.6" stroke="#000" stroke-width="3.8"/>
<text transform="translate(246.1,681.8) scale(0.955,1)" font-size="36.5" font-weight="bold" text-anchor="middle" fill="#000" >-0.2</text>
<line x1="394.0" y1="634.1" x2="394.0" y2="648.6" stroke="#000" stroke-width="3.8"/>
<text transform="translate(394.3,681.8) scale(0.955,1)" font-size="36.5" font-weight="bold" text-anchor="middle" fill="#000" >0.0</text>
<line x1="542.1" y1="634.1" x2="542.1" y2="648.6" stroke="#000" stroke-width="3.8"/>
<text transform="translate(542.4,681.8) scale(0.955,1)" font-size="36.5" font-weight="bold" text-anchor="middle" fill="#000" >0.2</text>
<line x1="690.2" y1="634.1" x2="690.2" y2="648.6" stroke="#000" stroke-width="3.8"/>
<text transform="translate(690.5,681.8) scale(0.955,1)" font-size="36.5" font-weight="bold" text-anchor="middle" fill="#000" >0.4</text>
<line x1="838.3" y1="634.1" x2="838.3" y2="648.6" stroke="#000" stroke-width="3.8"/>
<text transform="translate(838.6,681.8) scale(0.955,1)" font-size="36.5" font-weight="bold" text-anchor="middle" fill="#000" >0.6</text>
<line x1="986.5" y1="634.1" x2="986.5" y2="648.6" stroke="#000" stroke-width="3.8"/>
<text transform="translate(986.8,681.8) scale(0.955,1)" font-size="36.5" font-weight="bold" text-anchor="middle" fill="#000" >0.8</text>
<line x1="319.9" y1="634.1" x2="319.9" y2="642.1" stroke="#000" stroke-width="3.8"/>
<line x1="468.0" y1="634.1" x2="468.0" y2="642.1" stroke="#000" stroke-width="3.8"/>
<line x1="616.2" y1="634.1" x2="616.2" y2="642.1" stroke="#000" stroke-width="3.8"/>
<line x1="764.3" y1="634.1" x2="764.3" y2="642.1" stroke="#000" stroke-width="3.8"/>
<line x1="912.4" y1="634.1" x2="912.4" y2="642.1" stroke="#000" stroke-width="3.8"/>
<line x1="650" y1="377.2" x2="718.5" y2="377.2" stroke="#000000" stroke-width="6.4"/>
<text x="725.5" y="387.5" font-size="29" font-weight="bold" text-anchor="start" fill="#000" >Bare GCE</text>
<line x1="650" y1="414.3" x2="718.5" y2="414.3" stroke="#ff0000" stroke-width="4.6"/>
<text x="725.5" y="424.6" font-size="29" font-weight="bold" text-anchor="start" fill="#000" >rGO/GCE</text>
<line x1="650" y1="451.5" x2="718.5" y2="451.5" stroke="#0000ff" stroke-width="5.6"/>
<text x="725.5" y="461.8" font-size="29" font-weight="bold" text-anchor="start" fill="#000" >Pt/GCE</text>
<line x1="650" y1="488.6" x2="718.5" y2="488.6" stroke="#008080" stroke-width="5.0"/>
<text x="725.5" y="498.9" font-size="29" font-weight="bold" text-anchor="start" fill="#000" >rGO/Pt/GCE</text>
<line x1="650" y1="525.8" x2="718.5" y2="525.8" stroke="#ff00ff" stroke-width="5.6"/>
<text x="725.5" y="536.1" font-size="29" font-weight="bold" text-anchor="start" fill="#000" >rGO/PtNi/GCE</text>
<line x1="650" y1="563.0" x2="718.5" y2="563.0" stroke="#808000" stroke-width="5.4"/>
<text x="725.5" y="573.2" font-size="29" font-weight="bold" text-anchor="start" fill="#000" >rGO/Pt/PANI/GCE</text>
<line x1="650" y1="600.1" x2="718.5" y2="600.1" stroke="#000080" stroke-width="5.0"/>
<text x="725.5" y="610.4" font-size="29" font-weight="bold" text-anchor="start" fill="#000" >rGO/PtNi@PANI/GCE</text>
<text y="99.3" font-size="45.6" font-weight="bold" fill="#1c1410"><tspan x="237.8">(</tspan><tspan x="252" y="100.1" font-size="49.4" textLength="37.5" lengthAdjust="spacingAndGlyphs">A</tspan><tspan x="286.9" y="99.3">)</tspan></text>
<text transform="translate(617.5,753.6) scale(0.947,1)" font-size="51" font-weight="bold" text-anchor="middle" fill="#000" >E vs (Ag/AgCl)/ V</text>
<text transform="translate(62.7,410.9) rotate(-90)" font-size="50" font-weight="bold" fill="#000"><tspan x="-3.6">I</tspan><tspan x="13" font-weight="normal" font-size="41"> / </tspan><tspan x="47" font-weight="normal" font-family="'Liberation Serif', 'DejaVu Serif', serif" font-size="47" textLength="30" lengthAdjust="spacingAndGlyphs">μ</tspan><tspan x="74.3" textLength="35.5" lengthAdjust="spacingAndGlyphs">A</tspan></text>
</g>
<g id="plotB">
<g id="s_black">
<rect x="2010.2" y="144.9" width="7.4" height="7.4" fill="#000000"/>
<rect x="1956.4" y="196.9" width="7.4" height="7.4" fill="#000000"/>
<rect x="1908.4" y="244.6" width="7.4" height="7.4" fill="#000000"/>
<rect x="1864.9" y="286.8" width="7.4" height="7.4" fill="#000000"/>
<rect x="1826.5" y="324.1" width="7.4" height="7.4" fill="#000000"/>
<rect x="1792.3" y="357.2" width="7.4" height="7.4" fill="#000000"/>
<rect x="1762.3" y="385.8" width="7.4" height="7.4" fill="#000000"/>
<rect x="1735.3" y="412.5" width="7.4" height="7.4" fill="#000000"/>
<rect x="1711.2" y="436.8" width="7.4" height="7.4" fill="#000000"/>
<rect x="1689.1" y="456.9" width="7.4" height="7.4" fill="#000000"/>
<rect x="1670.3" y="475.3" width="7.4" height="7.4" fill="#000000"/>
<rect x="1653.0" y="492.4" width="7.4" height="7.4" fill="#000000"/>
<rect x="1637.3" y="507.3" width="7.4" height="7.4" fill="#000000"/>
<rect x="1623.3" y="520.3" width="7.4" height="7.4" fill="#000000"/>
<rect x="1611.3" y="532.6" width="7.4" height="7.4" fill="#000000"/>
<rect x="1601.1" y="542.4" width="7.4" height="7.4" fill="#000000"/>
<rect x="1591.4" y="552.1" width="7.4" height="7.4" fill="#000000"/>
<rect x="1582.7" y="559.0" width="7.4" height="7.4" fill="#000000"/>
<rect x="1575.1" y="565.1" width="7.4" height="7.4" fill="#000000"/>
<rect x="1567.5" y="572.0" width="7.4" height="7.4" fill="#000000"/>
<rect x="1561.0" y="577.7" width="7.4" height="7.4" fill="#000000"/>
<rect x="1555.6" y="582.0" width="7.4" height="7.4" fill="#000000"/>
<rect x="1550.2" y="585.7" width="7.4" height="7.4" fill="#000000"/>
<rect x="1545.9" y="588.5" width="7.4" height="7.4" fill="#000000"/>
<rect x="1541.6" y="590.4" width="7.4" height="7.4" fill="#000000"/>
<rect x="1537.2" y="591.7" width="7.4" height="7.4" fill="#000000"/>
<rect x="1532.9" y="592.2" width="7.4" height="7.4" fill="#000000"/>
<rect x="1528.6" y="591.7" width="7.4" height="7.4" fill="#000000"/>
<rect x="1524.2" y="590.0" width="7.4" height="7.4" fill="#000000"/>
<rect x="1519.9" y="586.8" width="7.4" height="7.4" fill="#000000"/>
<rect x="1514.5" y="582.4" width="7.4" height="7.4" fill="#000000"/>
<rect x="1508.4" y="575.9" width="7.4" height="7.4" fill="#000000"/>
<rect x="1501.5" y="569.0" width="7.4" height="7.4" fill="#000000"/>
<rect x="1492.8" y="561.4" width="7.4" height="7.4" fill="#000000"/>
<rect x="1479.8" y="553.8" width="7.4" height="7.4" fill="#000000"/>
<rect x="1464.2" y="547.3" width="7.4" height="7.4" fill="#000000"/>
<rect x="1446.9" y="542.4" width="7.4" height="7.4" fill="#000000"/>
<rect x="1427.8" y="541.3" width="7.4" height="7.4" fill="#000000"/>
<rect x="1407.3" y="545.2" width="7.4" height="7.4" fill="#000000"/>
<rect x="1389.9" y="551.5" width="7.4" height="7.4" fill="#000000"/>
<rect x="1376.9" y="559.7" width="7.4" height="7.4" fill="#000000"/>
<rect x="1365.0" y="569.9" width="7.4" height="7.4" fill="#000000"/>
<rect x="1355.7" y="579.8" width="7.4" height="7.4" fill="#000000"/>
<rect x="1349.9" y="588.9" width="7.4" height="7.4" fill="#000000"/>
<rect x="1345.5" y="599.8" width="7.4" height="7.4" fill="#000000"/>
<rect x="1342.3" y="610.6" width="7.4" height="7.4" fill="#000000"/>
<rect x="1341.1" y="617.3" width="7.4" height="7.4" fill="#000000"/>
<rect x="1340.5" y="622.3" width="7.4" height="7.4" fill="#000000"/>
<rect x="1340.3" y="625.3" width="7.4" height="7.4" fill="#000000"/>
</g>
<g id="s_red">
<circle cx="2080.0" cy="46.2" r="3.9" fill="#ff0000"/>
<circle cx="2013.6" cy="110.4" r="3.9" fill="#ff0000"/>
<circle cx="1954.6" cy="167.9" r="3.9" fill="#ff0000"/>
<circle cx="1902.9" cy="218.0" r="3.9" fill="#ff0000"/>
<circle cx="1857.1" cy="262.8" r="3.9" fill="#ff0000"/>
<circle cx="1816.0" cy="303.3" r="3.9" fill="#ff0000"/>
<circle cx="1778.7" cy="338.6" r="3.9" fill="#ff0000"/>
<circle cx="1746.4" cy="370.2" r="3.9" fill="#ff0000"/>
<circle cx="1716.7" cy="399.3" r="3.9" fill="#ff0000"/>
<circle cx="1690.7" cy="424.6" r="3.9" fill="#ff0000"/>
<circle cx="1667.3" cy="447.0" r="3.9" fill="#ff0000"/>
<circle cx="1646.7" cy="467.1" r="3.9" fill="#ff0000"/>
<circle cx="1627.9" cy="484.9" r="3.9" fill="#ff0000"/>
<circle cx="1611.2" cy="500.0" r="3.9" fill="#ff0000"/>
<circle cx="1596.6" cy="514.7" r="3.9" fill="#ff0000"/>
<circle cx="1583.6" cy="526.6" r="3.9" fill="#ff0000"/>
<circle cx="1571.9" cy="538.0" r="3.9" fill="#ff0000"/>
<circle cx="1561.5" cy="548.2" r="3.9" fill="#ff0000"/>
<circle cx="1551.8" cy="555.8" r="3.9" fill="#ff0000"/>
<circle cx="1543.1" cy="563.0" r="3.9" fill="#ff0000"/>
<circle cx="1535.5" cy="569.2" r="3.9" fill="#ff0000"/>
<circle cx="1527.9" cy="574.9" r="3.9" fill="#ff0000"/>
<circle cx="1522.5" cy="579.2" r="3.9" fill="#ff0000"/>
<circle cx="1517.1" cy="582.9" r="3.9" fill="#ff0000"/>
<circle cx="1512.8" cy="585.7" r="3.9" fill="#ff0000"/>
<circle cx="1508.4" cy="587.9" r="3.9" fill="#ff0000"/>
<circle cx="1504.1" cy="589.4" r="3.9" fill="#ff0000"/>
<circle cx="1499.8" cy="590.5" r="3.9" fill="#ff0000"/>
<circle cx="1495.4" cy="590.0" r="3.9" fill="#ff0000"/>
<circle cx="1491.1" cy="589.0" r="3.9" fill="#ff0000"/>
<circle cx="1486.8" cy="587.2" r="3.9" fill="#ff0000"/>
<circle cx="1481.4" cy="584.0" r="3.9" fill="#ff0000"/>
<circle cx="1476.0" cy="580.7" r="3.9" fill="#ff0000"/>
<circle cx="1467.9" cy="576.4" r="3.9" fill="#ff0000"/>
<circle cx="1458.6" cy="572.0" r="3.9" fill="#ff0000"/>
<circle cx="1446.7" cy="567.7" r="3.9" fill="#ff0000"/>
<circle cx="1433.7" cy="564.9" r="3.9" fill="#ff0000"/>
<circle cx="1419.6" cy="563.4" r="3.9" fill="#ff0000"/>
<circle cx="1406.6" cy="563.7" r="3.9" fill="#ff0000"/>
<circle cx="1395.3" cy="565.9" r="3.9" fill="#ff0000"/>
<circle cx="1386.1" cy="569.6" r="3.9" fill="#ff0000"/>
<circle cx="1378.5" cy="569.3" r="3.9" fill="#ff0000"/>
<circle cx="1373.0" cy="575.3" r="3.9" fill="#ff0000"/>
<circle cx="1368.0" cy="580.6" r="3.9" fill="#ff0000"/>
<circle cx="1364.0" cy="585.7" r="3.9" fill="#ff0000"/>
<circle cx="1360.6" cy="590.3" r="3.9" fill="#ff0000"/>
<circle cx="1357.6" cy="594.4" r="3.9" fill="#ff0000"/>
<circle cx="1355.2" cy="598.3" r="3.9" fill="#ff0000"/>
<circle cx="1353.0" cy="601.7" r="3.9" fill="#ff0000"/>
<circle cx="1351.1" cy="604.8" r="3.9" fill="#ff0000"/>
<circle cx="1349.5" cy="607.6" r="3.9" fill="#ff0000"/>
<circle cx="1348.1" cy="610.1" r="3.9" fill="#ff0000"/>
<circle cx="1347.1" cy="612.5" r="3.9" fill="#ff0000"/>
<circle cx="1346.1" cy="614.9" r="3.9" fill="#ff0000"/>
<circle cx="1345.3" cy="617.3" r="3.9" fill="#ff0000"/>
<circle cx="1344.4" cy="619.8" r="3.9" fill="#ff0000"/>
<circle cx="1343.8" cy="622.3" r="3.9" fill="#ff0000"/>
<circle cx="1343.1" cy="624.8" r="3.9" fill="#ff0000"/>
<circle cx="1342.6" cy="627.3" r="3.9" fill="#ff0000"/>
</g>
<g id="s_green">
<polygon points="2041.1,52.9 2036.5,60.9 2045.7,60.9" fill="#00ff00"/>
<polygon points="1976.0,114.7 1971.4,122.7 1980.6,122.7" fill="#00ff00"/>
<polygon points="1919.1,170.6 1914.5,178.6 1923.7,178.6" fill="#00ff00"/>
<polygon points="1867.5,220.4 1862.9,228.4 1872.1,228.4" fill="#00ff00"/>
<polygon points="1821.6,262.9 1817.0,270.9 1826.2,270.9" fill="#00ff00"/>
<polygon points="1781.5,302.2 1776.9,310.2 1786.1,310.2" fill="#00ff00"/>
<polygon points="1745.5,336.7 1740.9,344.7 1750.1,344.7" fill="#00ff00"/>
<polygon points="1713.0,367.6 1708.4,375.6 1717.6,375.6" fill="#00ff00"/>
<polygon points="1683.5,394.7 1678.9,402.7 1688.1,402.7" fill="#00ff00"/>
<polygon points="1657.5,419.0 1652.9,427.0 1662.1,427.0" fill="#00ff00"/>
<polygon points="1634.4,440.6 1629.8,448.6 1639.0,448.6" fill="#00ff00"/>
<polygon points="1613.8,459.7 1609.2,467.7 1618.4,467.7" fill="#00ff00"/>
<polygon points="1594.7,476.4 1590.1,484.4 1599.3,484.4" fill="#00ff00"/>
<polygon points="1577.6,490.9 1573.0,498.9 1582.2,498.9" fill="#00ff00"/>
<polygon points="1562.1,503.6 1557.5,511.6 1566.7,511.6" fill="#00ff00"/>
<polygon points="1548.5,515.0 1543.9,523.0 1553.1,523.0" fill="#00ff00"/>
<polygon points="1535.5,523.5 1530.9,531.5 1540.1,531.5" fill="#00ff00"/>
<polygon points="1523.6,531.7 1519.0,539.7 1528.2,539.7" fill="#00ff00"/>
<polygon points="1512.8,537.8 1508.2,545.8 1517.4,545.8" fill="#00ff00"/>
<polygon points="1502.6,542.1 1498.0,550.1 1507.2,550.1" fill="#00ff00"/>
<polygon points="1492.2,546.4 1487.6,554.4 1496.8,554.4" fill="#00ff00"/>
<polygon points="1482.4,549.7 1477.8,557.7 1487.0,557.7" fill="#00ff00"/>
<polygon points="1472.3,550.8 1467.7,558.8 1476.9,558.8" fill="#00ff00"/>
<polygon points="1461.4,551.6 1456.8,559.6 1466.0,559.6" fill="#00ff00"/>
<polygon points="1450.0,552.3 1445.4,560.3 1454.6,560.3" fill="#00ff00"/>
<polygon points="1438.5,552.7 1433.9,560.7 1443.1,560.7" fill="#00ff00"/>
<polygon points="1426.1,554.5 1421.5,562.5 1430.7,562.5" fill="#00ff00"/>
<polygon points="1413.1,556.6 1408.5,564.6 1417.7,564.6" fill="#00ff00"/>
<polygon points="1401.3,558.8 1396.7,566.8 1405.9,566.8" fill="#00ff00"/>
<polygon points="1391.4,562.8 1386.9,570.9 1396.0,570.9" fill="#00ff00"/>
<polygon points="1382.2,563.1 1377.6,571.1 1386.8,571.1" fill="#00ff00"/>
<polygon points="1376.1,568.3 1371.6,576.3 1380.7,576.3" fill="#00ff00"/>
<polygon points="1371.0,573.8 1366.4,581.8 1375.6,581.8" fill="#00ff00"/>
<polygon points="1366.6,578.8 1362.0,586.8 1371.2,586.8" fill="#00ff00"/>
<polygon points="1363.0,583.6 1358.5,591.6 1367.6,591.6" fill="#00ff00"/>
<polygon points="1359.9,587.8 1355.3,595.9 1364.4,595.9" fill="#00ff00"/>
<polygon points="1357.2,591.7 1352.6,599.8 1361.8,599.8" fill="#00ff00"/>
<polygon points="1355.0,595.3 1350.4,603.3 1359.6,603.3" fill="#00ff00"/>
<polygon points="1353.0,598.5 1348.4,606.5 1357.6,606.5" fill="#00ff00"/>
<polygon points="1351.3,601.3 1346.7,609.3 1355.8,609.3" fill="#00ff00"/>
<polygon points="1349.8,603.9 1345.2,611.9 1354.4,611.9" fill="#00ff00"/>
<polygon points="1348.5,606.2 1344.0,614.2 1353.1,614.2" fill="#00ff00"/>
<polygon points="1347.5,608.6 1342.9,616.6 1352.1,616.6" fill="#00ff00"/>
<polygon points="1346.5,611.0 1341.9,619.0 1351.1,619.0" fill="#00ff00"/>
<polygon points="1345.7,613.5 1341.1,621.5 1350.3,621.5" fill="#00ff00"/>
<polygon points="1344.9,615.9 1340.3,624.0 1349.5,624.0" fill="#00ff00"/>
<polygon points="1344.2,618.4 1339.6,626.5 1348.8,626.5" fill="#00ff00"/>
<polygon points="1343.6,621.0 1339.0,629.0 1348.2,629.0" fill="#00ff00"/>
<polygon points="1343.0,623.5 1338.4,631.5 1347.6,631.5" fill="#00ff00"/>
</g>
<g id="s_blue">
<polygon points="1968.4,91.2 1963.8,83.2 1973.0,83.2" fill="#0000ff"/>
<polygon points="1906.9,150.2 1902.3,142.2 1911.5,142.2" fill="#0000ff"/>
<polygon points="1852.5,203.0 1847.9,195.0 1857.1,195.0" fill="#0000ff"/>
<polygon points="1803.2,249.0 1798.6,241.0 1807.8,241.0" fill="#0000ff"/>
<polygon points="1760.3,290.8 1755.7,282.8 1764.9,282.8" fill="#0000ff"/>
<polygon points="1720.9,327.6 1716.3,319.6 1725.5,319.6" fill="#0000ff"/>
<polygon points="1686.5,360.1 1681.9,352.1 1691.1,352.1" fill="#0000ff"/>
<polygon points="1654.9,388.3 1650.3,380.3 1659.5,380.3" fill="#0000ff"/>
<polygon points="1626.8,414.7 1622.2,406.7 1631.4,406.7" fill="#0000ff"/>
<polygon points="1601.4,436.4 1596.8,428.4 1606.0,428.4" fill="#0000ff"/>
<polygon points="1579.1,457.0 1574.5,449.0 1583.7,449.0" fill="#0000ff"/>
<polygon points="1558.5,473.2 1553.9,465.2 1563.1,465.2" fill="#0000ff"/>
<polygon points="1539.7,489.0 1535.1,481.0 1544.3,481.0" fill="#0000ff"/>
<polygon points="1522.8,502.4 1518.2,494.4 1527.4,494.4" fill="#0000ff"/>
<polygon points="1506.9,513.8 1502.3,505.8 1511.5,505.8" fill="#0000ff"/>
<polygon points="1492.2,523.6 1487.6,515.6 1496.8,515.6" fill="#0000ff"/>
<polygon points="1478.8,531.8 1474.2,523.8 1483.4,523.8" fill="#0000ff"/>
<polygon points="1465.5,539.8 1460.9,531.8 1470.1,531.8" fill="#0000ff"/>
<polygon points="1453.2,546.3 1448.6,538.3 1457.8,538.3" fill="#0000ff"/>
<polygon points="1440.9,551.7 1436.3,543.7 1445.5,543.7" fill="#0000ff"/>
<polygon points="1430.5,556.1 1425.9,548.1 1435.1,548.1" fill="#0000ff"/>
<polygon points="1418.5,561.5 1413.9,553.5 1423.1,553.5" fill="#0000ff"/>
<polygon points="1408.1,565.1 1403.5,557.0 1412.7,557.0" fill="#0000ff"/>
<polygon points="1399.2,569.1 1394.6,561.0 1403.8,561.0" fill="#0000ff"/>
<polygon points="1391.5,573.2 1386.9,565.2 1396.1,565.2" fill="#0000ff"/>
<polygon points="1384.3,573.3 1379.7,565.3 1388.9,565.3" fill="#0000ff"/>
<polygon points="1378.8,575.6 1374.2,567.5 1383.4,567.5" fill="#0000ff"/>
<polygon points="1374.7,580.1 1370.1,572.1 1379.2,572.1" fill="#0000ff"/>
<polygon points="1370.9,584.1 1366.3,576.1 1375.5,576.1" fill="#0000ff"/>
<polygon points="1367.7,587.7 1363.1,579.7 1372.2,579.7" fill="#0000ff"/>
<polygon points="1365.1,591.2 1360.5,583.2 1369.7,583.2" fill="#0000ff"/>
<polygon points="1362.8,594.3 1358.2,586.3 1367.4,586.3" fill="#0000ff"/>
<polygon points="1360.7,597.0 1356.1,589.0 1365.3,589.0" fill="#0000ff"/>
<polygon points="1358.9,599.5 1354.3,591.5 1363.5,591.5" fill="#0000ff"/>
<polygon points="1357.5,601.8 1352.9,593.8 1362.1,593.8" fill="#0000ff"/>
<polygon points="1356.1,604.0 1351.5,596.0 1360.7,596.0" fill="#0000ff"/>
<polygon points="1354.7,606.2 1350.1,598.2 1359.3,598.2" fill="#0000ff"/>
<polygon points="1353.3,608.4 1348.8,600.4 1357.9,600.4" fill="#0000ff"/>
<polygon points="1352.0,610.6 1347.4,602.6 1356.6,602.6" fill="#0000ff"/>
<polygon points="1350.7,612.9 1346.1,604.8 1355.3,604.8" fill="#0000ff"/>
<polygon points="1349.4,615.1 1344.8,607.1 1354.0,607.1" fill="#0000ff"/>
<polygon points="1348.3,617.5 1343.8,609.5 1352.9,609.5" fill="#0000ff"/>
<polygon points="1347.3,619.9 1342.7,611.9 1351.9,611.9" fill="#0000ff"/>
<polygon points="1346.4,622.4 1341.9,614.3 1351.0,614.3" fill="#0000ff"/>
<polygon points="1345.6,624.8 1341.0,616.8 1350.2,616.8" fill="#0000ff"/>
<polygon points="1344.9,627.3 1340.3,619.3 1349.5,619.3" fill="#0000ff"/>
<polygon points="1344.3,629.8 1339.7,621.8 1348.9,621.8" fill="#0000ff"/>
<polygon points="1343.7,632.4 1339.1,624.3 1348.3,624.3" fill="#0000ff"/>
</g>
<g id="s_cyan">
<polygon points="1938.7,85.2 1943.7,90.2 1938.7,95.2 1933.7,90.2" fill="#00ffff"/>
<polygon points="1878.2,143.0 1883.2,148.0 1878.2,153.0 1873.2,148.0" fill="#00ffff"/>
<polygon points="1824.1,195.6 1829.1,200.6 1824.1,205.6 1819.1,200.6" fill="#00ffff"/>
<polygon points="1775.9,241.6 1780.9,246.6 1775.9,251.6 1770.9,246.6" fill="#00ffff"/>
<polygon points="1732.6,282.7 1737.6,287.7 1732.6,292.7 1727.6,287.7" fill="#00ffff"/>
<polygon points="1693.1,318.9 1698.1,323.9 1693.1,328.9 1688.1,323.9" fill="#00ffff"/>
<polygon points="1658.5,351.0 1663.5,356.0 1658.5,361.0 1653.5,356.0" fill="#00ffff"/>
<polygon points="1627.9,379.8 1632.9,384.8 1627.9,389.8 1622.9,384.8" fill="#00ffff"/>
<polygon points="1600.1,404.7 1605.1,409.7 1600.1,414.7 1595.1,409.7" fill="#00ffff"/>
<polygon points="1574.8,427.2 1579.8,432.2 1574.8,437.2 1569.8,432.2" fill="#00ffff"/>
<polygon points="1552.0,446.7 1557.0,451.7 1552.0,456.7 1547.0,451.7" fill="#00ffff"/>
<polygon points="1531.9,464.3 1536.9,469.3 1531.9,474.3 1526.9,469.3" fill="#00ffff"/>
<polygon points="1513.1,479.4 1518.1,484.4 1513.1,489.4 1508.1,484.4" fill="#00ffff"/>
<polygon points="1495.7,493.5 1500.7,498.5 1495.7,503.5 1490.7,498.5" fill="#00ffff"/>
<polygon points="1479.6,506.0 1484.6,511.0 1479.6,516.0 1474.6,511.0" fill="#00ffff"/>
<polygon points="1465.1,515.7 1470.1,520.7 1465.1,525.7 1460.1,520.7" fill="#00ffff"/>
<polygon points="1451.0,524.8 1456.0,529.8 1451.0,534.8 1446.0,529.8" fill="#00ffff"/>
<polygon points="1438.0,532.4 1443.0,537.4 1438.0,542.4 1433.0,537.4" fill="#00ffff"/>
<polygon points="1426.1,540.0 1431.1,545.0 1426.1,550.0 1421.1,545.0" fill="#00ffff"/>
<polygon points="1415.3,547.6 1420.3,552.6 1415.3,557.6 1410.3,552.6" fill="#00ffff"/>
<polygon points="1405.6,554.1 1410.6,559.1 1405.6,564.1 1400.6,559.1" fill="#00ffff"/>
<polygon points="1396.0,558.4 1401.1,563.4 1396.0,568.4 1391.0,563.4" fill="#00ffff"/>
<polygon points="1387.7,562.4 1392.7,567.5 1387.7,572.5 1382.6,567.5" fill="#00ffff"/>
<polygon points="1379.9,563.5 1384.9,568.5 1379.9,573.6 1374.8,568.5" fill="#00ffff"/>
<polygon points="1374.9,569.0 1380.0,574.0 1374.9,579.0 1369.9,574.0" fill="#00ffff"/>
<polygon points="1370.4,573.8 1375.5,578.8 1370.4,583.9 1365.4,578.8" fill="#00ffff"/>
<polygon points="1366.6,578.2 1371.6,583.2 1366.6,588.3 1361.5,583.2" fill="#00ffff"/>
<polygon points="1363.5,582.4 1368.5,587.4 1363.5,592.5 1358.4,587.4" fill="#00ffff"/>
<polygon points="1360.7,586.1 1365.7,591.1 1360.7,596.2 1355.6,591.1" fill="#00ffff"/>
<polygon points="1358.2,589.4 1363.3,594.5 1358.2,599.5 1353.2,594.5" fill="#00ffff"/>
<polygon points="1356.3,592.5 1361.3,597.6 1356.3,602.6 1351.2,597.6" fill="#00ffff"/>
<polygon points="1354.6,595.3 1359.6,600.4 1354.6,605.4 1349.5,600.4" fill="#00ffff"/>
<polygon points="1353.0,597.8 1358.1,602.8 1353.0,607.9 1348.0,602.8" fill="#00ffff"/>
<polygon points="1351.6,600.0 1356.7,605.0 1351.6,610.1 1346.6,605.0" fill="#00ffff"/>
<polygon points="1350.3,602.3 1355.4,607.3 1350.3,612.3 1345.3,607.3" fill="#00ffff"/>
<polygon points="1349.1,604.5 1354.1,609.6 1349.1,614.6 1344.0,609.6" fill="#00ffff"/>
<polygon points="1348.0,606.9 1353.0,611.9 1348.0,617.0 1342.9,611.9" fill="#00ffff"/>
<polygon points="1347.0,609.3 1352.0,614.3 1347.0,619.4 1341.9,614.3" fill="#00ffff"/>
<polygon points="1346.1,611.7 1351.1,616.8 1346.1,621.8 1341.0,616.8" fill="#00ffff"/>
<polygon points="1345.2,614.2 1350.3,619.2 1345.2,624.3 1340.2,619.2" fill="#00ffff"/>
<polygon points="1344.5,616.7 1349.5,621.7 1344.5,626.8 1339.5,621.7" fill="#00ffff"/>
<polygon points="1343.8,619.2 1348.9,624.2 1343.8,629.3 1338.8,624.2" fill="#00ffff"/>
<polygon points="1343.3,621.7 1348.3,626.8 1343.3,631.8 1338.2,626.8" fill="#00ffff"/>
</g>
<g id="s_magenta">
<polygon points="1915.2,72.2 1923.2,67.6 1923.2,76.8" fill="#ff00ff"/>
<polygon points="1852.2,133.0 1860.2,128.4 1860.2,137.6" fill="#ff00ff"/>
<polygon points="1795.6,186.8 1803.6,182.2 1803.6,191.4" fill="#ff00ff"/>
<polygon points="1746.6,234.7 1754.6,230.1 1754.6,239.3" fill="#ff00ff"/>
<polygon points="1700.9,277.5 1708.9,272.9 1708.9,282.1" fill="#ff00ff"/>
<polygon points="1661.9,315.2 1669.9,310.6 1669.9,319.8" fill="#ff00ff"/>
<polygon points="1626.0,349.0 1634.0,344.4 1634.0,353.6" fill="#ff00ff"/>
<polygon points="1594.0,378.7 1602.0,374.1 1602.0,383.3" fill="#ff00ff"/>
<polygon points="1565.9,405.4 1573.9,400.8 1573.9,410.0" fill="#ff00ff"/>
<polygon points="1540.3,429.0 1548.3,424.4 1548.3,433.6" fill="#ff00ff"/>
<polygon points="1517.1,449.8 1525.1,445.2 1525.1,454.4" fill="#ff00ff"/>
<polygon points="1496.1,468.6 1504.1,464.0 1504.1,473.2" fill="#ff00ff"/>
<polygon points="1477.1,485.5 1485.1,480.9 1485.1,490.1" fill="#ff00ff"/>
<polygon points="1459.4,500.6 1467.4,496.0 1467.4,505.2" fill="#ff00ff"/>
<polygon points="1443.9,513.5 1451.9,508.9 1451.9,518.1" fill="#ff00ff"/>
<polygon points="1429.9,525.5 1437.9,520.9 1437.9,530.1" fill="#ff00ff"/>
<polygon points="1417.2,536.3 1425.2,531.7 1425.2,540.9" fill="#ff00ff"/>
<polygon points="1406.4,546.1 1414.4,541.5 1414.4,550.7" fill="#ff00ff"/>
<polygon points="1396.6,555.8 1404.6,551.2 1404.6,560.4" fill="#ff00ff"/>
<polygon points="1387.6,564.4 1395.6,559.9 1395.6,569.0" fill="#ff00ff"/>
<polygon points="1377.1,567.8 1385.1,563.2 1385.1,572.4" fill="#ff00ff"/>
<polygon points="1370.2,574.8 1378.2,570.2 1378.2,579.4" fill="#ff00ff"/>
<polygon points="1364.2,581.3 1372.2,576.7 1372.2,585.8" fill="#ff00ff"/>
<polygon points="1359.4,587.4 1367.4,582.8 1367.4,592.0" fill="#ff00ff"/>
<polygon points="1355.2,593.0 1363.2,588.4 1363.2,597.6" fill="#ff00ff"/>
<polygon points="1351.8,598.2 1359.8,593.6 1359.8,602.8" fill="#ff00ff"/>
<polygon points="1348.8,602.9 1356.9,598.3 1356.9,607.5" fill="#ff00ff"/>
<polygon points="1346.3,607.1 1354.3,602.5 1354.3,611.7" fill="#ff00ff"/>
<polygon points="1344.1,610.9 1352.2,606.3 1352.2,615.5" fill="#ff00ff"/>
<polygon points="1342.6,614.5 1350.6,609.9 1350.6,619.1" fill="#ff00ff"/>
<polygon points="1341.4,617.7 1349.4,613.1 1349.4,622.3" fill="#ff00ff"/>
<polygon points="1340.4,620.6 1348.4,616.1 1348.4,625.2" fill="#ff00ff"/>
<polygon points="1339.7,623.3 1347.7,618.7 1347.7,627.9" fill="#ff00ff"/>
<polygon points="1339.0,625.8 1347.1,621.2 1347.1,630.4" fill="#ff00ff"/>
<polygon points="1338.5,628.4 1346.5,623.8 1346.5,632.9" fill="#ff00ff"/>
</g>
<g id="s_olive">
<polygon points="1917.3,58.4 1909.3,53.8 1909.3,63.0" fill="#808000"/>
<polygon points="1852.2,120.8 1844.2,116.2 1844.2,125.4" fill="#808000"/>
<polygon points="1794.4,176.7 1786.4,172.1 1786.4,181.3" fill="#808000"/>
<polygon points="1743.2,226.0 1735.2,221.4 1735.2,230.6" fill="#808000"/>
<polygon points="1698.2,270.0 1690.2,265.4 1690.2,274.6" fill="#808000"/>
<polygon points="1657.7,308.3 1649.7,303.7 1649.7,312.9" fill="#808000"/>
<polygon points="1621.0,343.2 1613.0,338.6 1613.0,347.8" fill="#808000"/>
<polygon points="1589.6,375.0 1581.6,370.4 1581.6,379.6" fill="#808000"/>
<polygon points="1560.3,402.1 1552.3,397.5 1552.3,406.7" fill="#808000"/>
<polygon points="1533.9,426.8 1525.9,422.2 1525.9,431.4" fill="#808000"/>
<polygon points="1510.7,449.1 1502.7,444.5 1502.7,453.7" fill="#808000"/>
<polygon points="1490.2,468.6 1482.2,464.0 1482.2,473.2" fill="#808000"/>
<polygon points="1471.1,486.4 1463.1,481.8 1463.1,491.0" fill="#808000"/>
<polygon points="1453.9,502.3 1445.9,497.7 1445.9,506.9" fill="#808000"/>
<polygon points="1439.4,516.8 1431.4,512.2 1431.4,521.4" fill="#808000"/>
<polygon points="1426.4,529.8 1418.4,525.2 1418.4,534.4" fill="#808000"/>
<polygon points="1414.5,541.3 1406.5,536.7 1406.5,545.9" fill="#808000"/>
<polygon points="1403.7,551.5 1395.7,546.9 1395.7,556.1" fill="#808000"/>
<polygon points="1393.9,561.2 1385.9,556.6 1385.9,565.8" fill="#808000"/>
<polygon points="1387.1,568.5 1379.1,563.9 1379.1,573.1" fill="#808000"/>
<polygon points="1380.1,576.2 1372.1,571.6 1372.1,580.8" fill="#808000"/>
<polygon points="1373.8,582.9 1365.8,578.3 1365.8,587.5" fill="#808000"/>
<polygon points="1368.9,589.5 1360.9,584.9 1360.9,594.1" fill="#808000"/>
<polygon points="1364.7,595.1 1356.7,590.5 1356.7,599.7" fill="#808000"/>
<polygon points="1361.2,600.7 1353.2,596.1 1353.2,605.3" fill="#808000"/>
<polygon points="1357.7,606.3 1349.7,601.7 1349.7,610.9" fill="#808000"/>
<polygon points="1354.9,611.2 1346.9,606.6 1346.9,615.8" fill="#808000"/>
<polygon points="1352.8,616.1 1344.8,611.5 1344.8,620.7" fill="#808000"/>
<polygon points="1351.1,621.0 1343.1,616.4 1343.1,625.6" fill="#808000"/>
<polygon points="1350.0,625.2 1342.0,620.6 1342.0,629.8" fill="#808000"/>
<polygon points="1349.3,628.2 1341.3,623.6 1341.3,632.8" fill="#808000"/>
<polygon points="1348.9,630.0 1340.9,625.4 1340.9,634.6" fill="#808000"/>
</g>
<rect x="1328.9" y="34.4" width="814.6" height="599.7" fill="none" stroke="#000" stroke-width="3.8"/>
<line x1="1314.6" y1="634.1" x2="1328.9" y2="634.1" stroke="#000" stroke-width="3.8"/>
<text transform="translate(1308.5,643.8) scale(0.922,1)" font-size="36.5" font-weight="bold" text-anchor="end" fill="#000" >0</text>
<line x1="1314.6" y1="484.2" x2="1328.9" y2="484.2" stroke="#000" stroke-width="3.8"/>
<text transform="translate(1308.5,493.9) scale(0.922,1)" font-size="36.5" font-weight="bold" text-anchor="end" fill="#000" >100</text>
<line x1="1314.6" y1="334.2" x2="1328.9" y2="334.2" stroke="#000" stroke-width="3.8"/>
<text transform="translate(1308.5,343.9) scale(0.922,1)" font-size="36.5" font-weight="bold" text-anchor="end" fill="#000" >200</text>
<line x1="1314.6" y1="184.3" x2="1328.9" y2="184.3" stroke="#000" stroke-width="3.8"/>
<text transform="translate(1308.5,194.0) scale(0.922,1)" font-size="36.5" font-weight="bold" text-anchor="end" fill="#000" >300</text>
<line x1="1314.6" y1="34.4" x2="1328.9" y2="34.4" stroke="#000" stroke-width="3.8"/>
<text transform="translate(1308.5,44.1) scale(0.922,1)" font-size="36.5" font-weight="bold" text-anchor="end" fill="#000" >400</text>
<line x1="1320.7" y1="559.1" x2="1328.9" y2="559.1" stroke="#000" stroke-width="3.8"/>
<line x1="1320.7" y1="409.2" x2="1328.9" y2="409.2" stroke="#000" stroke-width="3.8"/>
<line x1="1320.7" y1="259.3" x2="1328.9" y2="259.3" stroke="#000" stroke-width="3.8"/>
<line x1="1320.7" y1="109.4" x2="1328.9" y2="109.4" stroke="#000" stroke-width="3.8"/>
<line x1="1343.9" y1="634.1" x2="1343.9" y2="648.6" stroke="#000" stroke-width="3.8"/>
<text transform="translate(1343.3,682.9) scale(0.955,1)" font-size="36.5" font-weight="bold" text-anchor="middle" fill="#000" >0</text>
<line x1="1497.6" y1="634.1" x2="1497.6" y2="648.6" stroke="#000" stroke-width="3.8"/>
<text transform="translate(1497.0,682.9) scale(0.955,1)" font-size="36.5" font-weight="bold" text-anchor="middle" fill="#000" >100</text>
<line x1="1651.3" y1="634.1" x2="1651.3" y2="648.6" stroke="#000" stroke-width="3.8"/>
<text transform="translate(1650.7,682.9) scale(0.955,1)" font-size="36.5" font-weight="bold" text-anchor="middle" fill="#000" >200</text>
<line x1="1805.1" y1="634.1" x2="1805.1" y2="648.6" stroke="#000" stroke-width="3.8"/>
<text transform="translate(1804.5,682.9) scale(0.955,1)" font-size="36.5" font-weight="bold" text-anchor="middle" fill="#000" >300</text>
<line x1="1958.8" y1="634.1" x2="1958.8" y2="648.6" stroke="#000" stroke-width="3.8"/>
<text transform="translate(1958.2,682.9) scale(0.955,1)" font-size="36.5" font-weight="bold" text-anchor="middle" fill="#000" >400</text>
<line x1="2112.5" y1="634.1" x2="2112.5" y2="648.6" stroke="#000" stroke-width="3.8"/>
<text transform="translate(2111.9,682.9) scale(0.955,1)" font-size="36.5" font-weight="bold" text-anchor="middle" fill="#000" >500</text>
<line x1="1420.8" y1="634.1" x2="1420.8" y2="642.1" stroke="#000" stroke-width="3.8"/>
<line x1="1574.5" y1="634.1" x2="1574.5" y2="642.1" stroke="#000" stroke-width="3.8"/>
<line x1="1728.2" y1="634.1" x2="1728.2" y2="642.1" stroke="#000" stroke-width="3.8"/>
<line x1="1881.9" y1="634.1" x2="1881.9" y2="642.1" stroke="#000" stroke-width="3.8"/>
<line x1="2035.6" y1="634.1" x2="2035.6" y2="642.1" stroke="#000" stroke-width="3.8"/>
<rect x="1828.8" y="365.0" width="7.4" height="7.4" fill="#000000"/>
<text transform="translate(1876.6,380.1) scale(1.022,1)" font-size="25.8" font-weight="bold" text-anchor="start" fill="#000" >Bare GCE</text>
<circle cx="1832.5" cy="408.6" r="3.9" fill="#ff0000"/>
<text transform="translate(1876.6,419.9) scale(1.022,1)" font-size="25.8" font-weight="bold" text-anchor="start" fill="#000" >rGO/GCE</text>
<polygon points="1832.5,444.0 1827.9,452.0 1837.1,452.0" fill="#00ff00"/>
<text transform="translate(1876.6,459.7) scale(1.022,1)" font-size="25.8" font-weight="bold" text-anchor="start" fill="#000" >Pt/GCE</text>
<polygon points="1832.5,493.1 1827.9,485.1 1837.1,485.1" fill="#0000ff"/>
<text transform="translate(1876.6,499.5) scale(1.022,1)" font-size="25.8" font-weight="bold" text-anchor="start" fill="#000" >rGO/Pt/GCE</text>
<polygon points="1832.5,523.5 1837.5,528.5 1832.5,533.5 1827.5,528.5" fill="#00ffff"/>
<text transform="translate(1876.6,539.3) scale(1.022,1)" font-size="25.8" font-weight="bold" text-anchor="start" fill="#000" >rGO/PtNi/GCE</text>
<polygon points="1827.9,568.5 1835.9,563.9 1835.9,573.0" fill="#ff00ff"/>
<text transform="translate(1876.6,579.1) scale(1.022,1)" font-size="25.8" font-weight="bold" text-anchor="start" fill="#000" >rGO/PANI@Pt/GCE</text>
<polygon points="1837.1,608.4 1829.1,603.8 1829.1,613.0" fill="#808000"/>
<text transform="translate(1876.6,618.9) scale(1.022,1)" font-size="25.8" font-weight="bold" text-anchor="start" fill="#000" >rGO/PANI@PtNi/GCE</text>
<text y="99.3" font-size="45.6" font-weight="bold" fill="#1c1410"><tspan x="1358.8">(</tspan><tspan x="1375.4" y="100.1" font-size="48.8" textLength="29.4" lengthAdjust="spacingAndGlyphs">B</tspan><tspan x="1407.5" y="99.3">)</tspan></text>
<text transform="translate(1734.4,753.0) scale(0.97,1)" font-size="50" font-weight="bold" text-anchor="middle" fill="#000" >Z' /ohm</text>
<text transform="translate(1199.4,438.2) rotate(-90)" font-size="50" font-weight="bold" fill="#000" textLength="185.5" lengthAdjust="spacingAndGlyphs">-Z' /ohm</text>
</g>
</g>
</svg>
</body></html>
